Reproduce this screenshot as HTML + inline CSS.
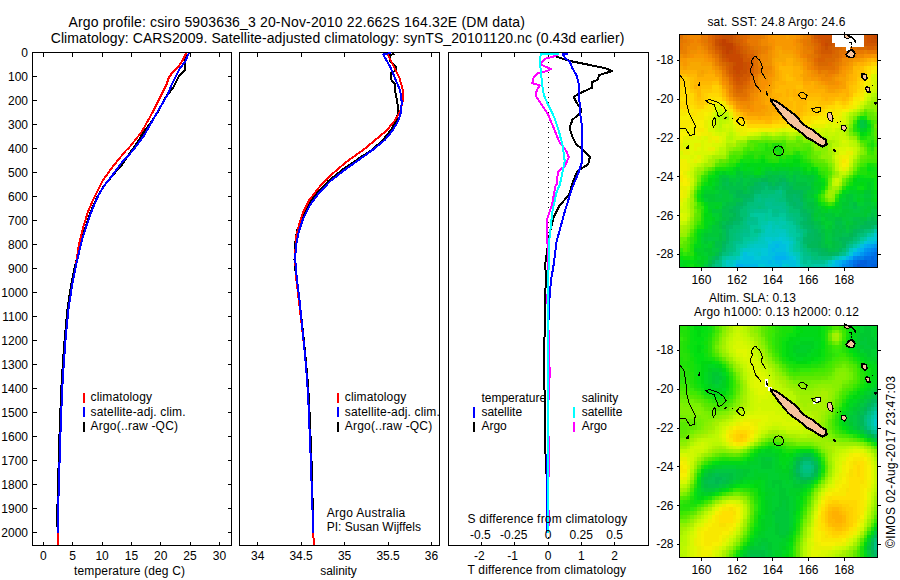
<!DOCTYPE html>
<html lang="en"><head><meta charset="utf-8"><title>Argo profile csiro 5903636_3</title>
<style>html,body{margin:0;padding:0;background:#fff}svg{display:block}</style></head>
<body>
<svg width="900" height="580" viewBox="0 0 900 580" font-family="'Liberation Sans', sans-serif" fill="#000">
<rect width="900" height="580" fill="#fff"/>
<text x="68.4" y="26.5" font-size="14" textLength="456.5" lengthAdjust="spacing">Argo profile: csiro 5903636_3 20-Nov-2010 22.662S 164.32E (DM data)</text>
<text x="50.7" y="42.5" font-size="14" textLength="573.7" lengthAdjust="spacing">Climatology: CARS2009. Satellite-adjusted climatology: synTS_20101120.nc (0.43d earlier)</text>
<g stroke="#000" stroke-width="1" fill="none" shape-rendering="crispEdges">
<rect x="32.5" y="52.5" width="199" height="493"/>
<path d="M43.5 52.5v4M43.5 545.5v-4M72.5 52.5v4M72.5 545.5v-4M102.5 52.5v4M102.5 545.5v-4M131.5 52.5v4M131.5 545.5v-4M160.5 52.5v4M160.5 545.5v-4M190.5 52.5v4M190.5 545.5v-4M219.5 52.5v4M219.5 545.5v-4M32.5 52.5h4M231.5 52.5h-4M32.5 76.5h4M231.5 76.5h-4M32.5 100.5h4M231.5 100.5h-4M32.5 124.5h4M231.5 124.5h-4M32.5 148.5h4M231.5 148.5h-4M32.5 172.5h4M231.5 172.5h-4M32.5 196.5h4M231.5 196.5h-4M32.5 220.5h4M231.5 220.5h-4M32.5 244.5h4M231.5 244.5h-4M32.5 268.5h4M231.5 268.5h-4M32.5 292.5h4M231.5 292.5h-4M32.5 316.5h4M231.5 316.5h-4M32.5 340.5h4M231.5 340.5h-4M32.5 364.5h4M231.5 364.5h-4M32.5 388.5h4M231.5 388.5h-4M32.5 412.5h4M231.5 412.5h-4M32.5 436.5h4M231.5 436.5h-4M32.5 460.5h4M231.5 460.5h-4M32.5 484.5h4M231.5 484.5h-4M32.5 508.5h4M231.5 508.5h-4M32.5 532.5h4M231.5 532.5h-4"/>
</g>
<text x="43.4" y="559.5" font-size="12" text-anchor="middle">0</text>
<text x="72.7" y="559.5" font-size="12" text-anchor="middle">5</text>
<text x="102.1" y="559.5" font-size="12" text-anchor="middle">10</text>
<text x="131.4" y="559.5" font-size="12" text-anchor="middle">15</text>
<text x="160.7" y="559.5" font-size="12" text-anchor="middle">20</text>
<text x="190" y="559.5" font-size="12" text-anchor="middle">25</text>
<text x="219.4" y="559.5" font-size="12" text-anchor="middle">30</text>
<text x="28" y="57" font-size="12" text-anchor="end">0</text>
<text x="28" y="81" font-size="12" text-anchor="end">100</text>
<text x="28" y="105" font-size="12" text-anchor="end">200</text>
<text x="28" y="129" font-size="12" text-anchor="end">300</text>
<text x="28" y="153" font-size="12" text-anchor="end">400</text>
<text x="28" y="177" font-size="12" text-anchor="end">500</text>
<text x="28" y="201" font-size="12" text-anchor="end">600</text>
<text x="28" y="225" font-size="12" text-anchor="end">700</text>
<text x="28" y="249" font-size="12" text-anchor="end">800</text>
<text x="28" y="273" font-size="12" text-anchor="end">900</text>
<text x="28" y="297" font-size="12" text-anchor="end">1000</text>
<text x="28" y="321" font-size="12" text-anchor="end">1100</text>
<text x="28" y="345" font-size="12" text-anchor="end">1200</text>
<text x="28" y="369" font-size="12" text-anchor="end">1300</text>
<text x="28" y="393" font-size="12" text-anchor="end">1400</text>
<text x="28" y="417" font-size="12" text-anchor="end">1500</text>
<text x="28" y="441" font-size="12" text-anchor="end">1600</text>
<text x="28" y="465" font-size="12" text-anchor="end">1700</text>
<text x="28" y="489" font-size="12" text-anchor="end">1800</text>
<text x="28" y="513" font-size="12" text-anchor="end">1900</text>
<text x="28" y="537" font-size="12" text-anchor="end">2000</text>
<path d="M185.6 52.9L185.2 69.8L179 76L172.8 88.4L166.6 95.7L158.3 111.2L150 123.6L143.8 131.9L137.6 142.2L127.2 156.7L122 164.6L112.5 175.5L104 186L97.5 196.5L91 211L86 225.5L82 238L78.8 250L74.6 268L71.3 284L67.6 308L64.8 337L62.8 364L61.2 390L59.3 440L57.6 500L57 527" stroke="#000" stroke-width="2" fill="none" stroke-linejoin="round" shape-rendering="crispEdges"/>
<path d="M186.2 52.9L183.1 59.5L179 65.7L172.8 71.9L168.6 78.1L166.6 84.3L160.3 96.7L152 113.3L141.7 131.9L129.3 147.4L125.5 151L112.8 166.6L102.4 181L94.1 197.6L87.9 212L82.8 228.6L79.2 243L75.5 267.9L72.3 284.2L68.6 308.3L65.7 337.3L63.8 363.9L62.1 390.4L60.2 440L58.4 500L57.8 533L57.6 545" stroke="#f00" stroke-width="2" fill="none" stroke-linejoin="round" shape-rendering="crispEdges"/>
<path d="M188.9 52.9L185.2 61.6L179 69.8L172.8 82.2L167.6 94.7L160.3 107L152 121.6L143.8 136L132.4 151L121 163.5L112.8 174.8L104.5 185.2L98.3 195.5L92 210L86.9 224.5L82.8 236.9L79.7 249.3L75.5 267.9L72.3 284.2L68.6 308.3L65.7 337.3L63.8 363.9L62.1 390.4L60.2 440L58.4 500L57.8 533" stroke="#00f" stroke-width="2" fill="none" stroke-linejoin="round" shape-rendering="crispEdges"/>
<text x="74" y="574.5" font-size="12" textLength="111" lengthAdjust="spacing">temperature (deg C)</text>
<path d="M84 393L84 403" stroke="#f00" stroke-width="2" shape-rendering="crispEdges"/>
<text x="90.6" y="401.3" font-size="12" textLength="61.4" lengthAdjust="spacing">climatology</text>
<path d="M84 407L84 417" stroke="#00f" stroke-width="2" shape-rendering="crispEdges"/>
<text x="90.6" y="415.6" font-size="12" textLength="95" lengthAdjust="spacing">satellite-adj. clim.</text>
<path d="M84 422L84 432" stroke="#000" stroke-width="2" shape-rendering="crispEdges"/>
<text x="90.6" y="429.9" font-size="12" textLength="87.4" lengthAdjust="spacing">Argo(..raw -QC)</text>
<g stroke="#000" stroke-width="1" fill="none" shape-rendering="crispEdges">
<rect x="239.5" y="52.5" width="200" height="493"/>
<path d="M257.5 52.5v4M257.5 545.5v-4M301.5 52.5v4M301.5 545.5v-4M344.5 52.5v4M344.5 545.5v-4M388.5 52.5v4M388.5 545.5v-4M431.5 52.5v4M431.5 545.5v-4"/>
</g>
<text x="257.7" y="559.5" font-size="12" text-anchor="middle">34</text>
<text x="301.1" y="559.5" font-size="12" text-anchor="middle">34.5</text>
<text x="344.6" y="559.5" font-size="12" text-anchor="middle">35</text>
<text x="388.1" y="559.5" font-size="12" text-anchor="middle">35.5</text>
<text x="431.5" y="559.5" font-size="12" text-anchor="middle">36</text>
<path d="M394.5 53.5L389.7 55.4L389.7 61.1L392.6 64L396.4 67.8L395.4 70.6L390.7 73.4L391.6 81L395.4 84.8L395.4 92.4L397.3 101.9L398.3 111.4L396.4 120.9L390.7 130.3L383.1 139.8L372.7 149.3L357 159.7L342 170L328 181.4L315.5 194.8L307.5 206.2L301.5 218.6L297 231L294.8 245.5L294.5 259.6L296 275.9L299.5 301.7L302.5 327.6L305.2 353.4L307.5 379.3L309 399.5L311.5 460L313.3 527" stroke="#000" stroke-width="2" fill="none" stroke-linejoin="round" shape-rendering="crispEdges"/>
<path d="M387.8 54.5L392.6 64L399.2 77.2L403 90.5L403 100L400.2 111.4L394.5 120.9L386.9 130.3L375.5 139.8L364.1 149.3L346.6 161.7L332.1 174.1L319.7 186.6L309.3 200L303.1 212.4L299 224.8L295.9 237.2L295.2 259.6L296 276L299 302L302.1 327.6L304.9 353.4L307 379.3L308.3 399.5L310.8 460L313.3 533L313.8 545" stroke="#f00" stroke-width="2" fill="none" stroke-linejoin="round" shape-rendering="crispEdges"/>
<path d="M390.7 53L383.1 54.5L385.9 59.2L390.7 67.8L395.4 79.1L400.2 90.5L401.7 101.9L401.1 111.4L398.3 120.9L392.6 130.3L385 139.8L373.5 149.3L359 159.7L344.5 170L330 181.4L317.6 194.8L309.3 206.2L303.1 218.6L299 231L295.9 245.5L295.2 259.6L296.6 275.9L299.7 301.7L302.3 327.6L304.9 353.4L307 379.3L308.3 399.5L310.8 460L313.3 533" stroke="#00f" stroke-width="2" fill="none" stroke-linejoin="round" shape-rendering="crispEdges"/>
<text x="338.5" y="574.5" font-size="12" text-anchor="middle">salinity</text>
<path d="M338 393L338 403" stroke="#f00" stroke-width="2" shape-rendering="crispEdges"/>
<text x="344.8" y="401.3" font-size="12" textLength="61.4" lengthAdjust="spacing">climatology</text>
<path d="M338 407L338 417" stroke="#00f" stroke-width="2" shape-rendering="crispEdges"/>
<text x="344.8" y="415.6" font-size="12" textLength="95" lengthAdjust="spacing">satellite-adj. clim.</text>
<path d="M338 422L338 432" stroke="#000" stroke-width="2" shape-rendering="crispEdges"/>
<text x="344.8" y="429.9" font-size="12" textLength="87.4" lengthAdjust="spacing">Argo(..raw -QC)</text>
<text x="326.7" y="516.5" font-size="12" textLength="78.6" lengthAdjust="spacing">Argo Australia</text>
<text x="326.7" y="530.5" font-size="12" textLength="94.3" lengthAdjust="spacing">PI: Susan Wijffels</text>
<g stroke="#000" stroke-width="1" fill="none" shape-rendering="crispEdges">
<rect x="448.5" y="52.5" width="200" height="493"/>
<path d="M481.5 52.5v4M481.5 545.5v-4M514.5 52.5v4M514.5 545.5v-4M548.5 52.5v4M548.5 545.5v-4M581.5 52.5v4M581.5 545.5v-4M614.5 52.5v4M614.5 545.5v-4"/>
</g>
<path d="M548.5 52L548.5 545" stroke="#000" stroke-width="1" stroke-dasharray="1 4" shape-rendering="crispEdges"/>
<path d="M554 55.5L560 58L572.4 61.5L590 65L606.2 68.5L612.2 71L599 75.2L597.8 79.5L591.7 82.5L592.5 87.5L579.7 93.3L573.6 96.9L576 101.7L580.9 109L580.9 112.6L572.4 119.8L569.5 128.3L572.4 136.7L576 144L583.3 150L589.8 157.2L588.1 164.5L582.1 168.1L577.2 171.7L573.1 181L569 194.8L559.3 205.9L553.8 216.9L549.7 233.4L546.9 252.8L545 265.2L546 274.8L545.2 296.9L545.2 329.4L543.8 345L543.8 378L544.8 395L544.8 440L546.5 473.8L546.5 527" stroke="#000" stroke-width="2" fill="none" stroke-linejoin="round" shape-rendering="crispEdges"/>
<path d="M568 53.6L562.5 53.6L565 58L570 62L572.3 68L577 76.4L579 85L579.3 93.3L579.7 110.2L582.1 127.1L582.5 146.4L581.6 163.3L578.4 172.9L573.6 184.5L571.7 189.3L564.8 211.4L556.6 241.7L553.8 263.8L551 280.3L549.1 302.4L548.2 330L548 400L547.5 455L546.5 478L546.5 533" stroke="#00f" stroke-width="2" fill="none" stroke-linejoin="round" shape-rendering="crispEdges"/>
<path d="M557.8 54.9L552 57L546 58.5L542.2 61.5L540.5 64.3L545 66.5L551 68.8L547 71L542.2 72.1L537.5 73.5L533.3 78.2L532.4 83.2L540 85.4L536.7 90.4L535.8 96L539.8 101.7L548.3 115L554.3 129.5L559.1 141.5L566.4 151.2L568.8 157.2L565.2 165.7L557.9 171.7L556.7 184.5L555.2 186.6L552.4 203.1L546.9 219.7L546.9 236.2L548.3 252.8L548.3 302.4" stroke="#f0f" stroke-width="2" fill="none" stroke-linejoin="round" shape-rendering="crispEdges"/>
<path d="M547 294L547 304" stroke="#f0f" stroke-width="2" shape-rendering="crispEdges"/>
<path d="M549 330L549 400" stroke="#f0f" stroke-width="2" shape-rendering="crispEdges"/>
<path d="M550 367L550 378" stroke="#f0f" stroke-width="2" shape-rendering="crispEdges"/>
<path d="M549 436L549 477" stroke="#f0f" stroke-width="2" shape-rendering="crispEdges"/>
<path d="M549 510L549 526" stroke="#f0f" stroke-width="2" shape-rendering="crispEdges"/>
<path d="M559 53.8L541 53.8L540 58L540.5 68L542.3 86L543.8 95L547.6 103.5L554.3 117.4L559.1 131.9L562.8 146.4L564.7 160.9L562.8 170.5L559.9 184.5L556.6 192.1L552.4 211.4L549.1 241.7L548.3 280.3L548.3 329.4L548 400L548.4 533" stroke="#0ff" stroke-width="2" fill="none" stroke-linejoin="round" shape-rendering="crispEdges"/>
<text x="479.4" y="559.5" font-size="12" text-anchor="middle">-2</text>
<text x="512.7" y="559.5" font-size="12" text-anchor="middle">-1</text>
<text x="548" y="559.5" font-size="12" text-anchor="middle">0</text>
<text x="581.3" y="559.5" font-size="12" text-anchor="middle">1</text>
<text x="614.6" y="559.5" font-size="12" text-anchor="middle">2</text>
<text x="480.4" y="538.5" font-size="12" text-anchor="middle">-0.5</text>
<text x="513.7" y="538.5" font-size="12" text-anchor="middle">-0.25</text>
<text x="548" y="538.5" font-size="12" text-anchor="middle">0</text>
<text x="581.3" y="538.5" font-size="12" text-anchor="middle">0.25</text>
<text x="614.6" y="538.5" font-size="12" text-anchor="middle">0.5</text>
<text x="467.5" y="523.3" font-size="12" textLength="159.8" lengthAdjust="spacing">S difference from climatology</text>
<text x="467.5" y="574" font-size="12" textLength="158.6" lengthAdjust="spacing">T difference from climatology</text>
<text x="481.4" y="401.5" font-size="12">temperature</text>
<text x="481.4" y="415.6" font-size="12">satellite</text>
<text x="481.4" y="429.8" font-size="12">Argo</text>
<path d="M474 407L474 418" stroke="#00f" stroke-width="2" shape-rendering="crispEdges"/>
<path d="M474 422L474 432" stroke="#000" stroke-width="2" shape-rendering="crispEdges"/>
<text x="581.7" y="401.5" font-size="12">salinity</text>
<text x="581.7" y="415.6" font-size="12">satellite</text>
<text x="581.7" y="429.8" font-size="12">Argo</text>
<path d="M574 407L574 418" stroke="#0ff" stroke-width="2" shape-rendering="crispEdges"/>
<path d="M574 422L574 432" stroke="#f0f" stroke-width="2" shape-rendering="crispEdges"/>
<g shape-rendering="crispEdges">
<path fill="#e07000" d="M679.5 34.5h3.5v4h-3.5zM746.5 34.5h3.5v4h-3.5zM708 42.5h3.5v3.5h-3.5zM746.5 42.5h3.5v3.5h-3.5zM810.5 42.5h3.5v3.5h-3.5zM708 46h3.5v4h-3.5zM750 46h4v4h-4zM842 46h14.5v4h-14.5zM711.5 50h3.5v4h-3.5zM754 50h3.5v4h-3.5zM838.5 50h10.5v4h-10.5zM715 54h3.5v4h-3.5zM754 54h3.5v4h-3.5zM814 54h3.5v4h-3.5zM838.5 54h3.5v4h-3.5zM754 58h3.5v3.5h-3.5zM835 58h3.5v3.5h-3.5zM718.5 61.5h3.5v4h-3.5zM754 61.5h3.5v4h-3.5zM814 61.5h3.5v4h-3.5zM831.5 61.5h3.5v4h-3.5zM722 65.5h3.5v4h-3.5zM754 65.5h3.5v4h-3.5zM817.5 65.5h17.5v4h-17.5zM754 69.5h3.5v4h-3.5zM725.5 73.5h3.5v3.5h-3.5zM750 77h4v4h-4zM729 81h3.5v4h-3.5zM746.5 85h3.5v4h-3.5zM732.5 89h3.5v4h-3.5zM743 89h3.5v4h-3.5zM736 93h10.5v3.5h-10.5z"/>
<path fill="#e88000" d="M683 34.5h3.5v4h-3.5zM761 34.5h3.5v4h-3.5zM803 34.5h4v4h-4zM686.5 38.5h3.5v4h-3.5zM757.5 38.5h3.5v4h-3.5zM799.5 38.5h3.5v4h-3.5zM683 42.5h7v3.5h-7zM700.5 42.5h3.5v3.5h-3.5zM757.5 42.5h3.5v3.5h-3.5zM683 46h3.5v4h-3.5zM704 46h4v4h-4zM761 46h7v4h-7zM803 46h4v4h-4zM679.5 50h7v4h-7zM761 50h3.5v4h-3.5zM803 50h7.5v4h-7.5zM863.5 50h3.5v4h-3.5zM757.5 54h3.5v4h-3.5zM845.5 54h11v4h-11zM757.5 58h3.5v3.5h-3.5zM807 58h3.5v3.5h-3.5zM715 61.5h3.5v4h-3.5zM757.5 61.5h3.5v4h-3.5zM810.5 61.5h3.5v4h-3.5zM838.5 61.5h3.5v4h-3.5zM718.5 65.5h3.5v4h-3.5zM821 69.5h7v4h-7zM835 69.5h3.5v4h-3.5zM722 73.5h3.5v3.5h-3.5zM824.5 73.5h3.5v3.5h-3.5zM725.5 77h3.5v4h-3.5zM754 77h3.5v4h-3.5zM754 81h3.5v4h-3.5zM729 85h3.5v4h-3.5zM729 89h3.5v4h-3.5zM750 89h4v4h-4zM736 96.5h3.5v4h-3.5zM746.5 96.5h3.5v4h-3.5z"/>
<path fill="#f08000" d="M686.5 34.5h3.5v4h-3.5zM690 38.5h3.5v4h-3.5zM697 38.5h3.5v4h-3.5zM764.5 50h3.5v4h-3.5zM803 54h4v4h-4zM810.5 65.5h3.5v4h-3.5zM828 73.5h3.5v3.5h-3.5z"/>
<path fill="#f08800" d="M690 34.5h10.5v4h-10.5zM764.5 34.5h3.5v4h-3.5zM799.5 34.5h3.5v4h-3.5zM693.5 38.5h3.5v4h-3.5zM761 38.5h7v4h-7zM796 38.5h3.5v4h-3.5zM690 42.5h10.5v3.5h-10.5zM761 42.5h7v3.5h-7zM799.5 42.5h3.5v3.5h-3.5zM686.5 46h10.5v4h-10.5zM700.5 46h3.5v4h-3.5zM768 46h3.5v4h-3.5zM799.5 46h3.5v4h-3.5zM686.5 50h3.5v4h-3.5zM704 50h4v4h-4zM799.5 50h3.5v4h-3.5zM683 54h3.5v4h-3.5zM708 54h3.5v4h-3.5zM761 54h7v4h-7zM799.5 54h3.5v4h-3.5zM856.5 54h7v4h-7zM711.5 58h3.5v3.5h-3.5zM761 58h7v3.5h-7zM842 58h7v3.5h-7zM761 61.5h3.5v4h-3.5zM807 61.5h3.5v4h-3.5zM842 61.5h3.5v4h-3.5zM761 65.5h10.5v4h-10.5zM807 65.5h3.5v4h-3.5zM838.5 65.5h3.5v4h-3.5zM761 69.5h7v4h-7zM814 69.5h3.5v4h-3.5zM757.5 73.5h3.5v3.5h-3.5zM817.5 73.5h7v3.5h-7zM831.5 73.5h3.5v3.5h-3.5zM722 77h3.5v4h-3.5zM821 77h10.5v4h-10.5zM725.5 81h3.5v4h-3.5zM754 85h3.5v4h-3.5zM754 89h3.5v4h-3.5zM729 93h3.5v3.5h-3.5zM750 93h4v3.5h-4zM732.5 96.5h3.5v4h-3.5zM750 96.5h4v4h-4zM739.5 100.5h10.5v4h-10.5zM746.5 104.5h3.5v4h-3.5z"/>
<path fill="#e87800" d="M700.5 34.5h7.5v4h-7.5zM750 34.5h11v4h-11zM807 34.5h3.5v4h-3.5zM683 38.5h3.5v4h-3.5zM700.5 38.5h3.5v4h-3.5zM746.5 38.5h11v4h-11zM803 38.5h4v4h-4zM679.5 42.5h3.5v3.5h-3.5zM704 42.5h4v3.5h-4zM750 42.5h7.5v3.5h-7.5zM803 42.5h4v3.5h-4zM679.5 46h3.5v4h-3.5zM757.5 46h3.5v4h-3.5zM807 46h3.5v4h-3.5zM708 50h3.5v4h-3.5zM757.5 50h3.5v4h-3.5zM810.5 50h3.5v4h-3.5zM853 50h10.5v4h-10.5zM867 50h10.5v4h-10.5zM711.5 54h3.5v4h-3.5zM807 54h3.5v4h-3.5zM842 54h3.5v4h-3.5zM715 58h3.5v3.5h-3.5zM810.5 58h3.5v3.5h-3.5zM838.5 58h3.5v3.5h-3.5zM757.5 65.5h3.5v4h-3.5zM814 65.5h3.5v4h-3.5zM835 65.5h3.5v4h-3.5zM722 69.5h3.5v4h-3.5zM757.5 69.5h3.5v4h-3.5zM817.5 69.5h3.5v4h-3.5zM828 69.5h7v4h-7zM754 73.5h3.5v3.5h-3.5zM750 81h4v4h-4zM750 85h4v4h-4zM746.5 89h3.5v4h-3.5zM746.5 93h3.5v3.5h-3.5zM739.5 96.5h7v4h-7z"/>
<path fill="#e06800" d="M708 34.5h3.5v4h-3.5zM743 34.5h3.5v4h-3.5zM708 38.5h3.5v4h-3.5zM743 38.5h3.5v4h-3.5zM810.5 38.5h3.5v4h-3.5zM845.5 42.5h7.5v3.5h-7.5zM814 46h3.5v4h-3.5zM750 50h4v4h-4zM814 58h3.5v3.5h-3.5zM828 61.5h3.5v4h-3.5zM729 77h3.5v4h-3.5zM746.5 81h3.5v4h-3.5zM732.5 85h3.5v4h-3.5z"/>
<path fill="#d86000" d="M711.5 34.5h3.5v4h-3.5zM736 34.5h3.5v4h-3.5zM838.5 34.5h7v4h-7zM849 34.5h4v4h-4zM711.5 38.5h3.5v4h-3.5zM739.5 38.5h3.5v4h-3.5zM814 38.5h3.5v4h-3.5zM842 38.5h7v4h-7zM853 38.5h3.5v4h-3.5zM711.5 42.5h3.5v3.5h-3.5zM739.5 42.5h3.5v3.5h-3.5zM817.5 42.5h3.5v3.5h-3.5zM838.5 42.5h3.5v3.5h-3.5zM856.5 42.5h3.5v3.5h-3.5zM743 46h3.5v4h-3.5zM817.5 46h3.5v4h-3.5zM835 46h3.5v4h-3.5zM867 46h7v4h-7zM715 50h3.5v4h-3.5zM817.5 50h3.5v4h-3.5zM831.5 50h3.5v4h-3.5zM746.5 54h7.5v4h-7.5zM821 54h10.5v4h-10.5zM750 58h4v3.5h-4zM817.5 58h7v3.5h-7zM725.5 65.5h3.5v4h-3.5zM750 65.5h4v4h-4zM750 69.5h4v4h-4zM729 73.5h3.5v3.5h-3.5zM746.5 77h3.5v4h-3.5zM732.5 81h3.5v4h-3.5zM743 81h3.5v4h-3.5zM736 85h7v4h-7z"/>
<path fill="#d05800" d="M715 34.5h3.5v4h-3.5zM732.5 34.5h3.5v4h-3.5zM814 34.5h3.5v4h-3.5zM835 34.5h3.5v4h-3.5zM856.5 34.5h10.5v4h-10.5zM732.5 38.5h3.5v4h-3.5zM817.5 38.5h3.5v4h-3.5zM835 38.5h3.5v4h-3.5zM856.5 38.5h10.5v4h-10.5zM736 42.5h3.5v3.5h-3.5zM831.5 42.5h3.5v3.5h-3.5zM863.5 42.5h14v3.5h-14zM715 46h3.5v4h-3.5zM739.5 46h3.5v4h-3.5zM821 46h3.5v4h-3.5zM828 46h3.5v4h-3.5zM718.5 50h3.5v4h-3.5zM739.5 50h3.5v4h-3.5zM821 50h10.5v4h-10.5zM743 54h3.5v4h-3.5zM722 58h3.5v3.5h-3.5zM743 58h7v3.5h-7zM729 61.5h3.5v4h-3.5zM729 65.5h3.5v4h-3.5zM729 69.5h3.5v4h-3.5zM746.5 69.5h3.5v4h-3.5zM743 73.5h7v3.5h-7zM732.5 77h3.5v4h-3.5zM739.5 77h7v4h-7zM736 81h7v4h-7z"/>
<path fill="#d05000" d="M718.5 34.5h3.5v4h-3.5zM817.5 34.5h14v4h-14zM867 34.5h3.5v4h-3.5zM821 38.5h3.5v4h-3.5zM831.5 38.5h3.5v4h-3.5zM867 38.5h3.5v4h-3.5zM821 42.5h3.5v3.5h-3.5zM736 46h3.5v4h-3.5zM725.5 58h3.5v3.5h-3.5zM746.5 61.5h3.5v4h-3.5zM746.5 65.5h3.5v4h-3.5zM732.5 73.5h3.5v3.5h-3.5zM736 77h3.5v4h-3.5z"/>
<path fill="#c85000" d="M722 34.5h10.5v4h-10.5zM831.5 34.5h3.5v4h-3.5zM870.5 34.5h3.5v4h-3.5zM715 38.5h3.5v4h-3.5zM729 38.5h3.5v4h-3.5zM824.5 38.5h7v4h-7zM870.5 38.5h7v4h-7zM715 42.5h3.5v3.5h-3.5zM732.5 42.5h3.5v3.5h-3.5zM828 42.5h3.5v3.5h-3.5zM718.5 46h3.5v4h-3.5zM824.5 46h3.5v4h-3.5zM736 50h3.5v4h-3.5zM722 54h3.5v4h-3.5zM739.5 54h3.5v4h-3.5zM732.5 61.5h3.5v4h-3.5zM743 61.5h3.5v4h-3.5zM743 65.5h3.5v4h-3.5zM732.5 69.5h3.5v4h-3.5zM739.5 69.5h7v4h-7zM736 73.5h7v3.5h-7z"/>
<path fill="#d86800" d="M739.5 34.5h3.5v4h-3.5zM810.5 34.5h3.5v4h-3.5zM849 38.5h4v4h-4zM743 42.5h3.5v3.5h-3.5zM814 42.5h3.5v3.5h-3.5zM842 42.5h3.5v3.5h-3.5zM853 42.5h3.5v3.5h-3.5zM711.5 46h3.5v4h-3.5zM746.5 46h3.5v4h-3.5zM838.5 46h3.5v4h-3.5zM856.5 46h10.5v4h-10.5zM874 46h3.5v4h-3.5zM746.5 50h3.5v4h-3.5zM814 50h3.5v4h-3.5zM835 50h3.5v4h-3.5zM817.5 54h3.5v4h-3.5zM831.5 54h7v4h-7zM718.5 58h3.5v3.5h-3.5zM824.5 58h10.5v3.5h-10.5zM722 61.5h3.5v4h-3.5zM817.5 61.5h10.5v4h-10.5zM725.5 69.5h3.5v4h-3.5zM750 73.5h4v3.5h-4zM743 85h3.5v4h-3.5zM736 89h7v4h-7z"/>
<path fill="#f89000" d="M768 34.5h3.5v4h-3.5zM796 34.5h3.5v4h-3.5zM768 38.5h7v4h-7zM792.5 38.5h3.5v4h-3.5zM771.5 42.5h3.5v3.5h-3.5zM792.5 42.5h3.5v3.5h-3.5zM771.5 46h3.5v4h-3.5zM697 50h3.5v4h-3.5zM796 50h3.5v4h-3.5zM690 54h3.5v4h-3.5zM704 54h4v4h-4zM863.5 54h7v4h-7zM708 58h3.5v3.5h-3.5zM803 61.5h4v4h-4zM842 65.5h3.5v4h-3.5zM768 73.5h3.5v3.5h-3.5zM810.5 73.5h3.5v3.5h-3.5zM761 77h3.5v4h-3.5zM817.5 77h3.5v4h-3.5zM722 81h3.5v4h-3.5zM761 81h7v4h-7zM824.5 81h3.5v4h-3.5zM835 81h3.5v4h-3.5zM761 85h3.5v4h-3.5zM757.5 89h3.5v4h-3.5zM754 96.5h3.5v4h-3.5zM739.5 104.5h3.5v4h-3.5zM750 104.5h4v4h-4zM750 108.5h4v3.5h-4z"/>
<path fill="#f89800" d="M771.5 34.5h14v4h-14zM789 34.5h7v4h-7zM775 38.5h17.5v4h-17.5zM775 42.5h17.5v3.5h-17.5zM782 46h14v4h-14zM771.5 50h3.5v4h-3.5zM792.5 50h3.5v4h-3.5zM693.5 54h10.5v4h-10.5zM771.5 54h3.5v4h-3.5zM796 54h3.5v4h-3.5zM870.5 54h7v4h-7zM679.5 58h7v3.5h-7zM704 58h4v3.5h-4zM799.5 58h3.5v3.5h-3.5zM853 58h7v3.5h-7zM683 61.5h3.5v4h-3.5zM849 61.5h4v4h-4zM711.5 65.5h3.5v4h-3.5zM771.5 65.5h3.5v4h-3.5zM803 65.5h4v4h-4zM845.5 65.5h3.5v4h-3.5zM715 69.5h3.5v4h-3.5zM771.5 69.5h3.5v4h-3.5zM807 69.5h3.5v4h-3.5zM842 69.5h3.5v4h-3.5zM718.5 73.5h3.5v3.5h-3.5zM771.5 73.5h3.5v3.5h-3.5zM807 73.5h3.5v3.5h-3.5zM838.5 73.5h7v3.5h-7zM768 77h3.5v4h-3.5zM810.5 77h7v4h-7zM835 77h3.5v4h-3.5zM768 81h3.5v4h-3.5zM821 81h3.5v4h-3.5zM838.5 81h3.5v4h-3.5zM764.5 85h3.5v4h-3.5zM828 85h10.5v4h-10.5zM725.5 89h3.5v4h-3.5zM761 89h3.5v4h-3.5zM757.5 93h3.5v3.5h-3.5zM729 96.5h3.5v4h-3.5zM757.5 96.5h3.5v4h-3.5zM754 100.5h7v4h-7zM736 104.5h3.5v4h-3.5zM754 104.5h10.5v4h-10.5zM743 108.5h7v3.5h-7zM754 108.5h7v3.5h-7z"/>
<path fill="#f8a000" d="M785.5 34.5h3.5v4h-3.5zM775 46h7v4h-7zM775 50h3.5v4h-3.5zM782 50h10.5v4h-10.5zM775 54h3.5v4h-3.5zM792.5 54h3.5v4h-3.5zM686.5 58h17.5v3.5h-17.5zM771.5 58h3.5v3.5h-3.5zM796 58h3.5v3.5h-3.5zM860 58h3.5v3.5h-3.5zM679.5 61.5h3.5v4h-3.5zM686.5 61.5h3.5v4h-3.5zM700.5 61.5h11v4h-11zM771.5 61.5h3.5v4h-3.5zM799.5 61.5h3.5v4h-3.5zM683 65.5h3.5v4h-3.5zM849 65.5h4v4h-4zM700.5 69.5h3.5v4h-3.5zM803 69.5h4v4h-4zM845.5 69.5h3.5v4h-3.5zM715 73.5h3.5v3.5h-3.5zM803 73.5h4v3.5h-4zM718.5 77h3.5v4h-3.5zM771.5 77h3.5v4h-3.5zM803 77h7.5v4h-7.5zM838.5 77h7v4h-7zM817.5 81h3.5v4h-3.5zM842 81h3.5v4h-3.5zM722 85h3.5v4h-3.5zM768 85h3.5v4h-3.5zM824.5 85h3.5v4h-3.5zM838.5 85h7v4h-7zM764.5 89h7v4h-7zM828 89h7v4h-7zM725.5 93h3.5v3.5h-3.5zM761 93h3.5v3.5h-3.5zM761 96.5h3.5v4h-3.5zM732.5 100.5h3.5v4h-3.5zM761 100.5h3.5v4h-3.5zM764.5 104.5h3.5v4h-3.5zM739.5 108.5h3.5v3.5h-3.5zM761 108.5h7v3.5h-7zM746.5 112h18v4h-18z"/>
<path fill="#d06000" d="M845.5 34.5h3.5v4h-3.5zM853 34.5h3.5v4h-3.5zM736 38.5h3.5v4h-3.5zM838.5 38.5h3.5v4h-3.5zM835 42.5h3.5v3.5h-3.5zM860 42.5h3.5v3.5h-3.5zM831.5 46h3.5v4h-3.5zM743 50h3.5v4h-3.5zM718.5 54h3.5v4h-3.5zM725.5 61.5h3.5v4h-3.5zM750 61.5h4v4h-4z"/>
<path fill="#c84800" d="M874 34.5h3.5v4h-3.5zM718.5 38.5h3.5v4h-3.5zM725.5 38.5h3.5v4h-3.5zM824.5 42.5h3.5v3.5h-3.5zM732.5 46h3.5v4h-3.5zM722 50h3.5v4h-3.5zM732.5 50h3.5v4h-3.5zM725.5 54h14v4h-14zM729 58h14v3.5h-14zM736 61.5h7v4h-7zM732.5 65.5h10.5v4h-10.5zM736 69.5h3.5v4h-3.5z"/>
<path fill="#e07800" d="M679.5 38.5h3.5v4h-3.5zM704 38.5h4v4h-4zM807 38.5h3.5v4h-3.5zM807 42.5h3.5v3.5h-3.5zM754 46h3.5v4h-3.5zM810.5 46h3.5v4h-3.5zM849 50h4v4h-4zM810.5 54h3.5v4h-3.5zM835 61.5h3.5v4h-3.5zM732.5 93h3.5v3.5h-3.5z"/>
<path fill="#c04000" d="M722 38.5h3.5v4h-3.5zM722 42.5h10.5v3.5h-10.5zM725.5 46h7v4h-7zM725.5 50h3.5v4h-3.5z"/>
<path fill="#c04800" d="M718.5 42.5h3.5v3.5h-3.5zM722 46h3.5v4h-3.5zM729 50h3.5v4h-3.5z"/>
<path fill="#f09000" d="M768 42.5h3.5v3.5h-3.5zM796 42.5h3.5v3.5h-3.5zM697 46h3.5v4h-3.5zM796 46h3.5v4h-3.5zM690 50h7v4h-7zM700.5 50h3.5v4h-3.5zM768 50h3.5v4h-3.5zM679.5 54h3.5v4h-3.5zM686.5 54h3.5v4h-3.5zM768 54h3.5v4h-3.5zM768 58h3.5v3.5h-3.5zM803 58h4v3.5h-4zM849 58h4v3.5h-4zM711.5 61.5h3.5v4h-3.5zM764.5 61.5h7v4h-7zM845.5 61.5h3.5v4h-3.5zM715 65.5h3.5v4h-3.5zM718.5 69.5h3.5v4h-3.5zM768 69.5h3.5v4h-3.5zM810.5 69.5h3.5v4h-3.5zM838.5 69.5h3.5v4h-3.5zM761 73.5h7v3.5h-7zM814 73.5h3.5v3.5h-3.5zM835 73.5h3.5v3.5h-3.5zM757.5 77h3.5v4h-3.5zM764.5 77h3.5v4h-3.5zM831.5 77h3.5v4h-3.5zM757.5 81h3.5v4h-3.5zM828 81h7v4h-7zM725.5 85h3.5v4h-3.5zM757.5 85h3.5v4h-3.5zM754 93h3.5v3.5h-3.5zM736 100.5h3.5v4h-3.5zM750 100.5h4v4h-4zM743 104.5h3.5v4h-3.5z"/>
<path fill="#f8a800" d="M778.5 50h3.5v4h-3.5zM778.5 54h14v4h-14zM775 58h10.5v3.5h-10.5zM792.5 58h3.5v3.5h-3.5zM863.5 58h3.5v3.5h-3.5zM690 61.5h10.5v4h-10.5zM792.5 61.5h7v4h-7zM853 61.5h3.5v4h-3.5zM679.5 65.5h3.5v4h-3.5zM686.5 65.5h25v4h-25zM799.5 65.5h3.5v4h-3.5zM697 69.5h3.5v4h-3.5zM704 69.5h4v4h-4zM711.5 69.5h3.5v4h-3.5zM775 69.5h3.5v4h-3.5zM849 69.5h4v4h-4zM697 73.5h7v3.5h-7zM775 73.5h3.5v3.5h-3.5zM799.5 73.5h3.5v3.5h-3.5zM845.5 73.5h3.5v3.5h-3.5zM775 77h3.5v4h-3.5zM845.5 77h3.5v4h-3.5zM718.5 81h3.5v4h-3.5zM771.5 81h3.5v4h-3.5zM814 81h3.5v4h-3.5zM771.5 85h3.5v4h-3.5zM817.5 85h7v4h-7zM824.5 89h3.5v4h-3.5zM835 89h3.5v4h-3.5zM764.5 93h7v3.5h-7zM764.5 96.5h3.5v4h-3.5zM771.5 96.5h3.5v4h-3.5zM771.5 100.5h3.5v4h-3.5zM768 104.5h14v4h-14zM768 108.5h10.5v3.5h-10.5zM764.5 112h7v4h-7z"/>
<path fill="#ffb000" d="M785.5 58h7v3.5h-7zM867 58h3.5v3.5h-3.5zM874 58h3.5v3.5h-3.5zM778.5 61.5h3.5v4h-3.5zM785.5 61.5h7v4h-7zM856.5 61.5h7v4h-7zM792.5 65.5h7v4h-7zM679.5 69.5h17.5v4h-17.5zM778.5 69.5h3.5v4h-3.5zM792.5 69.5h10.5v4h-10.5zM704 73.5h11v3.5h-11zM778.5 73.5h3.5v3.5h-3.5zM792.5 73.5h7v3.5h-7zM849 73.5h4v3.5h-4zM697 77h21.5v4h-21.5zM778.5 77h3.5v4h-3.5zM796 77h7v4h-7zM849 77h4v4h-4zM775 81h10.5v4h-10.5zM810.5 81h3.5v4h-3.5zM845.5 81h3.5v4h-3.5zM693.5 85h3.5v4h-3.5zM775 85h3.5v4h-3.5zM803 85h11v4h-11zM845.5 85h3.5v4h-3.5zM722 89h3.5v4h-3.5zM771.5 89h3.5v4h-3.5zM785.5 89h3.5v4h-3.5zM792.5 89h3.5v4h-3.5zM807 89h17.5v4h-17.5zM842 89h7v4h-7zM771.5 93h10.5v3.5h-10.5zM785.5 93h3.5v3.5h-3.5zM792.5 93h7v3.5h-7zM821 93h17.5v3.5h-17.5zM845.5 93h3.5v3.5h-3.5zM725.5 96.5h3.5v4h-3.5zM775 96.5h3.5v4h-3.5zM799.5 96.5h3.5v4h-3.5zM824.5 96.5h3.5v4h-3.5zM729 100.5h3.5v4h-3.5zM775 100.5h7v4h-7zM732.5 104.5h3.5v4h-3.5zM782 104.5h3.5v4h-3.5zM736 108.5h3.5v3.5h-3.5zM778.5 108.5h7v3.5h-7zM771.5 112h7v4h-7zM746.5 116h11v4h-11zM761 116h10.5v4h-10.5z"/>
<path fill="#ffb800" d="M870.5 58h3.5v3.5h-3.5zM863.5 61.5h3.5v4h-3.5zM778.5 65.5h14v4h-14zM853 65.5h7v4h-7zM782 69.5h10.5v4h-10.5zM853 69.5h3.5v4h-3.5zM686.5 73.5h10.5v3.5h-10.5zM782 73.5h3.5v3.5h-3.5zM789 73.5h3.5v3.5h-3.5zM853 73.5h3.5v3.5h-3.5zM693.5 77h3.5v4h-3.5zM782 77h3.5v4h-3.5zM792.5 77h3.5v4h-3.5zM853 77h3.5v4h-3.5zM693.5 81h18v4h-18zM785.5 81h17.5v4h-17.5zM849 81h4v4h-4zM697 85h3.5v4h-3.5zM778.5 85h17.5v4h-17.5zM697 89h3.5v4h-3.5zM775 89h10.5v4h-10.5zM789 89h3.5v4h-3.5zM796 89h11v4h-11zM697 93h3.5v3.5h-3.5zM722 93h3.5v3.5h-3.5zM782 93h3.5v3.5h-3.5zM789 93h3.5v3.5h-3.5zM799.5 93h21.5v3.5h-21.5zM838.5 93h7v3.5h-7zM778.5 96.5h10.5v4h-10.5zM792.5 96.5h7v4h-7zM803 96.5h4v4h-4zM821 96.5h3.5v4h-3.5zM828 96.5h7v4h-7zM842 96.5h3.5v4h-3.5zM782 100.5h10.5v4h-10.5zM796 100.5h11v4h-11zM785.5 104.5h7v4h-7zM796 104.5h7v4h-7zM785.5 108.5h3.5v3.5h-3.5zM796 108.5h7v3.5h-7zM739.5 112h3.5v4h-3.5zM778.5 112h10.5v4h-10.5zM792.5 112h7v4h-7zM743 116h3.5v4h-3.5zM771.5 116h7v4h-7zM782 116h7v4h-7zM764.5 120h7v4h-7z"/>
<path fill="#ffa800" d="M775 61.5h3.5v4h-3.5zM782 61.5h3.5v4h-3.5zM775 65.5h3.5v4h-3.5zM708 69.5h3.5v4h-3.5zM803 81h7.5v4h-7.5zM814 85h3.5v4h-3.5zM838.5 89h3.5v4h-3.5zM768 96.5h3.5v4h-3.5zM764.5 100.5h7v4h-7zM743 112h3.5v4h-3.5zM757.5 116h3.5v4h-3.5z"/>
<path fill="#ffc000" d="M867 61.5h3.5v4h-3.5zM860 65.5h3.5v4h-3.5zM856.5 69.5h7v4h-7zM679.5 73.5h7v3.5h-7zM785.5 73.5h3.5v3.5h-3.5zM856.5 73.5h3.5v3.5h-3.5zM690 77h3.5v4h-3.5zM785.5 77h7v4h-7zM690 81h3.5v4h-3.5zM711.5 81h7v4h-7zM853 81h3.5v4h-3.5zM690 85h3.5v4h-3.5zM700.5 85h11v4h-11zM718.5 85h3.5v4h-3.5zM796 85h7v4h-7zM849 85h4v4h-4zM693.5 89h3.5v4h-3.5zM849 89h4v4h-4zM849 93h4v3.5h-4zM697 96.5h3.5v4h-3.5zM789 96.5h3.5v4h-3.5zM807 96.5h14v4h-14zM835 96.5h7v4h-7zM845.5 96.5h3.5v4h-3.5zM792.5 100.5h3.5v4h-3.5zM817.5 100.5h14v4h-14zM792.5 104.5h3.5v4h-3.5zM803 104.5h4v4h-4zM789 108.5h7v3.5h-7zM803 108.5h4v3.5h-4zM789 112h3.5v4h-3.5zM799.5 112h3.5v4h-3.5zM778.5 116h3.5v4h-3.5zM796 116h3.5v4h-3.5zM750 120h14.5v4h-14.5z"/>
<path fill="#ffd000" d="M870.5 61.5h7v4h-7zM863.5 65.5h3.5v4h-3.5zM863.5 69.5h3.5v4h-3.5zM683 77h3.5v4h-3.5zM860 77h3.5v4h-3.5zM679.5 81h10.5v4h-10.5zM856.5 81h3.5v4h-3.5zM686.5 85h3.5v4h-3.5zM711.5 85h7v4h-7zM856.5 85h3.5v4h-3.5zM711.5 89h7v4h-7zM704 93h4v3.5h-4zM718.5 93h3.5v3.5h-3.5zM704 96.5h4v4h-4zM849 96.5h4v4h-4zM693.5 100.5h3.5v4h-3.5zM704 100.5h4v4h-4zM838.5 100.5h3.5v4h-3.5zM845.5 100.5h3.5v4h-3.5zM697 104.5h7v4h-7zM729 104.5h3.5v4h-3.5zM824.5 104.5h3.5v4h-3.5zM814 108.5h3.5v3.5h-3.5zM807 112h10.5v4h-10.5zM739.5 116h3.5v4h-3.5zM778.5 120h10.5v4h-10.5z"/>
<path fill="#ffd800" d="M867 65.5h3.5v4h-3.5zM863.5 73.5h3.5v3.5h-3.5zM679.5 85h7v4h-7zM679.5 89h3.5v4h-3.5zM686.5 89h3.5v4h-3.5zM856.5 89h3.5v4h-3.5zM679.5 93h14v3.5h-14zM708 93h10.5v3.5h-10.5zM853 93h3.5v3.5h-3.5zM686.5 96.5h7v4h-7zM679.5 100.5h14v4h-14zM835 100.5h3.5v4h-3.5zM679.5 104.5h10.5v4h-10.5zM693.5 104.5h3.5v4h-3.5zM828 104.5h7v4h-7zM842 104.5h3.5v4h-3.5zM817.5 108.5h7v3.5h-7zM732.5 112h3.5v4h-3.5zM817.5 112h3.5v4h-3.5zM736 116h3.5v4h-3.5zM803 116h7.5v4h-7.5zM743 120h3.5v4h-3.5zM789 120h14v4h-14zM746.5 124h25v3.5h-25z"/>
<path fill="#ffe000" d="M870.5 65.5h3.5v4h-3.5zM867 69.5h3.5v4h-3.5zM860 81h3.5v4h-3.5zM683 89h3.5v4h-3.5zM856.5 93h3.5v3.5h-3.5zM679.5 96.5h7v4h-7zM708 96.5h3.5v4h-3.5zM715 96.5h7v4h-7zM849 100.5h4v4h-4zM690 104.5h3.5v4h-3.5zM704 104.5h4v4h-4zM835 104.5h7v4h-7zM845.5 104.5h3.5v4h-3.5zM683 108.5h3.5v3.5h-3.5zM693.5 108.5h7v3.5h-7zM824.5 108.5h3.5v3.5h-3.5zM693.5 112h3.5v4h-3.5zM821 112h3.5v4h-3.5zM810.5 116h7v4h-7zM739.5 120h3.5v4h-3.5zM803 120h4v4h-4zM771.5 124h10.5v3.5h-10.5z"/>
<path fill="#f8e800" d="M874 65.5h3.5v4h-3.5zM867 73.5h3.5v3.5h-3.5zM863.5 77h3.5v4h-3.5zM860 93h3.5v3.5h-3.5zM853 96.5h7v4h-7zM722 100.5h3.5v4h-3.5zM708 104.5h3.5v4h-3.5zM725.5 104.5h3.5v4h-3.5zM849 104.5h4v4h-4zM679.5 108.5h3.5v3.5h-3.5zM690 108.5h3.5v3.5h-3.5zM700.5 108.5h11v3.5h-11zM729 108.5h3.5v3.5h-3.5zM828 108.5h3.5v3.5h-3.5zM835 108.5h7v3.5h-7zM679.5 112h7v4h-7zM697 112h7v4h-7zM824.5 112h14v4h-14zM690 116h14v4h-14zM817.5 116h10.5v4h-10.5zM679.5 120h14v4h-14zM736 120h3.5v4h-3.5zM810.5 120h3.5v4h-3.5zM679.5 124h10.5v3.5h-10.5zM743 124h3.5v3.5h-3.5zM785.5 124h10.5v3.5h-10.5zM799.5 124h7.5v3.5h-7.5zM697 127.5h7v4h-7zM842 159h3.5v3.5h-3.5zM679.5 174.5h3.5v3.5h-3.5zM679.5 178h3.5v4h-3.5z"/>
<path fill="#f8f000" d="M870.5 69.5h3.5v4h-3.5zM867 77h3.5v4h-3.5zM863.5 81h3.5v4h-3.5zM863.5 85h3.5v4h-3.5zM860 96.5h3.5v4h-3.5zM711.5 100.5h3.5v4h-3.5zM853 100.5h3.5v4h-3.5zM842 108.5h7v3.5h-7zM686.5 112h3.5v4h-3.5zM704 112h4v4h-4zM679.5 116h10.5v4h-10.5zM828 116h7v4h-7zM693.5 120h10.5v4h-10.5zM732.5 120h3.5v4h-3.5zM814 120h10.5v4h-10.5zM690 124h14v3.5h-14zM739.5 124h3.5v3.5h-3.5zM796 124h3.5v3.5h-3.5zM807 124h3.5v3.5h-3.5zM693.5 127.5h3.5v4h-3.5zM746.5 127.5h11v4h-11zM679.5 131.5h7v4h-7zM693.5 131.5h7v4h-7zM679.5 135.5h3.5v4h-3.5zM845.5 159h3.5v3.5h-3.5zM842 162.5h3.5v4h-3.5zM679.5 170.5h3.5v4h-3.5zM683 178h3.5v4h-3.5zM683 182h3.5v4h-3.5z"/>
<path fill="#f0f000" d="M874 69.5h3.5v4h-3.5zM867 81h3.5v4h-3.5zM863.5 89h3.5v4h-3.5zM715 100.5h7v4h-7zM856.5 100.5h3.5v4h-3.5zM722 104.5h3.5v4h-3.5zM853 104.5h3.5v4h-3.5zM711.5 108.5h3.5v3.5h-3.5zM708 112h3.5v4h-3.5zM838.5 112h3.5v4h-3.5zM704 116h4v4h-4zM835 116h3.5v4h-3.5zM824.5 120h3.5v4h-3.5zM835 120h3.5v4h-3.5zM736 124h3.5v3.5h-3.5zM679.5 127.5h14v4h-14zM704 127.5h4v4h-4zM743 127.5h3.5v4h-3.5zM757.5 127.5h17.5v4h-17.5zM686.5 131.5h7v4h-7zM700.5 131.5h7.5v4h-7.5zM711.5 135.5h7v4h-7zM679.5 139.5h3.5v3.5h-3.5zM842 155h7v4h-7zM679.5 159h7v3.5h-7zM679.5 162.5h7v4h-7zM845.5 162.5h3.5v4h-3.5zM679.5 166.5h7v4h-7zM683 174.5h3.5v3.5h-3.5zM679.5 182h3.5v4h-3.5zM686.5 182h3.5v4h-3.5zM679.5 190h3.5v3.5h-3.5zM679.5 193.5h3.5v4h-3.5z"/>
<path fill="#ffc800" d="M860 73.5h3.5v3.5h-3.5zM679.5 77h3.5v4h-3.5zM686.5 77h3.5v4h-3.5zM856.5 77h3.5v4h-3.5zM853 85h3.5v4h-3.5zM690 89h3.5v4h-3.5zM700.5 89h11v4h-11zM718.5 89h3.5v4h-3.5zM853 89h3.5v4h-3.5zM693.5 93h3.5v3.5h-3.5zM700.5 93h3.5v3.5h-3.5zM693.5 96.5h3.5v4h-3.5zM700.5 96.5h3.5v4h-3.5zM722 96.5h3.5v4h-3.5zM697 100.5h7v4h-7zM725.5 100.5h3.5v4h-3.5zM807 100.5h10.5v4h-10.5zM831.5 100.5h3.5v4h-3.5zM842 100.5h3.5v4h-3.5zM807 104.5h17.5v4h-17.5zM732.5 108.5h3.5v3.5h-3.5zM807 108.5h7v3.5h-7zM736 112h3.5v4h-3.5zM803 112h4v4h-4zM789 116h7v4h-7zM799.5 116h3.5v4h-3.5zM746.5 120h3.5v4h-3.5zM771.5 120h7v4h-7z"/>
<path fill="#e0f800" d="M870.5 73.5h3.5v3.5h-3.5zM870.5 81h3.5v4h-3.5zM867 89h3.5v4h-3.5zM863.5 93h3.5v3.5h-3.5zM849 108.5h4v3.5h-4zM711.5 112h3.5v4h-3.5zM842 112h3.5v4h-3.5zM708 120h3.5v4h-3.5zM831.5 120h3.5v4h-3.5zM838.5 120h3.5v4h-3.5zM708 124h3.5v3.5h-3.5zM732.5 124h3.5v3.5h-3.5zM824.5 124h3.5v3.5h-3.5zM831.5 124h7v3.5h-7zM778.5 127.5h3.5v4h-3.5zM785.5 127.5h10.5v4h-10.5zM711.5 131.5h3.5v4h-3.5zM746.5 131.5h3.5v4h-3.5zM693.5 135.5h3.5v4h-3.5zM700.5 135.5h3.5v4h-3.5zM718.5 135.5h3.5v4h-3.5zM683 139.5h17.5v3.5h-17.5zM704 139.5h4v3.5h-4zM711.5 139.5h3.5v3.5h-3.5zM718.5 139.5h3.5v3.5h-3.5zM690 143h3.5v4h-3.5zM704 143h7.5v4h-7.5zM686.5 147h7v4h-7zM697 147h3.5v4h-3.5zM704 147h4v4h-4zM845.5 147h3.5v4h-3.5zM690 151h3.5v4h-3.5zM838.5 151h7v4h-7zM679.5 155h10.5v4h-10.5zM693.5 155h3.5v4h-3.5zM686.5 159h7v3.5h-7zM697 159h3.5v3.5h-3.5zM838.5 166.5h3.5v4h-3.5zM686.5 174.5h3.5v3.5h-3.5zM686.5 186h3.5v4h-3.5zM679.5 201.5h3.5v4h-3.5zM679.5 213h3.5v4h-3.5z"/>
<path fill="#d8f800" d="M874 73.5h3.5v3.5h-3.5zM870.5 77h7v4h-7zM870.5 85h3.5v4h-3.5zM863.5 96.5h3.5v4h-3.5zM860 100.5h3.5v4h-3.5zM715 104.5h7v4h-7zM856.5 104.5h3.5v4h-3.5zM715 108.5h3.5v3.5h-3.5zM722 108.5h3.5v3.5h-3.5zM711.5 116h3.5v4h-3.5zM729 116h3.5v4h-3.5zM842 116h3.5v4h-3.5zM842 120h3.5v4h-3.5zM711.5 124h3.5v3.5h-3.5zM725.5 124h3.5v3.5h-3.5zM828 124h3.5v3.5h-3.5zM708 127.5h7v4h-7zM732.5 127.5h3.5v4h-3.5zM782 127.5h3.5v4h-3.5zM796 127.5h14.5v4h-14.5zM817.5 127.5h3.5v4h-3.5zM831.5 127.5h3.5v4h-3.5zM715 131.5h3.5v4h-3.5zM722 131.5h3.5v4h-3.5zM736 131.5h3.5v4h-3.5zM750 131.5h4v4h-4zM704 135.5h4v4h-4zM722 135.5h3.5v4h-3.5zM700.5 139.5h3.5v3.5h-3.5zM842 139.5h3.5v3.5h-3.5zM683 143h7v4h-7zM700.5 143h3.5v4h-3.5zM711.5 143h7v4h-7zM700.5 147h3.5v4h-3.5zM838.5 147h7v4h-7zM849 147h4v4h-4zM679.5 151h3.5v4h-3.5zM693.5 151h18v4h-18zM690 155h3.5v4h-3.5zM700.5 155h3.5v4h-3.5zM835 155h3.5v4h-3.5zM849 155h4v4h-4zM690 162.5h3.5v4h-3.5zM845.5 166.5h3.5v4h-3.5zM686.5 170.5h3.5v4h-3.5zM686.5 190h3.5v3.5h-3.5zM683 197.5h3.5v4h-3.5zM679.5 205.5h3.5v3.5h-3.5zM683 213h3.5v4h-3.5zM679.5 217h7v4h-7z"/>
<path fill="#d0f800" d="M874 81h3.5v4h-3.5zM874 85h3.5v4h-3.5zM870.5 89h3.5v4h-3.5zM867 93h3.5v3.5h-3.5zM845.5 112h3.5v4h-3.5zM711.5 120h3.5v4h-3.5zM729 120h3.5v4h-3.5zM722 124h3.5v3.5h-3.5zM729 124h3.5v3.5h-3.5zM838.5 124h3.5v3.5h-3.5zM725.5 127.5h3.5v4h-3.5zM821 127.5h3.5v4h-3.5zM828 127.5h3.5v4h-3.5zM718.5 131.5h3.5v4h-3.5zM754 131.5h3.5v4h-3.5zM722 139.5h3.5v3.5h-3.5zM845.5 139.5h3.5v3.5h-3.5zM718.5 143h3.5v4h-3.5zM842 143h7v4h-7zM715 147h3.5v4h-3.5zM835 147h3.5v4h-3.5zM711.5 151h3.5v4h-3.5zM700.5 159h3.5v3.5h-3.5zM835 159h3.5v3.5h-3.5zM849 159h4v3.5h-4zM693.5 162.5h3.5v4h-3.5zM690 166.5h3.5v4h-3.5zM690 178h3.5v4h-3.5zM835 178h3.5v4h-3.5zM686.5 193.5h3.5v4h-3.5zM683 201.5h3.5v4h-3.5zM683 205.5h3.5v3.5h-3.5zM679.5 209h7v4h-7z"/>
<path fill="#f8e000" d="M860 85h3.5v4h-3.5zM860 89h3.5v4h-3.5zM711.5 96.5h3.5v4h-3.5zM708 100.5h3.5v4h-3.5zM686.5 108.5h3.5v3.5h-3.5zM831.5 108.5h3.5v3.5h-3.5zM690 112h3.5v4h-3.5zM732.5 116h3.5v4h-3.5zM807 120h3.5v4h-3.5zM782 124h3.5v3.5h-3.5z"/>
<path fill="#e8f000" d="M867 85h3.5v4h-3.5zM711.5 104.5h3.5v4h-3.5zM725.5 108.5h3.5v3.5h-3.5zM729 112h3.5v4h-3.5zM708 116h3.5v4h-3.5zM838.5 116h3.5v4h-3.5zM704 120h4v4h-4zM828 120h3.5v4h-3.5zM704 124h4v3.5h-4zM810.5 124h14v3.5h-14zM736 127.5h7v4h-7zM775 127.5h3.5v4h-3.5zM708 131.5h3.5v4h-3.5zM739.5 131.5h7v4h-7zM683 135.5h10.5v4h-10.5zM697 135.5h3.5v4h-3.5zM708 135.5h3.5v4h-3.5zM708 139.5h3.5v3.5h-3.5zM715 139.5h3.5v3.5h-3.5zM679.5 143h3.5v4h-3.5zM693.5 143h7v4h-7zM679.5 147h7v4h-7zM693.5 147h3.5v4h-3.5zM708 147h7v4h-7zM683 151h7v4h-7zM845.5 151h7.5v4h-7.5zM697 155h3.5v4h-3.5zM838.5 155h3.5v4h-3.5zM693.5 159h3.5v3.5h-3.5zM838.5 159h3.5v3.5h-3.5zM686.5 162.5h3.5v4h-3.5zM838.5 162.5h3.5v4h-3.5zM686.5 166.5h3.5v4h-3.5zM842 166.5h3.5v4h-3.5zM683 170.5h3.5v4h-3.5zM686.5 178h3.5v4h-3.5zM679.5 186h7v4h-7zM683 190h3.5v3.5h-3.5zM683 193.5h3.5v4h-3.5zM679.5 197.5h3.5v4h-3.5z"/>
<path fill="#c8f800" d="M874 89h3.5v4h-3.5zM718.5 108.5h3.5v3.5h-3.5zM853 108.5h3.5v3.5h-3.5zM715 120h3.5v4h-3.5zM725.5 120h3.5v4h-3.5zM715 124h3.5v3.5h-3.5zM715 127.5h3.5v4h-3.5zM722 127.5h3.5v4h-3.5zM729 127.5h3.5v4h-3.5zM810.5 127.5h7v4h-7zM824.5 127.5h3.5v4h-3.5zM835 127.5h3.5v4h-3.5zM725.5 131.5h3.5v4h-3.5zM732.5 131.5h3.5v4h-3.5zM757.5 131.5h3.5v4h-3.5zM771.5 131.5h3.5v4h-3.5zM817.5 131.5h7v4h-7zM828 131.5h7v4h-7zM838.5 131.5h3.5v4h-3.5zM736 135.5h7v4h-7zM838.5 135.5h7v4h-7zM838.5 139.5h3.5v3.5h-3.5zM722 143h3.5v4h-3.5zM838.5 143h3.5v4h-3.5zM853 147h3.5v4h-3.5zM835 151h3.5v4h-3.5zM853 151h3.5v4h-3.5zM704 155h4v4h-4zM835 162.5h3.5v4h-3.5zM690 170.5h3.5v4h-3.5zM842 170.5h3.5v4h-3.5zM690 174.5h3.5v3.5h-3.5zM690 182h3.5v4h-3.5zM835 182h3.5v4h-3.5zM686.5 213h3.5v4h-3.5zM679.5 221h3.5v4h-3.5z"/>
<path fill="#b8f800" d="M870.5 93h3.5v3.5h-3.5zM718.5 112h3.5v4h-3.5zM718.5 120h3.5v4h-3.5zM718.5 124h3.5v3.5h-3.5zM729 131.5h3.5v4h-3.5zM768 131.5h3.5v4h-3.5zM775 131.5h3.5v4h-3.5zM792.5 131.5h3.5v4h-3.5zM725.5 135.5h3.5v4h-3.5zM831.5 135.5h3.5v4h-3.5zM725.5 139.5h7v3.5h-7zM835 139.5h3.5v3.5h-3.5zM831.5 143h7v4h-7zM853 143h3.5v4h-3.5zM718.5 147h7v4h-7zM708 155h3.5v4h-3.5zM831.5 155h3.5v4h-3.5zM853 155h3.5v4h-3.5zM838.5 174.5h3.5v3.5h-3.5zM831.5 178h3.5v4h-3.5zM838.5 178h3.5v4h-3.5zM690 186h3.5v4h-3.5zM686.5 197.5h3.5v4h-3.5zM686.5 201.5h3.5v4h-3.5zM686.5 205.5h3.5v3.5h-3.5zM686.5 217h3.5v4h-3.5z"/>
<path fill="#b0f800" d="M874 93h3.5v3.5h-3.5zM856.5 108.5h3.5v3.5h-3.5zM849 112h4v4h-4zM718.5 116h3.5v4h-3.5zM842 127.5h3.5v4h-3.5zM761 131.5h3.5v4h-3.5zM778.5 131.5h3.5v4h-3.5zM785.5 131.5h3.5v4h-3.5zM803 131.5h4v4h-4zM810.5 131.5h3.5v4h-3.5zM729 135.5h3.5v4h-3.5zM824.5 135.5h3.5v4h-3.5zM853 139.5h3.5v3.5h-3.5zM856.5 147h3.5v4h-3.5zM718.5 151h7v4h-7zM700.5 162.5h3.5v4h-3.5zM693.5 166.5h3.5v4h-3.5zM845.5 170.5h3.5v4h-3.5z"/>
<path fill="#c0f800" d="M867 96.5h3.5v4h-3.5zM863.5 100.5h3.5v4h-3.5zM860 104.5h3.5v4h-3.5zM715 112h3.5v4h-3.5zM722 112h7v4h-7zM715 116h3.5v4h-3.5zM845.5 116h3.5v4h-3.5zM722 120h3.5v4h-3.5zM845.5 120h3.5v4h-3.5zM842 124h3.5v3.5h-3.5zM718.5 127.5h3.5v4h-3.5zM838.5 127.5h3.5v4h-3.5zM789 131.5h3.5v4h-3.5zM814 131.5h3.5v4h-3.5zM824.5 131.5h3.5v4h-3.5zM835 131.5h3.5v4h-3.5zM842 131.5h3.5v4h-3.5zM732.5 135.5h3.5v4h-3.5zM743 135.5h3.5v4h-3.5zM828 135.5h3.5v4h-3.5zM835 135.5h3.5v4h-3.5zM845.5 135.5h3.5v4h-3.5zM732.5 139.5h3.5v3.5h-3.5zM849 139.5h4v3.5h-4zM849 143h4v4h-4zM831.5 147h3.5v4h-3.5zM715 151h3.5v4h-3.5zM704 159h4v3.5h-4zM697 162.5h3.5v4h-3.5zM849 162.5h4v4h-4zM835 166.5h3.5v4h-3.5zM838.5 170.5h3.5v4h-3.5zM831.5 182h3.5v4h-3.5zM686.5 209h3.5v4h-3.5zM683 221h3.5v4h-3.5z"/>
<path fill="#a8f000" d="M870.5 96.5h7v4h-7zM867 100.5h3.5v4h-3.5zM725.5 116h3.5v4h-3.5zM782 131.5h3.5v4h-3.5zM799.5 131.5h3.5v4h-3.5zM807 131.5h3.5v4h-3.5zM845.5 131.5h3.5v4h-3.5zM746.5 135.5h7.5v4h-7.5zM817.5 135.5h7v4h-7zM828 139.5h3.5v3.5h-3.5zM725.5 143h7v4h-7zM828 147h3.5v4h-3.5zM856.5 151h3.5v4h-3.5zM711.5 155h7v4h-7zM708 159h3.5v3.5h-3.5zM849 166.5h4v4h-4zM693.5 170.5h3.5v4h-3.5zM835 174.5h3.5v3.5h-3.5zM693.5 178h3.5v4h-3.5zM838.5 182h3.5v4h-3.5zM831.5 186h3.5v4h-3.5zM690 190h3.5v3.5h-3.5zM686.5 221h3.5v4h-3.5zM683 225h3.5v3.5h-3.5zM679.5 228.5h3.5v4h-3.5z"/>
<path fill="#98f000" d="M870.5 100.5h7v4h-7zM867 104.5h3.5v4h-3.5zM860 108.5h3.5v3.5h-3.5zM757.5 135.5h3.5v4h-3.5zM792.5 135.5h3.5v4h-3.5zM810.5 135.5h3.5v4h-3.5zM739.5 139.5h7v3.5h-7zM828 155h3.5v4h-3.5zM831.5 162.5h3.5v4h-3.5zM831.5 174.5h3.5v3.5h-3.5zM693.5 182h3.5v4h-3.5zM690 193.5h3.5v4h-3.5zM690 201.5h3.5v4h-3.5zM690 205.5h3.5v3.5h-3.5zM686.5 225h3.5v3.5h-3.5zM679.5 232.5h7v4h-7z"/>
<path fill="#a0f000" d="M863.5 104.5h3.5v4h-3.5zM853 112h3.5v4h-3.5zM849 116h4v4h-4zM845.5 127.5h3.5v4h-3.5zM754 135.5h3.5v4h-3.5zM789 135.5h3.5v4h-3.5zM803 135.5h4v4h-4zM814 135.5h3.5v4h-3.5zM849 135.5h4v4h-4zM736 139.5h3.5v3.5h-3.5zM824.5 139.5h3.5v3.5h-3.5zM828 143h3.5v4h-3.5zM856.5 143h3.5v4h-3.5zM725.5 147h3.5v4h-3.5zM828 151h3.5v4h-3.5zM718.5 155h7v4h-7zM711.5 159h3.5v3.5h-3.5zM853 159h3.5v3.5h-3.5zM704 162.5h7.5v4h-7.5zM697 166.5h7v4h-7zM835 170.5h3.5v4h-3.5zM693.5 174.5h3.5v3.5h-3.5zM842 174.5h3.5v3.5h-3.5zM835 186h3.5v4h-3.5zM828 190h7v3.5h-7zM828 193.5h3.5v4h-3.5zM690 197.5h3.5v4h-3.5zM690 209h3.5v4h-3.5zM690 213h3.5v4h-3.5zM683 228.5h3.5v4h-3.5z"/>
<path fill="#90f000" d="M870.5 104.5h7v4h-7zM874 108.5h3.5v3.5h-3.5zM849 120h4v4h-4zM771.5 135.5h3.5v4h-3.5zM785.5 135.5h3.5v4h-3.5zM807 135.5h3.5v4h-3.5zM853 135.5h3.5v4h-3.5zM821 139.5h3.5v3.5h-3.5zM736 143h3.5v4h-3.5zM814 143h7v4h-7zM824.5 143h3.5v4h-3.5zM729 147h3.5v4h-3.5zM725.5 151h3.5v4h-3.5zM824.5 151h3.5v4h-3.5zM821 155h7v4h-7zM856.5 155h3.5v4h-3.5zM828 159h3.5v3.5h-3.5zM831.5 166.5h3.5v4h-3.5zM697 170.5h3.5v4h-3.5zM831.5 193.5h3.5v4h-3.5zM690 217h3.5v4h-3.5z"/>
<path fill="#68e800" d="M863.5 108.5h3.5v3.5h-3.5zM870.5 112h3.5v4h-3.5zM874 116h3.5v4h-3.5zM874 124h3.5v3.5h-3.5zM849 127.5h4v4h-4zM746.5 139.5h3.5v3.5h-3.5zM799.5 139.5h3.5v3.5h-3.5zM796 143h3.5v4h-3.5zM860 143h3.5v4h-3.5zM810.5 147h3.5v4h-3.5zM863.5 147h3.5v4h-3.5zM729 151h3.5v4h-3.5zM814 155h3.5v4h-3.5zM860 155h3.5v4h-3.5zM722 159h3.5v3.5h-3.5zM821 159h3.5v3.5h-3.5zM828 166.5h3.5v4h-3.5zM824.5 197.5h3.5v4h-3.5zM693.5 213h3.5v4h-3.5z"/>
<path fill="#78f000" d="M867 108.5h7v3.5h-7zM849 124h4v3.5h-4zM849 131.5h4v4h-4zM764.5 135.5h3.5v4h-3.5zM782 135.5h3.5v4h-3.5zM807 139.5h3.5v3.5h-3.5zM814 139.5h3.5v3.5h-3.5zM743 143h3.5v4h-3.5zM810.5 143h3.5v4h-3.5zM736 147h3.5v4h-3.5zM725.5 155h3.5v4h-3.5zM817.5 155h3.5v4h-3.5zM824.5 159h3.5v3.5h-3.5zM856.5 159h3.5v3.5h-3.5zM828 162.5h3.5v4h-3.5zM704 166.5h4v4h-4zM700.5 170.5h3.5v4h-3.5zM697 174.5h3.5v3.5h-3.5zM828 182h3.5v4h-3.5zM693.5 186h3.5v4h-3.5zM835 190h3.5v3.5h-3.5z"/>
<path fill="#80f000" d="M856.5 112h3.5v4h-3.5zM761 135.5h3.5v4h-3.5zM768 135.5h3.5v4h-3.5zM778.5 135.5h3.5v4h-3.5zM799.5 135.5h3.5v4h-3.5zM803 139.5h4v3.5h-4zM856.5 139.5h3.5v3.5h-3.5zM739.5 143h3.5v4h-3.5zM732.5 147h3.5v4h-3.5zM715 159h3.5v3.5h-3.5zM831.5 170.5h3.5v4h-3.5zM845.5 174.5h3.5v3.5h-3.5zM831.5 197.5h3.5v4h-3.5zM690 221h3.5v4h-3.5z"/>
<path fill="#60e800" d="M860 112h3.5v4h-3.5zM867 112h3.5v4h-3.5zM870.5 116h3.5v4h-3.5zM771.5 139.5h10.5v3.5h-10.5zM796 139.5h3.5v3.5h-3.5zM785.5 143h10.5v4h-10.5zM799.5 143h3.5v4h-3.5zM810.5 151h3.5v4h-3.5zM810.5 155h3.5v4h-3.5zM863.5 155h3.5v4h-3.5zM718.5 159h3.5v3.5h-3.5zM817.5 159h3.5v3.5h-3.5zM856.5 162.5h3.5v4h-3.5zM708 166.5h3.5v4h-3.5zM828 174.5h3.5v3.5h-3.5zM842 182h3.5v4h-3.5zM693.5 205.5h3.5v3.5h-3.5zM693.5 217h3.5v4h-3.5zM683 240.5h3.5v3.5h-3.5zM679.5 244h3.5v4h-3.5z"/>
<path fill="#40e800" d="M863.5 112h3.5v4h-3.5zM853 120h3.5v4h-3.5zM863.5 139.5h3.5v3.5h-3.5zM874 139.5h3.5v3.5h-3.5zM782 143h3.5v4h-3.5zM746.5 147h3.5v4h-3.5zM782 147h3.5v4h-3.5zM782 151h7v4h-7zM867 151h3.5v4h-3.5zM732.5 155h3.5v4h-3.5zM732.5 159h3.5v3.5h-3.5zM867 159h10.5v3.5h-10.5zM722 162.5h3.5v4h-3.5zM814 162.5h3.5v4h-3.5zM860 162.5h3.5v4h-3.5zM821 166.5h7v4h-7zM700.5 174.5h3.5v3.5h-3.5zM828 201.5h3.5v4h-3.5zM697 205.5h3.5v3.5h-3.5zM693.5 225h3.5v3.5h-3.5zM690 232.5h3.5v4h-3.5zM686.5 244h3.5v4h-3.5z"/>
<path fill="#70f000" d="M874 112h3.5v4h-3.5zM853 116h3.5v4h-3.5zM796 135.5h3.5v4h-3.5zM785.5 139.5h10.5v3.5h-10.5zM810.5 139.5h3.5v3.5h-3.5zM739.5 147h3.5v4h-3.5zM814 151h7v4h-7zM863.5 151h3.5v4h-3.5zM853 166.5h3.5v4h-3.5zM697 178h3.5v4h-3.5zM828 178h3.5v4h-3.5zM842 178h3.5v4h-3.5zM838.5 186h3.5v4h-3.5zM824.5 190h3.5v3.5h-3.5zM693.5 201.5h3.5v4h-3.5zM693.5 209h3.5v4h-3.5zM690 225h3.5v3.5h-3.5zM686.5 232.5h3.5v4h-3.5zM679.5 236.5h7v4h-7zM679.5 240.5h3.5v3.5h-3.5z"/>
<path fill="#b0f000" d="M722 116h3.5v4h-3.5zM845.5 124h3.5v3.5h-3.5zM764.5 131.5h3.5v4h-3.5zM796 131.5h3.5v4h-3.5zM831.5 139.5h3.5v3.5h-3.5zM732.5 143h3.5v4h-3.5zM831.5 151h3.5v4h-3.5zM831.5 159h3.5v3.5h-3.5zM679.5 225h3.5v3.5h-3.5z"/>
<path fill="#30e008" d="M856.5 116h3.5v4h-3.5zM870.5 124h3.5v3.5h-3.5zM746.5 151h3.5v4h-3.5zM754 151h7v4h-7zM792.5 151h3.5v4h-3.5zM754 155h3.5v4h-3.5zM768 155h3.5v4h-3.5zM775 155h3.5v4h-3.5zM736 159h3.5v3.5h-3.5zM807 159h3.5v3.5h-3.5zM821 170.5h3.5v4h-3.5zM704 174.5h4v3.5h-4zM845.5 182h3.5v4h-3.5zM831.5 201.5h3.5v4h-3.5zM690 236.5h3.5v4h-3.5zM690 240.5h3.5v3.5h-3.5z"/>
<path fill="#08e010" d="M860 116h3.5v4h-3.5zM856.5 127.5h3.5v4h-3.5zM867 127.5h3.5v4h-3.5zM792.5 155h3.5v4h-3.5zM739.5 159h3.5v3.5h-3.5zM750 159h4v3.5h-4zM757.5 159h3.5v3.5h-3.5zM778.5 159h3.5v3.5h-3.5zM785.5 159h7v3.5h-7zM799.5 162.5h7.5v4h-7.5zM729 166.5h3.5v4h-3.5zM814 166.5h3.5v4h-3.5zM870.5 166.5h3.5v4h-3.5zM708 174.5h3.5v3.5h-3.5zM860 174.5h3.5v3.5h-3.5zM874 178h3.5v4h-3.5zM704 182h4v4h-4zM874 182h3.5v4h-3.5zM856.5 186h7v4h-7zM874 186h3.5v4h-3.5zM697 193.5h3.5v4h-3.5zM679.5 256h3.5v3.5h-3.5z"/>
<path fill="#10e010" d="M863.5 116h3.5v4h-3.5zM867 120h3.5v4h-3.5zM775 147h3.5v4h-3.5zM778.5 151h3.5v4h-3.5zM796 155h3.5v4h-3.5zM743 159h7v3.5h-7zM754 159h3.5v3.5h-3.5zM764.5 159h3.5v3.5h-3.5zM782 159h3.5v3.5h-3.5zM725.5 166.5h3.5v4h-3.5zM807 166.5h3.5v4h-3.5zM874 166.5h3.5v4h-3.5zM870.5 170.5h7v4h-7zM863.5 174.5h7v3.5h-7zM821 201.5h3.5v4h-3.5zM693.5 240.5h3.5v3.5h-3.5zM690 256h3.5v3.5h-3.5zM690 263.5h3.5v4h-3.5z"/>
<path fill="#50e800" d="M867 116h3.5v4h-3.5zM874 120h3.5v4h-3.5zM856.5 135.5h3.5v4h-3.5zM874 135.5h3.5v4h-3.5zM750 139.5h7.5v3.5h-7.5zM764.5 139.5h3.5v3.5h-3.5zM782 139.5h3.5v3.5h-3.5zM743 147h3.5v4h-3.5zM750 147h4v4h-4zM785.5 147h3.5v4h-3.5zM796 147h3.5v4h-3.5zM803 147h4v4h-4zM874 147h3.5v4h-3.5zM874 151h3.5v4h-3.5zM867 155h3.5v4h-3.5zM863.5 159h3.5v3.5h-3.5zM821 162.5h3.5v4h-3.5zM704 170.5h4v4h-4zM828 170.5h3.5v4h-3.5zM697 209h3.5v4h-3.5zM697 217h3.5v4h-3.5zM686.5 240.5h3.5v3.5h-3.5zM683 248h3.5v4h-3.5z"/>
<path fill="#00d818" d="M856.5 120h3.5v4h-3.5zM867 124h3.5v3.5h-3.5zM743 162.5h3.5v4h-3.5zM750 162.5h21.5v4h-21.5zM775 162.5h7v4h-7zM785.5 162.5h3.5v4h-3.5zM792.5 162.5h7v4h-7zM732.5 166.5h3.5v4h-3.5zM743 166.5h3.5v4h-3.5zM754 166.5h3.5v4h-3.5zM729 170.5h3.5v4h-3.5zM754 170.5h7v4h-7zM814 170.5h3.5v4h-3.5zM711.5 178h3.5v4h-3.5zM817.5 178h3.5v4h-3.5zM860 178h14v4h-14zM821 182h3.5v4h-3.5zM853 182h7v4h-7zM863.5 182h3.5v4h-3.5zM849 186h4v4h-4zM863.5 186h3.5v4h-3.5zM700.5 190h3.5v3.5h-3.5zM817.5 190h3.5v3.5h-3.5zM842 190h3.5v3.5h-3.5zM874 190h3.5v3.5h-3.5zM838.5 193.5h3.5v4h-3.5zM700.5 197.5h3.5v4h-3.5zM874 197.5h3.5v4h-3.5zM704 201.5h4v4h-4zM817.5 201.5h3.5v4h-3.5zM835 201.5h3.5v4h-3.5zM831.5 205.5h3.5v3.5h-3.5zM708 213h3.5v4h-3.5zM704 217h7.5v4h-7.5zM704 221h4v4h-4zM704 225h4v3.5h-4zM697 232.5h3.5v4h-3.5zM697 236.5h3.5v4h-3.5zM697 240.5h3.5v3.5h-3.5zM693.5 244h7v4h-7zM683 259.5h7v4h-7zM693.5 259.5h3.5v4h-3.5zM683 263.5h3.5v4h-3.5zM697 263.5h3.5v4h-3.5z"/>
<path fill="#00c840" d="M860 120h3.5v4h-3.5zM860 124h3.5v3.5h-3.5zM768 170.5h3.5v4h-3.5zM778.5 170.5h7v4h-7zM739.5 174.5h3.5v3.5h-3.5zM750 174.5h4v3.5h-4zM761 174.5h3.5v3.5h-3.5zM785.5 174.5h3.5v3.5h-3.5zM796 174.5h3.5v3.5h-3.5zM736 178h3.5v4h-3.5zM743 178h7v4h-7zM789 178h3.5v4h-3.5zM796 178h11v4h-11zM732.5 182h3.5v4h-3.5zM743 182h3.5v4h-3.5zM807 182h3.5v4h-3.5zM718.5 186h3.5v4h-3.5zM718.5 193.5h3.5v4h-3.5zM729 193.5h3.5v4h-3.5zM729 197.5h3.5v4h-3.5zM807 197.5h7v4h-7zM722 201.5h3.5v4h-3.5zM849 201.5h4v4h-4zM849 205.5h4v3.5h-4zM856.5 205.5h3.5v3.5h-3.5zM853 209h7v4h-7zM870.5 209h7v4h-7zM867 213h3.5v4h-3.5zM874 213h3.5v4h-3.5zM817.5 217h3.5v4h-3.5zM849 217h4v4h-4zM842 221h3.5v4h-3.5zM821 225h3.5v3.5h-3.5zM831.5 225h3.5v3.5h-3.5zM718.5 228.5h3.5v4h-3.5zM845.5 228.5h3.5v4h-3.5zM828 232.5h3.5v4h-3.5zM708 236.5h10.5v4h-10.5zM828 236.5h3.5v4h-3.5zM828 244h3.5v4h-3.5zM711.5 248h7v4h-7zM708 256h3.5v3.5h-3.5zM704 263.5h4v4h-4z"/>
<path fill="#00c830" d="M863.5 120h3.5v4h-3.5zM736 170.5h3.5v4h-3.5zM718.5 174.5h3.5v3.5h-3.5zM743 174.5h3.5v3.5h-3.5zM754 174.5h7v3.5h-7zM807 174.5h3.5v3.5h-3.5zM810.5 182h3.5v4h-3.5zM715 186h3.5v4h-3.5zM810.5 186h3.5v4h-3.5zM863.5 190h7v3.5h-7zM704 193.5h11v4h-11zM810.5 193.5h3.5v4h-3.5zM845.5 193.5h3.5v4h-3.5zM708 197.5h7v4h-7zM845.5 197.5h3.5v4h-3.5zM863.5 197.5h7v4h-7zM814 201.5h3.5v4h-3.5zM842 201.5h7v4h-7zM867 205.5h3.5v3.5h-3.5zM874 205.5h3.5v3.5h-3.5zM817.5 209h3.5v4h-3.5zM842 209h7v4h-7zM863.5 209h7v4h-7zM718.5 213h3.5v4h-3.5zM814 213h3.5v4h-3.5zM821 213h3.5v4h-3.5zM831.5 213h3.5v4h-3.5zM838.5 213h7v4h-7zM863.5 213h3.5v4h-3.5zM824.5 217h3.5v4h-3.5zM715 221h3.5v4h-3.5zM821 221h3.5v4h-3.5zM845.5 221h3.5v4h-3.5zM828 225h3.5v3.5h-3.5zM704 232.5h4v4h-4zM704 240.5h4v3.5h-4zM711.5 240.5h3.5v3.5h-3.5zM704 248h7.5v4h-7.5zM708 252h3.5v4h-3.5z"/>
<path fill="#38e800" d="M870.5 120h3.5v4h-3.5zM768 143h3.5v4h-3.5zM754 147h3.5v4h-3.5zM867 147h3.5v4h-3.5zM743 151h3.5v4h-3.5zM803 151h4v4h-4zM870.5 151h3.5v4h-3.5zM739.5 155h3.5v4h-3.5zM729 159h3.5v3.5h-3.5zM856.5 166.5h3.5v4h-3.5zM824.5 170.5h3.5v4h-3.5zM824.5 186h3.5v4h-3.5zM835 193.5h3.5v4h-3.5zM821 197.5h3.5v4h-3.5zM697 201.5h3.5v4h-3.5zM697 221h3.5v4h-3.5zM686.5 248h3.5v4h-3.5z"/>
<path fill="#28e008" d="M853 124h3.5v3.5h-3.5zM853 127.5h3.5v4h-3.5zM764.5 143h3.5v4h-3.5zM778.5 143h3.5v4h-3.5zM867 143h3.5v4h-3.5zM768 147h3.5v4h-3.5zM870.5 147h3.5v4h-3.5zM750 151h4v4h-4zM761 151h10.5v4h-10.5zM764.5 155h3.5v4h-3.5zM782 155h3.5v4h-3.5zM771.5 159h7v3.5h-7zM729 162.5h3.5v4h-3.5zM810.5 162.5h3.5v4h-3.5zM708 170.5h3.5v4h-3.5zM856.5 170.5h3.5v4h-3.5zM824.5 178h3.5v4h-3.5zM849 178h4v4h-4zM842 186h3.5v4h-3.5zM821 190h3.5v3.5h-3.5zM824.5 201.5h3.5v4h-3.5zM700.5 209h3.5v4h-3.5zM693.5 228.5h3.5v4h-3.5zM686.5 252h7v4h-7z"/>
<path fill="#00d820" d="M856.5 124h3.5v3.5h-3.5zM739.5 162.5h3.5v4h-3.5zM739.5 166.5h3.5v4h-3.5zM746.5 166.5h7.5v4h-7.5zM761 166.5h3.5v4h-3.5zM771.5 166.5h3.5v4h-3.5zM799.5 166.5h3.5v4h-3.5zM718.5 170.5h3.5v4h-3.5zM725.5 170.5h3.5v4h-3.5zM732.5 170.5h3.5v4h-3.5zM807 170.5h3.5v4h-3.5zM715 174.5h3.5v3.5h-3.5zM856.5 178h3.5v4h-3.5zM711.5 182h3.5v4h-3.5zM870.5 182h3.5v4h-3.5zM704 186h7.5v4h-7.5zM853 186h3.5v4h-3.5zM870.5 186h3.5v4h-3.5zM845.5 190h3.5v3.5h-3.5zM814 193.5h3.5v4h-3.5zM874 193.5h3.5v4h-3.5zM708 221h3.5v4h-3.5zM700.5 228.5h3.5v4h-3.5zM697 256h3.5v3.5h-3.5zM679.5 259.5h3.5v4h-3.5zM679.5 263.5h3.5v4h-3.5z"/>
<path fill="#00c838" d="M863.5 124h3.5v3.5h-3.5zM739.5 170.5h3.5v4h-3.5zM764.5 170.5h3.5v4h-3.5zM771.5 170.5h7v4h-7zM785.5 170.5h3.5v4h-3.5zM792.5 170.5h7v4h-7zM722 174.5h7v3.5h-7zM736 174.5h3.5v3.5h-3.5zM746.5 174.5h3.5v3.5h-3.5zM789 174.5h3.5v3.5h-3.5zM799.5 174.5h7.5v3.5h-7.5zM810.5 174.5h3.5v3.5h-3.5zM718.5 178h3.5v4h-3.5zM729 178h7v4h-7zM807 178h7v4h-7zM718.5 182h3.5v4h-3.5zM718.5 190h10.5v3.5h-10.5zM807 190h7v3.5h-7zM715 193.5h3.5v4h-3.5zM722 193.5h7v4h-7zM807 193.5h3.5v4h-3.5zM849 193.5h4v4h-4zM863.5 193.5h7v4h-7zM715 197.5h14v4h-14zM849 197.5h4v4h-4zM863.5 201.5h7v4h-7zM814 205.5h3.5v3.5h-3.5zM842 205.5h7v3.5h-7zM860 205.5h7v3.5h-7zM870.5 205.5h3.5v3.5h-3.5zM711.5 209h10.5v4h-10.5zM814 209h3.5v4h-3.5zM849 209h4v4h-4zM860 209h3.5v4h-3.5zM817.5 213h3.5v4h-3.5zM824.5 213h7v4h-7zM845.5 213h18v4h-18zM718.5 217h3.5v4h-3.5zM814 217h3.5v4h-3.5zM828 217h7v4h-7zM842 217h7v4h-7zM831.5 221h3.5v4h-3.5zM849 221h4v4h-4zM711.5 225h7v3.5h-7zM845.5 225h3.5v3.5h-3.5zM711.5 228.5h7v4h-7zM824.5 228.5h7v4h-7zM708 232.5h10.5v4h-10.5zM824.5 232.5h3.5v4h-3.5zM704 236.5h4v4h-4zM824.5 236.5h3.5v4h-3.5zM824.5 240.5h7v3.5h-7zM711.5 244h3.5v4h-3.5zM711.5 252h3.5v4h-3.5z"/>
<path fill="#00d028" d="M860 127.5h3.5v4h-3.5zM764.5 166.5h7v4h-7zM778.5 166.5h10.5v4h-10.5zM792.5 166.5h7v4h-7zM743 170.5h11v4h-11zM761 170.5h3.5v4h-3.5zM814 174.5h3.5v3.5h-3.5zM814 178h3.5v4h-3.5zM715 182h3.5v4h-3.5zM814 186h3.5v4h-3.5zM704 190h11v3.5h-11zM849 190h7.5v3.5h-7.5zM842 193.5h3.5v4h-3.5zM856.5 193.5h3.5v4h-3.5zM870.5 193.5h3.5v4h-3.5zM814 197.5h3.5v4h-3.5zM838.5 197.5h3.5v4h-3.5zM860 197.5h3.5v4h-3.5zM708 201.5h14v4h-14zM838.5 201.5h3.5v4h-3.5zM874 201.5h3.5v4h-3.5zM708 205.5h7v3.5h-7zM838.5 205.5h3.5v3.5h-3.5zM821 209h3.5v4h-3.5zM831.5 209h7v4h-7zM711.5 221h3.5v4h-3.5zM708 225h3.5v3.5h-3.5zM704 228.5h4v4h-4zM700.5 232.5h3.5v4h-3.5zM700.5 244h3.5v4h-3.5zM708 244h3.5v4h-3.5zM697 248h7v4h-7zM700.5 252h3.5v4h-3.5zM704 256h4v3.5h-4zM700.5 263.5h3.5v4h-3.5z"/>
<path fill="#00d020" d="M863.5 127.5h3.5v4h-3.5zM736 166.5h3.5v4h-3.5zM775 166.5h3.5v4h-3.5zM789 166.5h3.5v4h-3.5zM722 170.5h3.5v4h-3.5zM803 170.5h4v4h-4zM810.5 170.5h3.5v4h-3.5zM715 178h3.5v4h-3.5zM814 182h7v4h-7zM867 182h3.5v4h-3.5zM711.5 186h3.5v4h-3.5zM817.5 186h3.5v4h-3.5zM867 186h3.5v4h-3.5zM856.5 190h7v3.5h-7zM870.5 190h3.5v3.5h-3.5zM700.5 193.5h3.5v4h-3.5zM856.5 197.5h3.5v4h-3.5zM870.5 197.5h3.5v4h-3.5zM715 205.5h3.5v3.5h-3.5zM821 205.5h3.5v3.5h-3.5zM835 205.5h3.5v3.5h-3.5zM708 209h3.5v4h-3.5zM824.5 209h3.5v4h-3.5zM711.5 217h3.5v4h-3.5zM693.5 248h3.5v4h-3.5zM697 252h3.5v4h-3.5zM700.5 256h3.5v3.5h-3.5zM697 259.5h7v4h-7z"/>
<path fill="#30e808" d="M870.5 127.5h3.5v4h-3.5zM856.5 131.5h3.5v4h-3.5zM867 135.5h7v4h-7zM867 139.5h3.5v3.5h-3.5zM874 143h3.5v4h-3.5zM761 147h3.5v4h-3.5zM771.5 155h3.5v4h-3.5zM803 155h4v4h-4zM725.5 162.5h3.5v4h-3.5zM863.5 162.5h3.5v4h-3.5zM817.5 166.5h3.5v4h-3.5zM824.5 174.5h3.5v3.5h-3.5zM700.5 178h3.5v4h-3.5zM700.5 205.5h3.5v3.5h-3.5zM679.5 248h3.5v4h-3.5zM683 252h3.5v4h-3.5z"/>
<path fill="#58e800" d="M874 127.5h3.5v4h-3.5zM853 131.5h3.5v4h-3.5zM874 131.5h3.5v4h-3.5zM757.5 139.5h7v3.5h-7zM768 139.5h3.5v3.5h-3.5zM746.5 143h7.5v4h-7.5zM803 143h7.5v4h-7.5zM789 147h3.5v4h-3.5zM799.5 147h3.5v4h-3.5zM732.5 151h10.5v4h-10.5zM725.5 159h3.5v3.5h-3.5zM814 159h3.5v3.5h-3.5zM860 159h3.5v3.5h-3.5zM715 162.5h3.5v4h-3.5zM824.5 162.5h3.5v4h-3.5zM697 182h3.5v4h-3.5zM693.5 190h3.5v3.5h-3.5zM693.5 197.5h3.5v4h-3.5zM697 213h3.5v4h-3.5zM693.5 221h3.5v4h-3.5zM690 228.5h3.5v4h-3.5zM683 244h3.5v4h-3.5z"/>
<path fill="#00d810" d="M860 131.5h3.5v4h-3.5zM761 159h3.5v3.5h-3.5zM792.5 159h7v3.5h-7zM746.5 162.5h3.5v4h-3.5zM771.5 162.5h3.5v4h-3.5zM782 162.5h3.5v4h-3.5zM789 162.5h3.5v4h-3.5zM757.5 166.5h3.5v4h-3.5zM803 166.5h4v4h-4zM810.5 166.5h3.5v4h-3.5zM715 170.5h3.5v4h-3.5zM817.5 174.5h3.5v3.5h-3.5zM708 178h3.5v4h-3.5zM853 178h3.5v4h-3.5zM708 182h3.5v4h-3.5zM860 182h3.5v4h-3.5zM824.5 205.5h3.5v3.5h-3.5zM704 213h4v4h-4zM693.5 252h3.5v4h-3.5zM693.5 256h3.5v3.5h-3.5zM693.5 263.5h3.5v4h-3.5z"/>
<path fill="#00e010" d="M863.5 131.5h3.5v4h-3.5zM736 162.5h3.5v4h-3.5zM867 166.5h3.5v4h-3.5zM711.5 174.5h3.5v3.5h-3.5zM856.5 174.5h3.5v3.5h-3.5zM821 178h3.5v4h-3.5zM700.5 186h3.5v4h-3.5zM821 186h3.5v4h-3.5zM845.5 186h3.5v4h-3.5zM704 205.5h4v3.5h-4zM828 205.5h3.5v3.5h-3.5zM704 209h4v4h-4zM697 228.5h3.5v4h-3.5zM690 259.5h3.5v4h-3.5zM686.5 263.5h3.5v4h-3.5z"/>
<path fill="#18e008" d="M867 131.5h3.5v4h-3.5zM860 135.5h3.5v4h-3.5zM870.5 143h3.5v4h-3.5zM778.5 147h3.5v4h-3.5zM746.5 155h7.5v4h-7.5zM778.5 155h3.5v4h-3.5zM785.5 155h7v4h-7zM870.5 162.5h3.5v4h-3.5zM718.5 166.5h7v4h-7zM711.5 170.5h3.5v4h-3.5zM853 174.5h3.5v3.5h-3.5zM870.5 174.5h3.5v3.5h-3.5zM697 190h3.5v3.5h-3.5zM817.5 197.5h3.5v4h-3.5zM700.5 201.5h3.5v4h-3.5zM700.5 221h3.5v4h-3.5zM700.5 225h3.5v3.5h-3.5zM693.5 232.5h3.5v4h-3.5zM693.5 236.5h3.5v4h-3.5z"/>
<path fill="#38e808" d="M870.5 131.5h3.5v4h-3.5zM757.5 143h7v4h-7zM757.5 147h3.5v4h-3.5zM771.5 151h3.5v4h-3.5zM799.5 151h3.5v4h-3.5zM697 186h3.5v4h-3.5zM838.5 190h3.5v3.5h-3.5z"/>
<path fill="#88f000" d="M775 135.5h3.5v4h-3.5zM817.5 139.5h3.5v3.5h-3.5zM821 143h3.5v4h-3.5zM814 147h14v4h-14zM860 147h3.5v4h-3.5zM821 151h3.5v4h-3.5zM860 151h3.5v4h-3.5zM711.5 162.5h3.5v4h-3.5zM853 162.5h3.5v4h-3.5zM849 170.5h4v4h-4zM828 186h3.5v4h-3.5zM824.5 193.5h3.5v4h-3.5zM828 197.5h3.5v4h-3.5zM686.5 228.5h3.5v4h-3.5z"/>
<path fill="#20e008" d="M863.5 135.5h3.5v4h-3.5zM870.5 139.5h3.5v3.5h-3.5zM771.5 143h7v4h-7zM764.5 147h3.5v4h-3.5zM771.5 147h3.5v4h-3.5zM775 151h3.5v4h-3.5zM796 151h3.5v4h-3.5zM743 155h3.5v4h-3.5zM757.5 155h3.5v4h-3.5zM799.5 155h3.5v4h-3.5zM768 159h3.5v3.5h-3.5zM803 159h4v3.5h-4zM732.5 162.5h3.5v4h-3.5zM874 162.5h3.5v4h-3.5zM715 166.5h3.5v4h-3.5zM860 166.5h7v4h-7zM817.5 170.5h3.5v4h-3.5zM860 170.5h7v4h-7zM821 174.5h3.5v3.5h-3.5zM704 178h4v4h-4zM700.5 182h3.5v4h-3.5zM824.5 182h3.5v4h-3.5zM817.5 193.5h3.5v4h-3.5zM835 197.5h3.5v4h-3.5zM700.5 213h3.5v4h-3.5zM700.5 217h3.5v4h-3.5zM697 225h3.5v3.5h-3.5zM690 244h3.5v4h-3.5zM690 248h3.5v4h-3.5zM679.5 252h3.5v4h-3.5z"/>
<path fill="#48e800" d="M860 139.5h3.5v3.5h-3.5zM754 143h3.5v4h-3.5zM863.5 143h3.5v4h-3.5zM792.5 147h3.5v4h-3.5zM807 147h3.5v4h-3.5zM789 151h3.5v4h-3.5zM807 151h3.5v4h-3.5zM729 155h3.5v4h-3.5zM736 155h3.5v4h-3.5zM807 155h3.5v4h-3.5zM870.5 155h7v4h-7zM810.5 159h3.5v3.5h-3.5zM718.5 162.5h3.5v4h-3.5zM817.5 162.5h3.5v4h-3.5zM711.5 166.5h3.5v4h-3.5zM853 170.5h3.5v4h-3.5zM849 174.5h4v3.5h-4zM845.5 178h3.5v4h-3.5zM693.5 193.5h3.5v4h-3.5zM821 193.5h3.5v4h-3.5zM686.5 236.5h3.5v4h-3.5z"/>
<path fill="#10e008" d="M761 155h3.5v4h-3.5zM799.5 159h3.5v3.5h-3.5zM807 162.5h3.5v4h-3.5zM867 162.5h3.5v4h-3.5zM867 170.5h3.5v4h-3.5zM874 174.5h3.5v3.5h-3.5zM849 182h4v4h-4zM697 197.5h3.5v4h-3.5zM683 256h7v3.5h-7z"/>
<path fill="#00d030" d="M789 170.5h3.5v4h-3.5zM799.5 170.5h3.5v4h-3.5zM729 174.5h7v3.5h-7zM715 190h3.5v3.5h-3.5zM814 190h3.5v3.5h-3.5zM853 193.5h3.5v4h-3.5zM860 193.5h3.5v4h-3.5zM704 197.5h4v4h-4zM842 197.5h3.5v4h-3.5zM853 197.5h3.5v4h-3.5zM856.5 201.5h7v4h-7zM870.5 201.5h3.5v4h-3.5zM718.5 205.5h3.5v3.5h-3.5zM817.5 205.5h3.5v3.5h-3.5zM828 209h3.5v4h-3.5zM838.5 209h3.5v4h-3.5zM711.5 213h7v4h-7zM835 213h3.5v4h-3.5zM715 217h3.5v4h-3.5zM821 217h3.5v4h-3.5zM824.5 221h7v4h-7zM824.5 225h3.5v3.5h-3.5zM708 228.5h3.5v4h-3.5zM700.5 236.5h3.5v4h-3.5zM700.5 240.5h3.5v3.5h-3.5zM708 240.5h3.5v3.5h-3.5zM704 244h4v4h-4zM704 252h4v4h-4zM704 259.5h4v4h-4z"/>
<path fill="#00c048" d="M764.5 174.5h3.5v3.5h-3.5zM771.5 174.5h7v3.5h-7zM782 174.5h3.5v3.5h-3.5zM792.5 174.5h3.5v3.5h-3.5zM725.5 178h3.5v4h-3.5zM739.5 178h3.5v4h-3.5zM750 178h7.5v4h-7.5zM768 178h7v4h-7zM785.5 178h3.5v4h-3.5zM792.5 178h3.5v4h-3.5zM722 182h3.5v4h-3.5zM736 182h7v4h-7zM750 182h4v4h-4zM792.5 182h3.5v4h-3.5zM725.5 186h17.5v4h-17.5zM792.5 186h18v4h-18zM729 190h7v3.5h-7zM743 190h3.5v3.5h-3.5zM803 190h4v3.5h-4zM732.5 197.5h7v4h-7zM803 197.5h4v4h-4zM729 201.5h7v4h-7zM725.5 205.5h3.5v3.5h-3.5zM807 205.5h3.5v3.5h-3.5zM853 205.5h3.5v3.5h-3.5zM722 209h7v4h-7zM810.5 209h3.5v4h-3.5zM722 213h7v4h-7zM870.5 213h3.5v4h-3.5zM725.5 217h3.5v4h-3.5zM810.5 217h3.5v4h-3.5zM853 217h7v4h-7zM814 221h3.5v4h-3.5zM835 221h7v4h-7zM856.5 221h7v4h-7zM817.5 225h3.5v3.5h-3.5zM838.5 225h3.5v3.5h-3.5zM853 225h3.5v3.5h-3.5zM835 228.5h3.5v4h-3.5zM842 228.5h3.5v4h-3.5zM849 228.5h4v4h-4zM821 232.5h3.5v4h-3.5zM835 232.5h7v4h-7zM821 236.5h3.5v4h-3.5zM831.5 236.5h3.5v4h-3.5zM715 240.5h7v3.5h-7zM821 240.5h3.5v3.5h-3.5zM835 240.5h3.5v3.5h-3.5zM715 244h7v4h-7zM821 244h3.5v4h-3.5zM835 244h3.5v4h-3.5zM828 248h7v4h-7zM715 252h3.5v4h-3.5zM708 259.5h3.5v4h-3.5z"/>
<path fill="#00c040" d="M768 174.5h3.5v3.5h-3.5zM722 178h3.5v4h-3.5zM729 182h3.5v4h-3.5zM746.5 182h3.5v4h-3.5zM796 182h11v4h-11zM722 186h3.5v4h-3.5zM743 186h3.5v4h-3.5zM803 193.5h4v4h-4zM725.5 201.5h3.5v4h-3.5zM807 201.5h7v4h-7zM853 201.5h3.5v4h-3.5zM722 205.5h3.5v3.5h-3.5zM810.5 205.5h3.5v3.5h-3.5zM810.5 213h3.5v4h-3.5zM722 217h3.5v4h-3.5zM835 217h7v4h-7zM860 217h7v4h-7zM718.5 221h3.5v4h-3.5zM817.5 221h3.5v4h-3.5zM853 221h3.5v4h-3.5zM718.5 225h3.5v3.5h-3.5zM835 225h3.5v3.5h-3.5zM842 225h3.5v3.5h-3.5zM849 225h4v3.5h-4zM821 228.5h3.5v4h-3.5zM831.5 228.5h3.5v4h-3.5zM838.5 228.5h3.5v4h-3.5zM718.5 232.5h3.5v4h-3.5zM831.5 232.5h3.5v4h-3.5zM718.5 236.5h3.5v4h-3.5zM831.5 240.5h3.5v3.5h-3.5zM824.5 244h3.5v4h-3.5zM831.5 244h3.5v4h-3.5z"/>
<path fill="#00c050" d="M778.5 174.5h3.5v3.5h-3.5zM757.5 178h3.5v4h-3.5zM775 178h3.5v4h-3.5zM725.5 182h3.5v4h-3.5zM771.5 182h3.5v4h-3.5zM789 182h3.5v4h-3.5zM746.5 186h3.5v4h-3.5zM746.5 190h3.5v3.5h-3.5zM732.5 193.5h3.5v4h-3.5zM739.5 197.5h3.5v4h-3.5zM803 201.5h4v4h-4zM729 205.5h3.5v3.5h-3.5zM803 205.5h4v3.5h-4zM807 209h3.5v4h-3.5zM729 213h3.5v4h-3.5zM867 217h3.5v4h-3.5zM874 217h3.5v4h-3.5zM722 221h3.5v4h-3.5zM814 225h3.5v3.5h-3.5zM856.5 225h3.5v3.5h-3.5zM722 228.5h3.5v4h-3.5zM817.5 228.5h3.5v4h-3.5zM722 232.5h3.5v4h-3.5zM842 232.5h7v4h-7zM722 236.5h3.5v4h-3.5zM835 236.5h3.5v4h-3.5zM838.5 240.5h3.5v3.5h-3.5zM838.5 244h3.5v4h-3.5zM718.5 248h3.5v4h-3.5zM835 248h3.5v4h-3.5zM711.5 256h3.5v3.5h-3.5z"/>
<path fill="#00b850" d="M761 178h7v4h-7zM778.5 178h3.5v4h-3.5zM736 190h7v3.5h-7zM736 193.5h3.5v4h-3.5zM729 209h3.5v4h-3.5zM732.5 213h3.5v4h-3.5zM729 217h3.5v4h-3.5zM870.5 217h3.5v4h-3.5zM725.5 221h3.5v4h-3.5zM810.5 221h3.5v4h-3.5zM863.5 221h3.5v4h-3.5zM722 225h3.5v3.5h-3.5zM817.5 232.5h3.5v4h-3.5zM849 232.5h4v4h-4zM838.5 236.5h3.5v4h-3.5zM817.5 240.5h3.5v3.5h-3.5zM817.5 244h3.5v4h-3.5zM824.5 248h3.5v4h-3.5z"/>
<path fill="#00b858" d="M782 178h3.5v4h-3.5zM754 182h3.5v4h-3.5zM768 182h3.5v4h-3.5zM775 182h3.5v4h-3.5zM785.5 182h3.5v4h-3.5zM750 186h4v4h-4zM789 186h3.5v4h-3.5zM750 190h4v3.5h-4zM785.5 190h17.5v3.5h-17.5zM739.5 193.5h10.5v4h-10.5zM799.5 193.5h3.5v4h-3.5zM799.5 197.5h3.5v4h-3.5zM736 201.5h7v4h-7zM732.5 205.5h3.5v3.5h-3.5zM732.5 209h3.5v4h-3.5zM803 209h4v4h-4zM807 213h3.5v4h-3.5zM732.5 217h3.5v4h-3.5zM807 217h3.5v4h-3.5zM729 221h3.5v4h-3.5zM807 221h3.5v4h-3.5zM867 221h10.5v4h-10.5zM810.5 225h3.5v3.5h-3.5zM860 225h10.5v3.5h-10.5zM814 228.5h3.5v4h-3.5zM853 228.5h3.5v4h-3.5zM814 232.5h3.5v4h-3.5zM814 236.5h7v4h-7zM842 236.5h7v4h-7zM722 240.5h3.5v3.5h-3.5zM810.5 240.5h7v3.5h-7zM842 240.5h3.5v3.5h-3.5zM807 244h10.5v4h-10.5zM842 244h3.5v4h-3.5zM821 248h3.5v4h-3.5zM828 252h3.5v4h-3.5zM708 263.5h3.5v4h-3.5z"/>
<path fill="#00b860" d="M757.5 182h3.5v4h-3.5zM778.5 182h3.5v4h-3.5zM754 186h7v4h-7zM771.5 186h3.5v4h-3.5zM785.5 186h3.5v4h-3.5zM750 193.5h4v4h-4zM785.5 193.5h7v4h-7zM796 193.5h3.5v4h-3.5zM743 197.5h3.5v4h-3.5zM789 197.5h3.5v4h-3.5zM792.5 201.5h3.5v4h-3.5zM736 205.5h3.5v3.5h-3.5zM799.5 205.5h3.5v3.5h-3.5zM736 209h3.5v4h-3.5zM799.5 209h3.5v4h-3.5zM736 213h3.5v4h-3.5zM803 213h4v4h-4zM736 217h3.5v4h-3.5zM803 221h4v4h-4zM725.5 225h3.5v3.5h-3.5zM807 225h3.5v3.5h-3.5zM725.5 228.5h3.5v4h-3.5zM810.5 228.5h3.5v4h-3.5zM856.5 228.5h3.5v4h-3.5zM725.5 232.5h3.5v4h-3.5zM807 232.5h7v4h-7zM853 232.5h3.5v4h-3.5zM725.5 236.5h3.5v4h-3.5zM807 236.5h7v4h-7zM849 236.5h4v4h-4zM807 240.5h3.5v3.5h-3.5zM722 244h3.5v4h-3.5zM817.5 248h3.5v4h-3.5zM838.5 248h3.5v4h-3.5zM718.5 252h3.5v4h-3.5zM821 252h7v4h-7zM831.5 252h3.5v4h-3.5zM715 256h3.5v3.5h-3.5zM711.5 259.5h3.5v4h-3.5z"/>
<path fill="#00b868" d="M761 182h7v4h-7zM782 182h3.5v4h-3.5zM761 186h3.5v4h-3.5zM768 186h3.5v4h-3.5zM775 186h3.5v4h-3.5zM782 186h3.5v4h-3.5zM754 190h7v3.5h-7zM792.5 193.5h3.5v4h-3.5zM746.5 197.5h7.5v4h-7.5zM785.5 197.5h3.5v4h-3.5zM792.5 197.5h7v4h-7zM743 201.5h3.5v4h-3.5zM789 201.5h3.5v4h-3.5zM796 201.5h7v4h-7zM739.5 205.5h3.5v3.5h-3.5zM792.5 205.5h7v3.5h-7zM799.5 213h3.5v4h-3.5zM739.5 217h3.5v4h-3.5zM803 217h4v4h-4zM732.5 221h7v4h-7zM799.5 221h3.5v4h-3.5zM729 225h3.5v3.5h-3.5zM803 225h4v3.5h-4zM870.5 225h3.5v3.5h-3.5zM807 228.5h3.5v4h-3.5zM860 228.5h3.5v4h-3.5zM803 236.5h4v4h-4zM725.5 240.5h3.5v3.5h-3.5zM803 240.5h4v3.5h-4zM845.5 240.5h3.5v3.5h-3.5zM722 248h3.5v4h-3.5zM810.5 248h7v4h-7zM817.5 252h3.5v4h-3.5zM835 252h3.5v4h-3.5z"/>
<path fill="#00c070" d="M764.5 186h3.5v4h-3.5zM778.5 186h3.5v4h-3.5zM761 190h14v3.5h-14zM782 190h3.5v3.5h-3.5zM782 193.5h3.5v4h-3.5zM785.5 201.5h3.5v4h-3.5zM743 205.5h3.5v3.5h-3.5zM789 205.5h3.5v3.5h-3.5zM739.5 209h7v4h-7zM789 209h10.5v4h-10.5zM739.5 213h7v4h-7zM799.5 217h3.5v4h-3.5zM739.5 221h3.5v4h-3.5zM732.5 225h7v3.5h-7zM799.5 225h3.5v3.5h-3.5zM729 228.5h7v4h-7zM863.5 228.5h3.5v4h-3.5zM729 232.5h3.5v4h-3.5zM803 232.5h4v4h-4zM856.5 232.5h3.5v4h-3.5zM729 236.5h3.5v4h-3.5zM853 236.5h3.5v4h-3.5zM849 240.5h4v3.5h-4zM725.5 244h3.5v4h-3.5zM803 244h4v4h-4zM807 248h3.5v4h-3.5zM842 248h3.5v4h-3.5zM810.5 252h7v4h-7zM711.5 263.5h3.5v4h-3.5z"/>
<path fill="#00c080" d="M775 190h3.5v3.5h-3.5zM757.5 193.5h3.5v4h-3.5zM768 193.5h14v4h-14zM754 197.5h3.5v4h-3.5zM761 197.5h3.5v4h-3.5zM775 197.5h3.5v4h-3.5zM754 201.5h10.5v4h-10.5zM750 205.5h7.5v3.5h-7.5zM761 205.5h3.5v3.5h-3.5zM785.5 205.5h3.5v3.5h-3.5zM746.5 209h3.5v4h-3.5zM785.5 209h3.5v4h-3.5zM746.5 213h3.5v4h-3.5zM789 213h3.5v4h-3.5zM792.5 217h3.5v4h-3.5zM743 221h3.5v4h-3.5zM743 225h3.5v3.5h-3.5zM739.5 228.5h3.5v4h-3.5zM736 232.5h3.5v4h-3.5zM736 236.5h3.5v4h-3.5zM856.5 236.5h3.5v4h-3.5zM799.5 240.5h3.5v3.5h-3.5zM729 248h3.5v4h-3.5zM803 248h4v4h-4zM725.5 252h3.5v4h-3.5zM807 252h3.5v4h-3.5zM838.5 252h3.5v4h-3.5zM810.5 256h3.5v3.5h-3.5zM817.5 256h3.5v3.5h-3.5zM828 256h3.5v3.5h-3.5z"/>
<path fill="#00c088" d="M778.5 190h3.5v3.5h-3.5zM757.5 197.5h3.5v4h-3.5zM764.5 197.5h10.5v4h-10.5zM771.5 201.5h14v4h-14zM764.5 205.5h3.5v3.5h-3.5zM782 205.5h3.5v3.5h-3.5zM750 209h4v4h-4zM771.5 209h7v4h-7zM785.5 213h3.5v4h-3.5zM746.5 217h7.5v4h-7.5zM789 217h3.5v4h-3.5zM792.5 221h3.5v4h-3.5zM746.5 225h3.5v3.5h-3.5zM796 225h3.5v3.5h-3.5zM743 228.5h7v4h-7zM754 228.5h3.5v4h-3.5zM799.5 228.5h3.5v4h-3.5zM870.5 228.5h3.5v4h-3.5zM739.5 232.5h3.5v4h-3.5zM863.5 232.5h3.5v4h-3.5zM739.5 236.5h3.5v4h-3.5zM799.5 236.5h3.5v4h-3.5zM732.5 240.5h3.5v3.5h-3.5zM853 240.5h3.5v3.5h-3.5zM732.5 244h3.5v4h-3.5zM799.5 244h3.5v4h-3.5zM732.5 248h3.5v4h-3.5zM803 252h4v4h-4zM718.5 259.5h3.5v4h-3.5zM715 263.5h7v4h-7z"/>
<path fill="#00c078" d="M754 193.5h3.5v4h-3.5zM761 193.5h7v4h-7zM778.5 197.5h7v4h-7zM746.5 201.5h7.5v4h-7.5zM746.5 205.5h3.5v3.5h-3.5zM757.5 205.5h3.5v3.5h-3.5zM792.5 213h7v4h-7zM743 217h3.5v4h-3.5zM796 217h3.5v4h-3.5zM796 221h3.5v4h-3.5zM739.5 225h3.5v3.5h-3.5zM874 225h3.5v3.5h-3.5zM736 228.5h3.5v4h-3.5zM803 228.5h4v4h-4zM867 228.5h3.5v4h-3.5zM732.5 232.5h3.5v4h-3.5zM860 232.5h3.5v4h-3.5zM732.5 236.5h3.5v4h-3.5zM729 240.5h3.5v3.5h-3.5zM729 244h3.5v4h-3.5zM845.5 244h3.5v4h-3.5zM725.5 248h3.5v4h-3.5zM722 252h3.5v4h-3.5zM718.5 256h3.5v3.5h-3.5zM814 256h3.5v3.5h-3.5zM821 256h7v3.5h-7zM715 259.5h3.5v4h-3.5z"/>
<path fill="#00c090" d="M764.5 201.5h7v4h-7zM768 205.5h14v3.5h-14zM754 209h14v4h-14zM778.5 209h7v4h-7zM771.5 213h7v4h-7zM754 217h3.5v4h-3.5zM785.5 217h3.5v4h-3.5zM746.5 221h11v4h-11zM757.5 228.5h3.5v4h-3.5zM796 228.5h3.5v4h-3.5zM743 232.5h7v4h-7zM799.5 232.5h3.5v4h-3.5zM796 236.5h3.5v4h-3.5zM736 240.5h7v3.5h-7zM849 244h4v4h-4zM799.5 248h3.5v4h-3.5zM845.5 248h3.5v4h-3.5zM729 252h3.5v4h-3.5zM842 252h3.5v4h-3.5zM803 256h7.5v3.5h-7.5zM803 259.5h4v4h-4zM810.5 259.5h14v4h-14z"/>
<path fill="#00c898" d="M768 209h3.5v4h-3.5zM750 213h4v4h-4zM764.5 213h3.5v4h-3.5zM778.5 213h7v4h-7zM764.5 217h3.5v4h-3.5zM789 221h3.5v4h-3.5zM750 225h7.5v3.5h-7.5zM792.5 225h3.5v3.5h-3.5zM750 228.5h4v4h-4zM750 232.5h7.5v4h-7.5zM796 232.5h3.5v4h-3.5zM743 236.5h7v4h-7zM860 236.5h3.5v4h-3.5zM796 240.5h3.5v3.5h-3.5zM856.5 240.5h3.5v3.5h-3.5zM736 244h3.5v4h-3.5zM796 244h3.5v4h-3.5zM732.5 252h3.5v4h-3.5zM799.5 252h3.5v4h-3.5zM722 256h3.5v3.5h-3.5zM831.5 256h3.5v3.5h-3.5zM807 259.5h3.5v4h-3.5zM807 263.5h3.5v4h-3.5z"/>
<path fill="#00c8a0" d="M754 213h10.5v4h-10.5zM768 213h3.5v4h-3.5zM757.5 217h7v4h-7zM768 217h10.5v4h-10.5zM782 217h3.5v4h-3.5zM757.5 221h3.5v4h-3.5zM785.5 221h3.5v4h-3.5zM757.5 225h3.5v3.5h-3.5zM789 225h3.5v3.5h-3.5zM789 228.5h7v4h-7zM792.5 232.5h3.5v4h-3.5zM867 232.5h3.5v4h-3.5zM750 236.5h4v4h-4zM743 240.5h3.5v3.5h-3.5zM739.5 244h3.5v4h-3.5zM736 248h3.5v4h-3.5zM796 248h3.5v4h-3.5zM736 252h3.5v4h-3.5zM799.5 256h3.5v3.5h-3.5zM799.5 259.5h3.5v4h-3.5zM824.5 259.5h3.5v4h-3.5zM803 263.5h4v4h-4zM810.5 263.5h3.5v4h-3.5z"/>
<path fill="#00c8a8" d="M778.5 217h3.5v4h-3.5zM761 221h7v4h-7zM775 221h3.5v4h-3.5zM782 225h7v3.5h-7zM761 228.5h3.5v4h-3.5zM874 228.5h3.5v4h-3.5zM757.5 232.5h3.5v4h-3.5zM789 232.5h3.5v4h-3.5zM754 236.5h3.5v4h-3.5zM792.5 236.5h3.5v4h-3.5zM863.5 236.5h3.5v4h-3.5zM746.5 240.5h3.5v3.5h-3.5zM743 244h3.5v4h-3.5zM792.5 244h3.5v4h-3.5zM853 244h3.5v4h-3.5zM792.5 248h3.5v4h-3.5zM725.5 256h3.5v3.5h-3.5zM814 263.5h10.5v4h-10.5z"/>
<path fill="#00c8b8" d="M768 221h3.5v4h-3.5zM764.5 225h3.5v3.5h-3.5zM775 225h3.5v3.5h-3.5zM771.5 228.5h3.5v4h-3.5zM761 232.5h3.5v4h-3.5zM785.5 232.5h3.5v4h-3.5zM757.5 236.5h3.5v4h-3.5zM789 236.5h3.5v4h-3.5zM754 240.5h3.5v3.5h-3.5zM860 240.5h3.5v3.5h-3.5zM746.5 244h3.5v4h-3.5zM739.5 248h3.5v4h-3.5zM796 252h3.5v4h-3.5zM824.5 263.5h3.5v4h-3.5z"/>
<path fill="#00c8b0" d="M771.5 221h3.5v4h-3.5zM778.5 221h7v4h-7zM761 225h3.5v3.5h-3.5zM771.5 225h3.5v3.5h-3.5zM778.5 225h3.5v3.5h-3.5zM785.5 228.5h3.5v4h-3.5zM870.5 232.5h3.5v4h-3.5zM750 240.5h4v3.5h-4zM792.5 240.5h3.5v3.5h-3.5zM845.5 252h3.5v4h-3.5zM729 256h7v3.5h-7zM835 256h3.5v3.5h-3.5zM722 259.5h3.5v4h-3.5zM722 263.5h3.5v4h-3.5zM799.5 263.5h3.5v4h-3.5z"/>
<path fill="#00c8c0" d="M768 225h3.5v3.5h-3.5zM764.5 228.5h7v4h-7zM775 228.5h10.5v4h-10.5zM764.5 232.5h14v4h-14zM761 236.5h3.5v4h-3.5zM757.5 240.5h7v3.5h-7zM750 244h4v4h-4zM789 244h3.5v4h-3.5zM856.5 244h3.5v4h-3.5zM789 248h3.5v4h-3.5zM849 248h4v4h-4zM792.5 252h3.5v4h-3.5zM736 256h3.5v3.5h-3.5zM796 256h3.5v3.5h-3.5zM729 259.5h3.5v4h-3.5zM828 259.5h3.5v4h-3.5z"/>
<path fill="#00c8c8" d="M778.5 232.5h7v4h-7zM771.5 236.5h3.5v4h-3.5zM785.5 236.5h3.5v4h-3.5zM867 236.5h3.5v4h-3.5zM764.5 240.5h3.5v3.5h-3.5zM789 240.5h3.5v3.5h-3.5zM754 244h14v4h-14zM743 248h7v4h-7zM739.5 252h3.5v4h-3.5zM757.5 252h3.5v4h-3.5zM838.5 256h3.5v3.5h-3.5zM725.5 259.5h3.5v4h-3.5zM725.5 263.5h7v4h-7z"/>
<path fill="#00c8d0" d="M874 232.5h3.5v4h-3.5zM764.5 236.5h7v4h-7zM775 236.5h3.5v4h-3.5zM782 236.5h3.5v4h-3.5zM870.5 236.5h3.5v4h-3.5zM750 248h11v4h-11zM754 252h3.5v4h-3.5zM789 252h3.5v4h-3.5zM732.5 259.5h3.5v4h-3.5zM796 259.5h3.5v4h-3.5zM785.5 263.5h3.5v4h-3.5zM828 263.5h3.5v4h-3.5z"/>
<path fill="#00c8d8" d="M778.5 236.5h3.5v4h-3.5zM874 236.5h3.5v4h-3.5zM768 240.5h3.5v3.5h-3.5zM782 240.5h7v3.5h-7zM863.5 240.5h3.5v3.5h-3.5zM785.5 244h3.5v4h-3.5zM761 248h7v4h-7zM785.5 248h3.5v4h-3.5zM853 248h3.5v4h-3.5zM746.5 252h7.5v4h-7.5zM761 252h7v4h-7zM849 252h4v4h-4zM739.5 256h3.5v3.5h-3.5zM754 256h7v3.5h-7zM792.5 256h3.5v3.5h-3.5zM842 256h3.5v3.5h-3.5zM831.5 259.5h3.5v4h-3.5zM732.5 263.5h3.5v4h-3.5zM757.5 263.5h7v4h-7zM782 263.5h3.5v4h-3.5zM796 263.5h3.5v4h-3.5z"/>
<path fill="#00c0e0" d="M771.5 240.5h10.5v3.5h-10.5zM867 240.5h7v3.5h-7zM768 244h7v4h-7zM778.5 244h7v4h-7zM860 244h3.5v4h-3.5zM768 248h3.5v4h-3.5zM775 248h10.5v4h-10.5zM743 252h3.5v4h-3.5zM768 252h7v4h-7zM785.5 252h3.5v4h-3.5zM743 256h11v3.5h-11zM761 256h10.5v3.5h-10.5zM789 256h3.5v3.5h-3.5zM736 259.5h32v4h-32zM771.5 259.5h3.5v4h-3.5zM782 259.5h14v4h-14zM764.5 263.5h14v4h-14zM789 263.5h7v4h-7zM831.5 263.5h3.5v4h-3.5z"/>
<path fill="#00b8e8" d="M874 240.5h3.5v3.5h-3.5zM775 244h3.5v4h-3.5zM771.5 248h3.5v4h-3.5zM856.5 248h3.5v4h-3.5zM775 252h10.5v4h-10.5zM771.5 256h3.5v3.5h-3.5zM785.5 256h3.5v3.5h-3.5zM845.5 256h3.5v3.5h-3.5zM768 259.5h3.5v4h-3.5zM775 259.5h7v4h-7zM835 259.5h3.5v4h-3.5zM743 263.5h14.5v4h-14.5zM778.5 263.5h3.5v4h-3.5zM835 263.5h3.5v4h-3.5z"/>
<path fill="#00b0f0" d="M863.5 244h3.5v4h-3.5zM860 248h3.5v4h-3.5zM853 252h3.5v4h-3.5zM775 256h10.5v3.5h-10.5zM838.5 259.5h3.5v4h-3.5zM736 263.5h7v4h-7z"/>
<path fill="#00a8f0" d="M867 244h3.5v4h-3.5zM856.5 252h3.5v4h-3.5zM849 256h4v3.5h-4zM838.5 263.5h3.5v4h-3.5z"/>
<path fill="#00a0f0" d="M870.5 244h3.5v4h-3.5zM842 259.5h3.5v4h-3.5z"/>
<path fill="#0098f0" d="M874 244h3.5v4h-3.5zM863.5 248h3.5v4h-3.5zM860 252h3.5v4h-3.5z"/>
<path fill="#0090f0" d="M867 248h3.5v4h-3.5zM845.5 259.5h3.5v4h-3.5zM842 263.5h3.5v4h-3.5z"/>
<path fill="#0088f0" d="M870.5 248h3.5v4h-3.5zM863.5 252h3.5v4h-3.5zM853 256h3.5v3.5h-3.5zM845.5 263.5h3.5v4h-3.5z"/>
<path fill="#0080f0" d="M874 248h3.5v4h-3.5zM867 252h3.5v4h-3.5zM849 259.5h4v4h-4z"/>
<path fill="#0078e8" d="M870.5 252h3.5v4h-3.5z"/>
<path fill="#0070e8" d="M874 252h3.5v4h-3.5zM863.5 256h7v3.5h-7zM874 256h3.5v3.5h-3.5zM853 259.5h3.5v4h-3.5z"/>
<path fill="#0080e8" d="M856.5 256h7v3.5h-7zM849 263.5h4v4h-4z"/>
<path fill="#0068e0" d="M870.5 256h3.5v3.5h-3.5zM856.5 259.5h3.5v4h-3.5zM867 259.5h10.5v4h-10.5zM853 263.5h3.5v4h-3.5zM867 263.5h3.5v4h-3.5z"/>
<path fill="#0060e0" d="M860 259.5h3.5v4h-3.5zM863.5 263.5h3.5v4h-3.5zM870.5 263.5h3.5v4h-3.5z"/>
<path fill="#0060d8" d="M863.5 259.5h3.5v4h-3.5zM860 263.5h3.5v4h-3.5zM874 263.5h3.5v4h-3.5z"/>
<path fill="#0858d8" d="M856.5 263.5h3.5v4h-3.5z"/>
<path fill="#fff" d="M832 34.5h32v12h-14v4h-4v-4h-11v-4h-3z"/>
</g>
<g transform="translate(0 0)" stroke="#000" stroke-width="1" fill="none" stroke-linejoin="round" shape-rendering="crispEdges">
<path d="M679.7 74.7L684 80.7L685.8 91L686.6 103.1L689.2 113.4L695.2 125.5L694.4 134.1L690 135.9L685.8 129L679.7 128.1"/>
<path d="M699.6 82.5L699 85.8" stroke-width="1.5"/>
<path d="M705.6 100.5L709.9 99.7L717.7 102.2L723.7 106.6L726.3 110.9L722 115.2L718.5 116.9L716.8 111.7L714.2 104.8L709 103.1z"/>
<path d="M714.2 117.8L715.9 119.5L715.1 124.7L713.3 127.2L712.5 122.9L713.3 118.6z"/>
<path d="M724.4 118.6L726.6 117.6" stroke-width="1.5"/>
<path d="M731.8 119L733 118.2"/>
<path d="M736.6 121.2L739.2 117.8L742.7 117.8L744.4 122.1L743.5 125.5L740.1 124.7z"/>
<path d="M686.4 148.2L688.8 145.8L688.2 148.4z"/>
<path d="M761.4 92.2L758.8 88.6L755.7 85L754.1 80.3L753.1 76.2L751 73.1L750.5 70L751.5 66.9L753.1 64.8L751 62.2L752.6 59.1L754.1 56.5L755.7 56L757.2 58.6L759.8 60.2L761.4 64.3L762.4 67.4L761.4 70L761.9 73.1L764 75.7L765.5 79.3"/>
<path d="M753.6 66.6L754.4 66.6"/>
<path d="M769 85.3L769.8 85.3"/>
<path d="M765.9 91.4L767.6 95.7" stroke-width="1.5"/>
<path d="M770.7 99.3L775.9 101.2L783 105.9L788.7 110.2L795.4 115.4L798.2 117.8L801.1 122.5L806.7 126.8L812.4 129.6L818.1 134.4L822.9 138.2L825.7 139.6L826.7 144.3L822.9 146.7L818.1 144.3L812.4 140.5L806.7 137.7L803 133.9L797.3 129.6L791.6 125.8L787.8 122.5L784 117.8L780.2 113.5L776.4 108.3L774.5 105.4L772 102.5z" fill="#f6c39c" stroke-width="2"/>
<path d="M799.5 93.1L802.9 92.2L807.2 95.7L805.5 99.1L801.2 98.3L798.6 94.8z"/>
<path d="M811.6 108.6L816.7 107.8L821 107.8L820.2 111.2L816.7 112.9L813.3 111.2z"/>
<path d="M827.9 112.9L831.4 112.9L833.1 118.1L832.2 121.6L828.8 119.8L827.1 116.4z" fill="#f6c39c"/>
<path d="M836.6 122.4L837.4 122.9"/>
<path d="M840 121.2L841 121.8"/>
<path d="M841.5 125.5L845 125L846.5 128.5L844.5 131L842 129.5z" fill="#f6c39c"/>
<path d="M833.8 149.5L835.6 150.8L834.4 151.4z" stroke-width="1.2"/>
<path d="M844.3 34.8L845 37.5L848.5 39L850 36.2L846.5 34.8z" fill="#f6c39c"/>
<path d="M848.5 36L852.4 37.5L854.6 40.2L855.6 42.8" stroke-width="1.6"/>
<path d="M849.5 43L851.5 42.5L851.5 44.6" stroke-width="1.3"/>
<path d="M851.5 46L851.8 47.5" stroke-width="1.3"/>
<path d="M846.3 54.6L848.8 51.2L851 49.6L853.4 51L854.8 53.7L853.5 57.4L849.4 57.4L847 56z" fill="#f6c39c" stroke-width="1.8"/>
<path d="M861.9 73.4L866 74.4L867.4 78.5L865 80.2L861.9 77.5z" fill="#f6c39c" stroke-width="1.4"/>
<path d="M866.6 86.4L869.1 87.9L870.1 92L867.4 92L865.4 88.9z" fill="#f6c39c" stroke-width="1.4"/>
<path d="M872 85.4L872.6 86.2" stroke-width="1.2"/>
<path d="M874.3 102.5L876.3 102.8L875.8 104.6z" fill="#f6c39c" stroke-width="1.2"/>
<circle cx="778.5" cy="150.9" r="5"/>
</g>
<g stroke="#000" stroke-width="1" fill="none" shape-rendering="crispEdges">
<rect x="679.5" y="34.5" width="198" height="233"/>
<path d="M701.5 34.5v-3M701.5 267.5v3M737.5 34.5v-3M737.5 267.5v3M772.5 34.5v-3M772.5 267.5v3M808.5 34.5v-3M808.5 267.5v3M844.5 34.5v-3M844.5 267.5v3M679.5 60.5h-3M877.5 60.5h3M679.5 99.5h-3M877.5 99.5h3M679.5 138.5h-3M877.5 138.5h3M679.5 176.5h-3M877.5 176.5h3M679.5 215.5h-3M877.5 215.5h3M679.5 254.5h-3M877.5 254.5h3"/>
</g>
<text x="701.4" y="283.8" font-size="12" text-anchor="middle">160</text>
<text x="737.1" y="283.8" font-size="12" text-anchor="middle">162</text>
<text x="772.8" y="283.8" font-size="12" text-anchor="middle">164</text>
<text x="808.5" y="283.8" font-size="12" text-anchor="middle">166</text>
<text x="844.2" y="283.8" font-size="12" text-anchor="middle">168</text>
<text x="673.5" y="64.3" font-size="12" text-anchor="end">-18</text>
<text x="673.5" y="103.1" font-size="12" text-anchor="end">-20</text>
<text x="673.5" y="141.9" font-size="12" text-anchor="end">-22</text>
<text x="673.5" y="180.7" font-size="12" text-anchor="end">-24</text>
<text x="673.5" y="219.5" font-size="12" text-anchor="end">-26</text>
<text x="673.5" y="258.3" font-size="12" text-anchor="end">-28</text>
<text x="776.4" y="25.5" font-size="12" text-anchor="middle" textLength="138" lengthAdjust="spacing">sat. SST: 24.8 Argo: 24.6</text>
<g shape-rendering="crispEdges">
<path fill="#20e008" d="M679.5 325.5h7v4h-7zM778.5 325.5h3.5v4h-3.5zM679.5 329.5h7v3.5h-7zM778.5 329.5h3.5v3.5h-3.5zM824.5 329.5h3.5v3.5h-3.5zM683 333h3.5v4h-3.5zM778.5 333h3.5v4h-3.5zM708 337h3.5v4h-3.5zM683 341h3.5v4h-3.5zM824.5 341h3.5v4h-3.5zM683 345h3.5v3.5h-3.5zM683 348.5h3.5v4h-3.5zM686.5 352.5h3.5v4h-3.5zM708 352.5h3.5v4h-3.5zM778.5 352.5h3.5v4h-3.5zM828 352.5h3.5v4h-3.5zM679.5 356.5h3.5v4h-3.5zM686.5 356.5h3.5v4h-3.5zM824.5 356.5h3.5v4h-3.5zM679.5 360.5h7v3.5h-7zM718.5 360.5h3.5v3.5h-3.5zM821 360.5h3.5v3.5h-3.5zM679.5 364h7v4h-7zM789 364h3.5v4h-3.5zM810.5 364h7v4h-7zM686.5 368h3.5v4h-3.5zM725.5 368h3.5v4h-3.5zM860 368h3.5v4h-3.5zM686.5 372h7v4h-7zM690 376h3.5v3.5h-3.5zM729 376h3.5v3.5h-3.5zM690 379.5h3.5v4h-3.5zM860 379.5h3.5v4h-3.5zM697 387.5h3.5v3.5h-3.5zM729 387.5h3.5v3.5h-3.5zM700.5 391h3.5v4h-3.5zM729 391h3.5v4h-3.5zM849 391h4v4h-4zM708 395h3.5v4h-3.5zM725.5 395h3.5v4h-3.5zM845.5 395h3.5v4h-3.5zM838.5 406.5h3.5v4h-3.5zM842 430h3.5v4h-3.5zM853 434h3.5v3.5h-3.5zM817.5 453h3.5v4h-3.5zM722 457h7v4h-7zM739.5 457h3.5v4h-3.5zM708 461h3.5v3.5h-3.5zM821 461h3.5v3.5h-3.5zM718.5 492h3.5v3.5h-3.5zM690 495.5h3.5v4h-3.5zM754 495.5h3.5v4h-3.5zM700.5 499.5h3.5v4h-3.5zM803 499.5h4v4h-4zM683 503.5h14v3.5h-14zM799.5 511h3.5v4h-3.5zM754 515h3.5v4h-3.5zM796 526.5h3.5v4h-3.5zM870.5 526.5h3.5v4h-3.5zM792.5 538h3.5v4h-3.5zM863.5 538h3.5v4h-3.5zM743 542h3.5v4h-3.5zM739.5 546h3.5v4h-3.5zM860 546h3.5v4h-3.5zM860 550h3.5v3.5h-3.5zM860 553.5h3.5v4h-3.5z"/>
<path fill="#10e008" d="M686.5 325.5h3.5v4h-3.5zM845.5 337h3.5v4h-3.5zM704 341h4v4h-4zM704 348.5h4v4h-4zM690 356.5h3.5v4h-3.5zM817.5 360.5h3.5v3.5h-3.5zM863.5 368h3.5v4h-3.5zM693.5 376h3.5v3.5h-3.5zM863.5 376h3.5v3.5h-3.5zM693.5 379.5h3.5v4h-3.5zM860 383.5h3.5v4h-3.5zM856.5 387.5h3.5v3.5h-3.5zM842 403h3.5v3.5h-3.5zM754 449h3.5v4h-3.5zM821 468.5h3.5v4h-3.5zM697 499.5h3.5v4h-3.5zM799.5 507h3.5v4h-3.5zM874 522.5h3.5v4h-3.5zM789 553.5h3.5v4h-3.5z"/>
<path fill="#10e010" d="M690 325.5h3.5v4h-3.5zM708 325.5h3.5v4h-3.5zM708 329.5h3.5v3.5h-3.5zM785.5 333h3.5v4h-3.5zM704 337h4v4h-4zM782 337h3.5v4h-3.5zM845.5 341h3.5v4h-3.5zM686.5 345h3.5v3.5h-3.5zM704 345h4v3.5h-4zM845.5 345h3.5v3.5h-3.5zM690 352.5h3.5v4h-3.5zM704 352.5h4v4h-4zM708 356.5h3.5v4h-3.5zM821 356.5h3.5v4h-3.5zM789 360.5h3.5v3.5h-3.5zM810.5 360.5h7v3.5h-7zM693.5 364h3.5v4h-3.5zM693.5 368h3.5v4h-3.5zM693.5 372h3.5v4h-3.5zM863.5 379.5h3.5v4h-3.5zM697 383.5h3.5v4h-3.5zM700.5 387.5h3.5v3.5h-3.5zM704 391h4v4h-4zM725.5 391h3.5v4h-3.5zM853 391h3.5v4h-3.5zM711.5 395h3.5v4h-3.5zM718.5 395h3.5v4h-3.5zM775 445.5h3.5v3.5h-3.5zM782 449h3.5v4h-3.5zM792.5 449h3.5v4h-3.5zM743 457h3.5v4h-3.5zM821 464.5h3.5v4h-3.5zM817.5 476.5h3.5v3.5h-3.5zM810.5 484h3.5v4h-3.5zM693.5 488h3.5v4h-3.5zM754 488h3.5v4h-3.5zM807 488h3.5v4h-3.5zM693.5 499.5h3.5v4h-3.5zM757.5 499.5h3.5v4h-3.5zM757.5 503.5h3.5v3.5h-3.5zM757.5 507h3.5v4h-3.5zM796 519h3.5v3.5h-3.5zM754 522.5h3.5v4h-3.5zM789 550h3.5v3.5h-3.5z"/>
<path fill="#00d810" d="M693.5 325.5h7v4h-7zM796 325.5h7v4h-7zM817.5 325.5h3.5v4h-3.5zM697 329.5h3.5v3.5h-3.5zM799.5 329.5h3.5v3.5h-3.5zM817.5 329.5h3.5v3.5h-3.5zM697 333h3.5v4h-3.5zM796 333h3.5v4h-3.5zM817.5 333h3.5v4h-3.5zM849 333h4v4h-4zM789 337h3.5v4h-3.5zM785.5 341h3.5v4h-3.5zM697 345h3.5v3.5h-3.5zM785.5 345h3.5v3.5h-3.5zM697 348.5h3.5v4h-3.5zM785.5 348.5h3.5v4h-3.5zM817.5 348.5h3.5v4h-3.5zM785.5 352.5h3.5v4h-3.5zM817.5 352.5h3.5v4h-3.5zM789 356.5h3.5v4h-3.5zM810.5 356.5h3.5v4h-3.5zM700.5 360.5h11v3.5h-11zM796 360.5h11v3.5h-11zM700.5 364h3.5v4h-3.5zM718.5 364h3.5v4h-3.5zM867 364h3.5v4h-3.5zM700.5 368h3.5v4h-3.5zM722 368h3.5v4h-3.5zM870.5 368h3.5v4h-3.5zM700.5 372h3.5v4h-3.5zM870.5 372h3.5v4h-3.5zM700.5 376h3.5v3.5h-3.5zM725.5 376h3.5v3.5h-3.5zM870.5 376h3.5v3.5h-3.5zM700.5 379.5h3.5v4h-3.5zM725.5 379.5h3.5v4h-3.5zM867 379.5h3.5v4h-3.5zM725.5 383.5h3.5v4h-3.5zM704 387.5h4v3.5h-4zM722 391h3.5v4h-3.5zM856.5 391h3.5v4h-3.5zM853 395h3.5v4h-3.5zM845.5 403h3.5v3.5h-3.5zM867 437.5h3.5v4h-3.5zM768 445.5h3.5v3.5h-3.5zM757.5 449h3.5v4h-3.5zM778.5 449h3.5v4h-3.5zM782 453h3.5v4h-3.5zM789 453h3.5v4h-3.5zM746.5 457h3.5v4h-3.5zM700.5 468.5h3.5v4h-3.5zM754 484h3.5v4h-3.5zM757.5 488h3.5v4h-3.5zM757.5 492h3.5v3.5h-3.5zM700.5 495.5h3.5v4h-3.5zM799.5 495.5h3.5v4h-3.5zM757.5 515h3.5v4h-3.5zM867 534.5h3.5v3.5h-3.5zM789 538h3.5v4h-3.5zM746.5 542h3.5v4h-3.5zM863.5 542h3.5v4h-3.5zM785.5 553.5h3.5v4h-3.5z"/>
<path fill="#00e010" d="M700.5 325.5h7.5v4h-7.5zM849 325.5h4v4h-4zM693.5 329.5h3.5v3.5h-3.5zM700.5 329.5h3.5v3.5h-3.5zM796 329.5h3.5v3.5h-3.5zM849 329.5h4v3.5h-4zM693.5 333h3.5v4h-3.5zM693.5 337h10.5v4h-10.5zM697 341h3.5v4h-3.5zM821 341h3.5v4h-3.5zM693.5 345h3.5v3.5h-3.5zM700.5 345h3.5v3.5h-3.5zM821 345h3.5v3.5h-3.5zM693.5 348.5h3.5v4h-3.5zM849 348.5h4v4h-4zM693.5 352.5h10.5v4h-10.5zM853 352.5h3.5v4h-3.5zM697 356.5h7v4h-7zM814 356.5h3.5v4h-3.5zM697 360.5h3.5v3.5h-3.5zM711.5 360.5h3.5v3.5h-3.5zM807 360.5h3.5v3.5h-3.5zM700.5 383.5h3.5v4h-3.5zM863.5 383.5h3.5v4h-3.5zM725.5 387.5h3.5v3.5h-3.5zM860 387.5h3.5v3.5h-3.5zM708 391h3.5v4h-3.5zM842 426h3.5v4h-3.5zM771.5 445.5h3.5v3.5h-3.5zM796 449h3.5v4h-3.5zM810.5 449h3.5v4h-3.5zM785.5 453h3.5v4h-3.5zM715 461h3.5v3.5h-3.5zM697 476.5h3.5v3.5h-3.5zM736 484h3.5v4h-3.5zM750 484h4v4h-4zM725.5 488h3.5v4h-3.5zM799.5 499.5h3.5v4h-3.5zM796 511h3.5v4h-3.5zM754 526.5h3.5v4h-3.5zM789 542h3.5v4h-3.5z"/>
<path fill="#28e008" d="M711.5 325.5h3.5v4h-3.5zM775 325.5h3.5v4h-3.5zM828 325.5h3.5v4h-3.5zM711.5 329.5h3.5v3.5h-3.5zM679.5 333h3.5v4h-3.5zM775 333h3.5v4h-3.5zM824.5 333h3.5v4h-3.5zM683 337h3.5v4h-3.5zM775 337h3.5v4h-3.5zM824.5 337h3.5v4h-3.5zM679.5 341h3.5v4h-3.5zM708 341h3.5v4h-3.5zM775 341h3.5v4h-3.5zM842 341h3.5v4h-3.5zM679.5 345h3.5v3.5h-3.5zM708 345h3.5v3.5h-3.5zM775 345h3.5v3.5h-3.5zM828 345h3.5v3.5h-3.5zM842 345h3.5v3.5h-3.5zM679.5 348.5h3.5v4h-3.5zM708 348.5h3.5v4h-3.5zM828 348.5h3.5v4h-3.5zM842 348.5h3.5v4h-3.5zM679.5 352.5h7v4h-7zM845.5 352.5h3.5v4h-3.5zM683 356.5h3.5v4h-3.5zM828 356.5h3.5v4h-3.5zM782 360.5h3.5v3.5h-3.5zM817.5 364h3.5v4h-3.5zM856.5 364h3.5v4h-3.5zM679.5 368h7v4h-7zM792.5 368h3.5v4h-3.5zM679.5 372h7v4h-7zM860 372h3.5v4h-3.5zM679.5 376h10.5v3.5h-10.5zM860 376h3.5v3.5h-3.5zM690 383.5h3.5v4h-3.5zM856.5 383.5h3.5v4h-3.5zM693.5 387.5h3.5v3.5h-3.5zM853 387.5h3.5v3.5h-3.5zM704 395h4v4h-4zM715 399h7v4h-7zM842 399h3.5v4h-3.5zM835 418.5h3.5v3.5h-3.5zM835 422h3.5v4h-3.5zM768 441.5h7v4h-7zM870.5 441.5h3.5v4h-3.5zM757.5 445.5h3.5v3.5h-3.5zM782 445.5h3.5v3.5h-3.5zM814 449h3.5v4h-3.5zM746.5 453h3.5v4h-3.5zM718.5 457h3.5v4h-3.5zM729 457h10.5v4h-10.5zM700.5 464.5h3.5v4h-3.5zM693.5 484h3.5v4h-3.5zM746.5 488h3.5v4h-3.5zM807 492h3.5v3.5h-3.5zM686.5 499.5h3.5v4h-3.5zM754 499.5h3.5v4h-3.5zM679.5 503.5h3.5v3.5h-3.5zM679.5 507h10.5v4h-10.5zM754 511h3.5v4h-3.5zM799.5 515h3.5v4h-3.5zM750 526.5h4v4h-4z"/>
<path fill="#48e800" d="M715 325.5h3.5v4h-3.5zM831.5 325.5h3.5v4h-3.5zM828 329.5h3.5v3.5h-3.5zM711.5 341h3.5v4h-3.5zM768 341h3.5v4h-3.5zM711.5 348.5h3.5v4h-3.5zM718.5 356.5h3.5v4h-3.5zM838.5 356.5h7v4h-7zM778.5 360.5h3.5v3.5h-3.5zM831.5 360.5h3.5v3.5h-3.5zM782 364h3.5v4h-3.5zM853 364h3.5v4h-3.5zM729 368h3.5v4h-3.5zM785.5 368h3.5v4h-3.5zM824.5 368h3.5v4h-3.5zM789 372h3.5v4h-3.5zM799.5 372h14.5v4h-14.5zM732.5 376h3.5v3.5h-3.5zM679.5 387.5h7v3.5h-7zM845.5 387.5h3.5v3.5h-3.5zM842 391h3.5v4h-3.5zM697 395h3.5v4h-3.5zM704 399h4v4h-4zM729 399h3.5v4h-3.5zM838.5 399h3.5v4h-3.5zM711.5 403h3.5v3.5h-3.5zM835 406.5h3.5v4h-3.5zM831.5 426h3.5v4h-3.5zM842 434h3.5v3.5h-3.5zM856.5 437.5h3.5v4h-3.5zM782 441.5h3.5v4h-3.5zM754 445.5h3.5v3.5h-3.5zM810.5 445.5h3.5v3.5h-3.5zM690 488h3.5v4h-3.5zM746.5 492h3.5v3.5h-3.5zM700.5 503.5h3.5v3.5h-3.5zM686.5 511h3.5v4h-3.5zM803 511h4v4h-4zM750 519h4v3.5h-4zM799.5 522.5h3.5v4h-3.5zM863.5 534.5h3.5v3.5h-3.5zM739.5 542h3.5v4h-3.5zM736 546h3.5v4h-3.5zM732.5 550h3.5v3.5h-3.5z"/>
<path fill="#68e800" d="M718.5 325.5h3.5v4h-3.5zM761 333h3.5v4h-3.5zM828 333h3.5v4h-3.5zM715 341h3.5v4h-3.5zM764.5 341h3.5v4h-3.5zM831.5 341h3.5v4h-3.5zM715 348.5h3.5v4h-3.5zM722 356.5h3.5v4h-3.5zM771.5 356.5h3.5v4h-3.5zM729 364h3.5v4h-3.5zM838.5 364h3.5v4h-3.5zM845.5 364h3.5v4h-3.5zM849 368h4v4h-4zM789 376h3.5v3.5h-3.5zM821 376h7v3.5h-7zM736 379.5h3.5v4h-3.5zM842 383.5h3.5v4h-3.5zM736 391h3.5v4h-3.5zM679.5 395h3.5v4h-3.5zM693.5 399h3.5v4h-3.5zM732.5 399h3.5v4h-3.5zM700.5 403h3.5v3.5h-3.5zM704 406.5h4v4h-4zM725.5 406.5h3.5v4h-3.5zM679.5 418.5h14v3.5h-14zM693.5 426h3.5v4h-3.5zM686.5 430h3.5v4h-3.5zM679.5 434h7v3.5h-7zM778.5 437.5h3.5v4h-3.5zM849 437.5h4v4h-4zM792.5 441.5h3.5v4h-3.5zM715 453h3.5v4h-3.5zM732.5 453h3.5v4h-3.5zM704 457h4v4h-4zM824.5 461h3.5v3.5h-3.5zM739.5 492h3.5v3.5h-3.5zM746.5 495.5h3.5v4h-3.5zM704 503.5h4v3.5h-4zM693.5 511h3.5v4h-3.5zM686.5 515h3.5v4h-3.5zM746.5 522.5h3.5v4h-3.5zM799.5 530.5h3.5v4h-3.5zM739.5 538h3.5v4h-3.5zM796 546h3.5v4h-3.5zM796 550h3.5v3.5h-3.5zM853 550h3.5v3.5h-3.5zM796 553.5h3.5v4h-3.5z"/>
<path fill="#80f000" d="M722 325.5h3.5v4h-3.5zM835 329.5h3.5v3.5h-3.5zM757.5 333h3.5v4h-3.5zM718.5 337h3.5v4h-3.5zM761 341h3.5v4h-3.5zM764.5 348.5h3.5v4h-3.5zM771.5 360.5h3.5v3.5h-3.5zM775 364h3.5v4h-3.5zM838.5 368h7v4h-7zM736 372h3.5v4h-3.5zM835 372h3.5v4h-3.5zM845.5 372h3.5v4h-3.5zM785.5 376h3.5v3.5h-3.5zM845.5 376h3.5v3.5h-3.5zM821 379.5h10.5v4h-10.5zM739.5 383.5h3.5v4h-3.5zM807 383.5h7v4h-7zM838.5 383.5h3.5v4h-3.5zM739.5 387.5h3.5v3.5h-3.5zM736 399h3.5v4h-3.5zM831.5 399h3.5v4h-3.5zM679.5 403h3.5v3.5h-3.5zM679.5 406.5h21v4h-21zM729 406.5h3.5v4h-3.5zM679.5 410.5h17.5v4h-17.5zM700.5 410.5h3.5v4h-3.5zM722 410.5h3.5v4h-3.5zM828 410.5h3.5v4h-3.5zM693.5 414.5h3.5v4h-3.5zM700.5 414.5h7.5v4h-7.5zM711.5 414.5h3.5v4h-3.5zM704 418.5h4v3.5h-4zM824.5 418.5h3.5v3.5h-3.5zM700.5 426h3.5v4h-3.5zM693.5 430h3.5v4h-3.5zM824.5 430h3.5v4h-3.5zM828 434h3.5v3.5h-3.5zM679.5 437.5h7v4h-7zM785.5 437.5h3.5v4h-3.5zM835 437.5h3.5v4h-3.5zM824.5 453h3.5v4h-3.5zM697 461h3.5v3.5h-3.5zM690 480h3.5v4h-3.5zM686.5 488h3.5v4h-3.5zM746.5 499.5h3.5v4h-3.5zM874 507h3.5v4h-3.5zM807 511h3.5v4h-3.5zM686.5 519h3.5v3.5h-3.5zM803 522.5h4v4h-4zM799.5 538h3.5v4h-3.5zM856.5 542h3.5v4h-3.5zM849 553.5h4v4h-4z"/>
<path fill="#98f000" d="M725.5 325.5h3.5v4h-3.5zM750 325.5h4v4h-4zM750 329.5h4v3.5h-4zM754 333h3.5v4h-3.5zM831.5 337h3.5v4h-3.5zM757.5 341h3.5v4h-3.5zM768 360.5h3.5v3.5h-3.5zM771.5 364h3.5v4h-3.5zM736 368h3.5v4h-3.5zM739.5 376h3.5v3.5h-3.5zM782 376h3.5v3.5h-3.5zM785.5 379.5h3.5v4h-3.5zM789 383.5h3.5v4h-3.5zM796 387.5h7v3.5h-7zM814 387.5h7v3.5h-7zM824.5 387.5h7v3.5h-7zM799.5 391h14.5v4h-14.5zM828 391h3.5v4h-3.5zM828 395h3.5v4h-3.5zM739.5 399h3.5v4h-3.5zM828 399h3.5v4h-3.5zM828 403h3.5v3.5h-3.5zM729 410.5h3.5v4h-3.5zM722 414.5h3.5v4h-3.5zM821 414.5h3.5v4h-3.5zM821 418.5h3.5v3.5h-3.5zM708 426h3.5v4h-3.5zM704 430h4v4h-4zM821 430h3.5v4h-3.5zM693.5 434h3.5v3.5h-3.5zM782 434h3.5v3.5h-3.5zM821 434h3.5v3.5h-3.5zM796 437.5h18v4h-18zM821 437.5h7v4h-7zM821 441.5h3.5v4h-3.5zM838.5 441.5h18v4h-18zM746.5 445.5h3.5v3.5h-3.5zM867 445.5h3.5v3.5h-3.5zM711.5 449h3.5v4h-3.5zM729 449h3.5v4h-3.5zM704 453h4v4h-4zM828 461h3.5v3.5h-3.5zM693.5 464.5h3.5v4h-3.5zM828 468.5h3.5v4h-3.5zM690 476.5h3.5v3.5h-3.5zM817.5 488h3.5v4h-3.5zM725.5 495.5h3.5v4h-3.5zM739.5 495.5h3.5v4h-3.5zM715 499.5h3.5v4h-3.5zM874 499.5h3.5v4h-3.5zM704 507h4v4h-4zM746.5 507h3.5v4h-3.5zM746.5 511h3.5v4h-3.5zM870.5 511h3.5v4h-3.5zM690 519h3.5v3.5h-3.5zM807 519h3.5v3.5h-3.5zM803 530.5h4v4h-4zM736 538h3.5v4h-3.5zM856.5 538h3.5v4h-3.5zM732.5 542h3.5v4h-3.5zM729 546h3.5v4h-3.5zM799.5 546h3.5v4h-3.5zM725.5 550h3.5v3.5h-3.5zM799.5 550h3.5v3.5h-3.5zM845.5 550h3.5v3.5h-3.5zM799.5 553.5h3.5v4h-3.5z"/>
<path fill="#b0f000" d="M729 325.5h3.5v4h-3.5zM746.5 325.5h3.5v4h-3.5zM729 329.5h3.5v3.5h-3.5zM746.5 329.5h3.5v3.5h-3.5zM754 341h3.5v4h-3.5zM757.5 348.5h3.5v4h-3.5zM764.5 360.5h3.5v3.5h-3.5zM775 376h3.5v3.5h-3.5zM778.5 379.5h3.5v4h-3.5zM782 383.5h3.5v4h-3.5zM743 403h3.5v3.5h-3.5zM796 403h3.5v3.5h-3.5zM799.5 406.5h3.5v4h-3.5zM810.5 410.5h7v4h-7zM729 414.5h3.5v4h-3.5zM814 414.5h3.5v4h-3.5zM722 418.5h3.5v3.5h-3.5zM814 418.5h3.5v3.5h-3.5zM711.5 430h3.5v4h-3.5zM768 430h3.5v4h-3.5zM704 434h4v3.5h-4zM796 434h3.5v3.5h-3.5zM807 434h3.5v3.5h-3.5zM693.5 437.5h3.5v4h-3.5zM711.5 445.5h3.5v3.5h-3.5zM831.5 445.5h3.5v3.5h-3.5zM831.5 449h3.5v4h-3.5zM874 492h3.5v3.5h-3.5zM718.5 499.5h3.5v4h-3.5zM708 507h3.5v4h-3.5zM810.5 511h3.5v4h-3.5zM693.5 519h3.5v3.5h-3.5zM690 522.5h3.5v4h-3.5zM739.5 526.5h3.5v4h-3.5zM860 530.5h3.5v4h-3.5zM803 538h4v4h-4zM725.5 546h3.5v4h-3.5zM722 550h3.5v3.5h-3.5z"/>
<path fill="#c0f800" d="M732.5 325.5h3.5v4h-3.5zM732.5 329.5h3.5v3.5h-3.5zM739.5 329.5h3.5v3.5h-3.5zM743 333h3.5v4h-3.5zM729 337h3.5v4h-3.5zM746.5 337h3.5v4h-3.5zM750 341h4v4h-4zM754 348.5h3.5v4h-3.5zM757.5 356.5h3.5v4h-3.5zM761 360.5h3.5v3.5h-3.5zM764.5 364h3.5v4h-3.5zM743 368h3.5v4h-3.5zM768 372h3.5v4h-3.5zM746.5 383.5h3.5v4h-3.5zM775 383.5h3.5v4h-3.5zM778.5 387.5h3.5v3.5h-3.5zM778.5 391h7v4h-7zM778.5 395h10.5v4h-10.5zM785.5 399h3.5v4h-3.5zM785.5 403h7v3.5h-7zM746.5 406.5h3.5v4h-3.5zM792.5 406.5h3.5v4h-3.5zM739.5 410.5h3.5v4h-3.5zM796 410.5h3.5v4h-3.5zM732.5 414.5h3.5v4h-3.5zM803 414.5h4v4h-4zM729 418.5h3.5v3.5h-3.5zM807 418.5h3.5v3.5h-3.5zM722 422h3.5v4h-3.5zM807 422h7v4h-7zM718.5 426h3.5v4h-3.5zM771.5 426h7v4h-7zM810.5 426h3.5v4h-3.5zM764.5 430h3.5v4h-3.5zM785.5 430h14v4h-14zM803 430h7.5v4h-7.5zM715 434h3.5v3.5h-3.5zM700.5 437.5h18v4h-18zM693.5 441.5h3.5v4h-3.5zM708 441.5h3.5v4h-3.5zM849 445.5h4v3.5h-4zM856.5 445.5h3.5v3.5h-3.5zM679.5 449h7v4h-7zM838.5 449h3.5v4h-3.5zM835 453h3.5v4h-3.5zM870.5 453h3.5v4h-3.5zM874 461h3.5v3.5h-3.5zM690 464.5h3.5v4h-3.5zM831.5 472.5h3.5v4h-3.5zM828 480h3.5v4h-3.5zM679.5 484h3.5v4h-3.5zM824.5 484h3.5v4h-3.5zM874 484h3.5v4h-3.5zM821 488h3.5v4h-3.5zM870.5 495.5h3.5v4h-3.5zM722 499.5h3.5v4h-3.5zM739.5 499.5h3.5v4h-3.5zM814 503.5h3.5v3.5h-3.5zM743 507h3.5v4h-3.5zM743 511h3.5v4h-3.5zM867 511h3.5v4h-3.5zM697 519h3.5v3.5h-3.5zM810.5 519h3.5v3.5h-3.5zM739.5 522.5h3.5v4h-3.5zM690 526.5h3.5v4h-3.5zM686.5 530.5h3.5v4h-3.5zM736 530.5h3.5v4h-3.5zM807 534.5h3.5v3.5h-3.5zM853 538h3.5v4h-3.5zM683 546h3.5v4h-3.5zM835 550h3.5v3.5h-3.5zM718.5 553.5h3.5v4h-3.5zM831.5 553.5h3.5v4h-3.5z"/>
<path fill="#c8f800" d="M736 325.5h7v4h-7zM736 329.5h3.5v3.5h-3.5zM732.5 333h3.5v4h-3.5zM739.5 333h3.5v4h-3.5zM743 337h3.5v4h-3.5zM729 341h3.5v4h-3.5zM746.5 341h3.5v4h-3.5zM729 345h3.5v3.5h-3.5zM750 345h4v3.5h-4zM729 348.5h3.5v4h-3.5zM732.5 352.5h3.5v4h-3.5zM754 352.5h3.5v4h-3.5zM736 356.5h3.5v4h-3.5zM739.5 360.5h3.5v3.5h-3.5zM743 364h3.5v4h-3.5zM761 364h3.5v4h-3.5zM764.5 368h3.5v4h-3.5zM746.5 372h3.5v4h-3.5zM746.5 376h3.5v3.5h-3.5zM768 376h3.5v3.5h-3.5zM746.5 379.5h3.5v4h-3.5zM771.5 379.5h3.5v4h-3.5zM771.5 383.5h3.5v4h-3.5zM771.5 387.5h7v3.5h-7zM750 391h4v4h-4zM775 391h3.5v4h-3.5zM750 395h4v4h-4zM775 395h3.5v4h-3.5zM750 399h4v4h-4zM771.5 399h14v4h-14zM750 403h4v3.5h-4zM775 403h10.5v3.5h-10.5zM750 406.5h4v4h-4zM778.5 406.5h14v4h-14zM743 410.5h3.5v4h-3.5zM789 410.5h7v4h-7zM736 414.5h3.5v4h-3.5zM796 414.5h7v4h-7zM803 418.5h4v3.5h-4zM725.5 422h3.5v4h-3.5zM803 422h4v4h-4zM768 426h3.5v4h-3.5zM778.5 426h7v4h-7zM803 426h7.5v4h-7.5zM718.5 430h3.5v4h-3.5zM761 430h3.5v4h-3.5zM799.5 430h3.5v4h-3.5zM757.5 434h3.5v3.5h-3.5zM718.5 437.5h3.5v4h-3.5zM754 437.5h3.5v4h-3.5zM697 441.5h3.5v4h-3.5zM704 441.5h4v4h-4zM722 441.5h3.5v4h-3.5zM690 445.5h3.5v3.5h-3.5zM704 445.5h4v3.5h-4zM729 445.5h3.5v3.5h-3.5zM853 445.5h3.5v3.5h-3.5zM686.5 449h3.5v4h-3.5zM693.5 449h10.5v4h-10.5zM842 449h3.5v4h-3.5zM693.5 453h3.5v4h-3.5zM835 457h3.5v4h-3.5zM690 461h3.5v3.5h-3.5zM874 464.5h3.5v4h-3.5zM874 468.5h3.5v4h-3.5zM874 472.5h3.5v4h-3.5zM874 476.5h3.5v3.5h-3.5zM874 480h3.5v4h-3.5zM870.5 492h3.5v3.5h-3.5zM817.5 495.5h3.5v4h-3.5zM715 503.5h3.5v3.5h-3.5zM814 507h3.5v4h-3.5zM867 507h3.5v4h-3.5zM863.5 519h3.5v3.5h-3.5zM693.5 522.5h3.5v4h-3.5zM810.5 522.5h3.5v4h-3.5zM686.5 534.5h3.5v3.5h-3.5zM732.5 534.5h3.5v3.5h-3.5zM686.5 538h3.5v4h-3.5zM729 538h3.5v4h-3.5zM686.5 542h3.5v4h-3.5zM849 542h4v4h-4zM722 546h3.5v4h-3.5zM842 546h3.5v4h-3.5zM686.5 550h3.5v3.5h-3.5zM718.5 550h3.5v3.5h-3.5zM831.5 550h3.5v3.5h-3.5zM686.5 553.5h3.5v4h-3.5zM828 553.5h3.5v4h-3.5z"/>
<path fill="#b8f800" d="M743 325.5h3.5v4h-3.5zM743 329.5h3.5v3.5h-3.5zM729 333h3.5v4h-3.5zM725.5 341h3.5v4h-3.5zM725.5 345h3.5v3.5h-3.5zM754 345h3.5v3.5h-3.5zM729 352.5h3.5v4h-3.5zM757.5 352.5h3.5v4h-3.5zM732.5 356.5h3.5v4h-3.5zM736 360.5h3.5v3.5h-3.5zM739.5 364h3.5v4h-3.5zM768 368h3.5v4h-3.5zM743 372h3.5v4h-3.5zM771.5 376h3.5v3.5h-3.5zM775 379.5h3.5v4h-3.5zM778.5 383.5h3.5v4h-3.5zM746.5 387.5h3.5v3.5h-3.5zM782 387.5h3.5v3.5h-3.5zM746.5 391h3.5v4h-3.5zM785.5 391h7v4h-7zM746.5 395h3.5v4h-3.5zM789 395h7v4h-7zM746.5 399h3.5v4h-3.5zM789 399h7v4h-7zM746.5 403h3.5v3.5h-3.5zM792.5 403h3.5v3.5h-3.5zM743 406.5h3.5v4h-3.5zM796 406.5h3.5v4h-3.5zM736 410.5h3.5v4h-3.5zM799.5 410.5h7.5v4h-7.5zM807 414.5h7v4h-7zM725.5 418.5h3.5v3.5h-3.5zM810.5 418.5h3.5v3.5h-3.5zM718.5 422h3.5v4h-3.5zM715 430h3.5v4h-3.5zM810.5 430h3.5v4h-3.5zM711.5 434h3.5v3.5h-3.5zM697 437.5h3.5v4h-3.5zM711.5 441.5h10.5v4h-10.5zM750 441.5h4v4h-4zM708 445.5h3.5v3.5h-3.5zM725.5 445.5h3.5v3.5h-3.5zM743 445.5h3.5v3.5h-3.5zM845.5 445.5h3.5v3.5h-3.5zM860 445.5h3.5v3.5h-3.5zM704 449h4v4h-4zM835 449h3.5v4h-3.5zM867 449h3.5v4h-3.5zM697 453h3.5v4h-3.5zM693.5 457h3.5v4h-3.5zM831.5 457h3.5v4h-3.5zM831.5 468.5h3.5v4h-3.5zM686.5 480h3.5v4h-3.5zM683 484h3.5v4h-3.5zM874 488h3.5v4h-3.5zM817.5 492h3.5v3.5h-3.5zM870.5 499.5h3.5v4h-3.5zM743 503.5h3.5v3.5h-3.5zM704 511h4v4h-4zM700.5 515h3.5v4h-3.5zM743 515h3.5v4h-3.5zM810.5 515h3.5v4h-3.5zM863.5 522.5h3.5v4h-3.5zM807 526.5h3.5v4h-3.5zM807 530.5h3.5v4h-3.5zM683 534.5h3.5v3.5h-3.5zM856.5 534.5h3.5v3.5h-3.5zM683 538h3.5v4h-3.5zM679.5 542h7v4h-7zM729 542h3.5v4h-3.5zM679.5 546h3.5v4h-3.5zM803 546h4v4h-4zM845.5 546h3.5v4h-3.5zM679.5 550h7v3.5h-7zM803 550h4v3.5h-4zM838.5 550h3.5v3.5h-3.5zM683 553.5h3.5v4h-3.5zM803 553.5h4v4h-4z"/>
<path fill="#88f000" d="M754 325.5h3.5v4h-3.5zM722 329.5h3.5v3.5h-3.5zM754 329.5h3.5v3.5h-3.5zM718.5 341h3.5v4h-3.5zM718.5 348.5h3.5v4h-3.5zM725.5 356.5h3.5v4h-3.5zM768 356.5h3.5v4h-3.5zM729 360.5h3.5v3.5h-3.5zM838.5 372h7v4h-7zM835 376h10.5v3.5h-10.5zM739.5 379.5h3.5v4h-3.5zM789 379.5h3.5v4h-3.5zM831.5 379.5h10.5v4h-10.5zM803 383.5h4v4h-4zM814 383.5h3.5v4h-3.5zM831.5 383.5h7v4h-7zM835 387.5h3.5v3.5h-3.5zM739.5 391h3.5v4h-3.5zM831.5 395h3.5v4h-3.5zM736 403h3.5v3.5h-3.5zM697 410.5h3.5v4h-3.5zM725.5 410.5h3.5v4h-3.5zM715 414.5h3.5v4h-3.5zM824.5 414.5h3.5v4h-3.5zM708 418.5h3.5v3.5h-3.5zM704 422h4v4h-4zM697 430h3.5v4h-3.5zM690 434h3.5v3.5h-3.5zM771.5 434h3.5v3.5h-3.5zM824.5 434h3.5v3.5h-3.5zM761 437.5h3.5v4h-3.5zM789 437.5h3.5v4h-3.5zM831.5 437.5h3.5v4h-3.5zM814 441.5h3.5v4h-3.5zM860 441.5h3.5v4h-3.5zM718.5 449h7v4h-7zM874 449h3.5v4h-3.5zM708 453h3.5v4h-3.5zM700.5 457h3.5v4h-3.5zM679.5 492h3.5v3.5h-3.5zM743 495.5h3.5v4h-3.5zM810.5 499.5h3.5v4h-3.5zM708 503.5h3.5v3.5h-3.5zM697 511h3.5v4h-3.5zM746.5 515h3.5v4h-3.5zM743 526.5h3.5v4h-3.5zM739.5 534.5h3.5v3.5h-3.5zM853 546h3.5v4h-3.5zM849 550h4v3.5h-4zM725.5 553.5h3.5v4h-3.5z"/>
<path fill="#78f000" d="M757.5 325.5h3.5v4h-3.5zM757.5 329.5h3.5v3.5h-3.5zM838.5 333h3.5v4h-3.5zM761 337h3.5v4h-3.5zM732.5 368h3.5v4h-3.5zM778.5 368h3.5v4h-3.5zM835 368h3.5v4h-3.5zM845.5 368h3.5v4h-3.5zM782 372h3.5v4h-3.5zM831.5 376h3.5v3.5h-3.5zM792.5 379.5h7v4h-7zM810.5 379.5h10.5v4h-10.5zM842 379.5h3.5v4h-3.5zM835 391h3.5v4h-3.5zM683 403h17.5v3.5h-17.5zM732.5 403h3.5v3.5h-3.5zM831.5 403h3.5v3.5h-3.5zM700.5 406.5h3.5v4h-3.5zM704 410.5h4v4h-4zM718.5 410.5h3.5v4h-3.5zM683 414.5h10.5v4h-10.5zM697 414.5h3.5v4h-3.5zM708 414.5h3.5v4h-3.5zM700.5 418.5h3.5v3.5h-3.5zM700.5 422h3.5v4h-3.5zM824.5 422h3.5v4h-3.5zM824.5 426h3.5v4h-3.5zM686.5 434h3.5v3.5h-3.5zM782 437.5h3.5v4h-3.5zM838.5 437.5h3.5v4h-3.5zM810.5 441.5h3.5v4h-3.5zM817.5 445.5h3.5v3.5h-3.5zM743 449h3.5v4h-3.5zM821 449h3.5v4h-3.5zM693.5 468.5h3.5v4h-3.5zM821 480h3.5v4h-3.5zM817.5 484h3.5v4h-3.5zM683 492h3.5v3.5h-3.5zM711.5 499.5h3.5v4h-3.5zM700.5 507h3.5v4h-3.5zM690 515h3.5v4h-3.5zM746.5 519h3.5v3.5h-3.5zM736 542h3.5v4h-3.5z"/>
<path fill="#60e800" d="M761 325.5h3.5v4h-3.5zM718.5 329.5h3.5v3.5h-3.5zM761 329.5h3.5v3.5h-3.5zM838.5 329.5h3.5v3.5h-3.5zM828 337h3.5v4h-3.5zM768 348.5h3.5v4h-3.5zM725.5 360.5h3.5v3.5h-3.5zM775 360.5h3.5v3.5h-3.5zM842 360.5h3.5v3.5h-3.5zM778.5 364h3.5v4h-3.5zM835 364h3.5v4h-3.5zM782 368h3.5v4h-3.5zM831.5 368h3.5v4h-3.5zM785.5 372h3.5v4h-3.5zM828 372h3.5v4h-3.5zM796 376h25v3.5h-25zM849 379.5h4v4h-4zM845.5 383.5h3.5v4h-3.5zM736 387.5h3.5v3.5h-3.5zM838.5 391h3.5v4h-3.5zM683 395h7v4h-7zM697 399h3.5v4h-3.5zM835 399h3.5v4h-3.5zM729 403h3.5v3.5h-3.5zM708 406.5h7v4h-7zM722 406.5h3.5v4h-3.5zM831.5 410.5h3.5v4h-3.5zM828 418.5h3.5v3.5h-3.5zM686.5 422h10.5v4h-10.5zM828 422h3.5v4h-3.5zM686.5 426h7v4h-7zM828 426h3.5v4h-3.5zM679.5 430h7v4h-7zM835 434h3.5v3.5h-3.5zM768 437.5h3.5v4h-3.5zM775 437.5h3.5v4h-3.5zM789 441.5h3.5v4h-3.5zM814 445.5h3.5v3.5h-3.5zM729 453h3.5v4h-3.5zM736 453h3.5v4h-3.5zM697 464.5h3.5v4h-3.5zM824.5 468.5h3.5v4h-3.5zM693.5 472.5h3.5v4h-3.5zM690 484h3.5v4h-3.5zM686.5 492h3.5v3.5h-3.5zM729 492h3.5v3.5h-3.5zM810.5 492h3.5v3.5h-3.5zM750 503.5h4v3.5h-4zM807 503.5h3.5v3.5h-3.5zM697 507h3.5v4h-3.5zM750 507h4v4h-4zM750 511h4v4h-4zM803 515h4v4h-4zM867 526.5h3.5v4h-3.5zM860 538h3.5v4h-3.5zM796 542h3.5v4h-3.5zM729 553.5h3.5v4h-3.5zM853 553.5h3.5v4h-3.5z"/>
<path fill="#50e800" d="M764.5 325.5h3.5v4h-3.5zM835 325.5h3.5v4h-3.5zM764.5 329.5h3.5v3.5h-3.5zM715 333h3.5v4h-3.5zM764.5 333h3.5v4h-3.5zM838.5 341h3.5v4h-3.5zM711.5 345h3.5v3.5h-3.5zM768 345h3.5v3.5h-3.5zM715 352.5h3.5v4h-3.5zM771.5 352.5h3.5v4h-3.5zM775 356.5h3.5v4h-3.5zM835 360.5h3.5v3.5h-3.5zM831.5 364h3.5v4h-3.5zM828 368h3.5v4h-3.5zM853 368h3.5v4h-3.5zM814 372h10.5v4h-10.5zM853 379.5h3.5v4h-3.5zM849 383.5h4v4h-4zM683 391h7v4h-7zM693.5 395h3.5v4h-3.5zM732.5 395h3.5v4h-3.5zM838.5 395h3.5v4h-3.5zM708 403h3.5v3.5h-3.5zM725.5 403h3.5v3.5h-3.5zM831.5 414.5h3.5v4h-3.5zM838.5 434h3.5v3.5h-3.5zM761 441.5h3.5v4h-3.5zM867 441.5h3.5v4h-3.5zM874 445.5h3.5v3.5h-3.5zM817.5 449h3.5v4h-3.5zM722 453h3.5v4h-3.5zM739.5 453h3.5v4h-3.5zM821 453h3.5v4h-3.5zM708 457h3.5v4h-3.5zM693.5 476.5h3.5v3.5h-3.5zM821 476.5h3.5v3.5h-3.5zM725.5 492h3.5v3.5h-3.5zM683 495.5h3.5v4h-3.5zM708 499.5h3.5v4h-3.5zM750 499.5h4v4h-4zM807 499.5h3.5v4h-3.5zM679.5 515h3.5v4h-3.5zM750 515h4v4h-4zM870.5 522.5h3.5v4h-3.5zM796 538h3.5v4h-3.5z"/>
<path fill="#40e800" d="M768 325.5h3.5v4h-3.5zM838.5 325.5h3.5v4h-3.5zM715 329.5h3.5v3.5h-3.5zM768 329.5h3.5v3.5h-3.5zM768 333h3.5v4h-3.5zM842 333h3.5v4h-3.5zM711.5 337h3.5v4h-3.5zM768 337h3.5v4h-3.5zM828 341h3.5v4h-3.5zM835 345h3.5v3.5h-3.5zM771.5 348.5h3.5v4h-3.5zM835 356.5h3.5v4h-3.5zM845.5 356.5h3.5v4h-3.5zM722 360.5h3.5v3.5h-3.5zM849 360.5h4v3.5h-4zM725.5 364h3.5v4h-3.5zM828 364h3.5v4h-3.5zM817.5 368h7v4h-7zM792.5 372h7v4h-7zM856.5 376h3.5v3.5h-3.5zM679.5 383.5h3.5v4h-3.5zM686.5 387.5h3.5v3.5h-3.5zM732.5 387.5h3.5v3.5h-3.5zM849 387.5h4v3.5h-4zM690 391h7v4h-7zM732.5 391h3.5v4h-3.5zM715 403h10.5v3.5h-10.5zM831.5 418.5h3.5v3.5h-3.5zM831.5 422h3.5v4h-3.5zM835 430h3.5v4h-3.5zM845.5 434h3.5v3.5h-3.5zM778.5 441.5h3.5v4h-3.5zM711.5 457h3.5v4h-3.5zM817.5 480h3.5v4h-3.5zM814 484h3.5v4h-3.5zM686.5 495.5h3.5v4h-3.5zM750 495.5h4v4h-4zM807 495.5h3.5v4h-3.5zM693.5 507h3.5v4h-3.5zM683 511h3.5v4h-3.5zM746.5 530.5h3.5v4h-3.5zM796 534.5h3.5v3.5h-3.5zM743 538h3.5v4h-3.5zM860 542h3.5v4h-3.5zM856.5 550h3.5v3.5h-3.5zM856.5 553.5h3.5v4h-3.5z"/>
<path fill="#30e808" d="M771.5 325.5h3.5v4h-3.5zM711.5 333h3.5v4h-3.5zM679.5 337h3.5v4h-3.5zM771.5 337h3.5v4h-3.5zM771.5 341h3.5v4h-3.5zM831.5 348.5h3.5v4h-3.5zM838.5 348.5h3.5v4h-3.5zM835 352.5h3.5v4h-3.5zM789 368h3.5v4h-3.5zM799.5 368h11v4h-11zM679.5 379.5h7v4h-7zM697 391h3.5v4h-3.5zM729 395h3.5v4h-3.5zM835 426h3.5v4h-3.5zM849 434h4v3.5h-4zM775 441.5h3.5v4h-3.5zM785.5 445.5h3.5v3.5h-3.5zM750 449h4v4h-4zM715 457h3.5v4h-3.5zM821 457h3.5v4h-3.5zM732.5 488h3.5v4h-3.5zM739.5 488h3.5v4h-3.5zM690 492h3.5v3.5h-3.5zM679.5 499.5h3.5v4h-3.5zM754 503.5h3.5v3.5h-3.5zM690 507h3.5v4h-3.5zM754 507h3.5v4h-3.5zM732.5 553.5h3.5v4h-3.5z"/>
<path fill="#18e008" d="M782 325.5h10.5v4h-10.5zM824.5 325.5h3.5v4h-3.5zM845.5 325.5h3.5v4h-3.5zM686.5 329.5h3.5v3.5h-3.5zM782 329.5h10.5v3.5h-10.5zM845.5 329.5h3.5v3.5h-3.5zM686.5 333h3.5v4h-3.5zM708 333h3.5v4h-3.5zM782 333h3.5v4h-3.5zM845.5 333h3.5v4h-3.5zM686.5 337h3.5v4h-3.5zM778.5 337h3.5v4h-3.5zM686.5 341h3.5v4h-3.5zM778.5 341h3.5v4h-3.5zM778.5 345h3.5v3.5h-3.5zM824.5 345h3.5v3.5h-3.5zM686.5 348.5h3.5v4h-3.5zM778.5 348.5h3.5v4h-3.5zM824.5 348.5h3.5v4h-3.5zM845.5 348.5h3.5v4h-3.5zM824.5 352.5h3.5v4h-3.5zM849 352.5h4v4h-4zM711.5 356.5h3.5v4h-3.5zM782 356.5h3.5v4h-3.5zM853 356.5h3.5v4h-3.5zM686.5 360.5h7v3.5h-7zM785.5 360.5h3.5v3.5h-3.5zM856.5 360.5h3.5v3.5h-3.5zM686.5 364h7v4h-7zM722 364h3.5v4h-3.5zM792.5 364h18v4h-18zM860 364h3.5v4h-3.5zM690 368h3.5v4h-3.5zM863.5 372h3.5v4h-3.5zM729 379.5h3.5v4h-3.5zM693.5 383.5h3.5v4h-3.5zM729 383.5h3.5v4h-3.5zM722 395h3.5v4h-3.5zM838.5 410.5h3.5v4h-3.5zM838.5 426h3.5v4h-3.5zM863.5 437.5h3.5v4h-3.5zM761 445.5h3.5v3.5h-3.5zM778.5 445.5h3.5v3.5h-3.5zM785.5 449h7v4h-7zM697 472.5h3.5v4h-3.5zM729 488h3.5v4h-3.5zM750 488h4v4h-4zM754 492h3.5v3.5h-3.5zM708 495.5h3.5v4h-3.5zM803 495.5h4v4h-4zM690 499.5h3.5v4h-3.5zM754 519h3.5v3.5h-3.5zM796 522.5h3.5v4h-3.5zM750 530.5h4v4h-4zM792.5 534.5h3.5v3.5h-3.5zM746.5 538h3.5v4h-3.5zM736 550h3.5v3.5h-3.5z"/>
<path fill="#08e010" d="M792.5 325.5h3.5v4h-3.5zM821 325.5h3.5v4h-3.5zM690 329.5h3.5v3.5h-3.5zM704 329.5h4v3.5h-4zM792.5 329.5h3.5v3.5h-3.5zM821 329.5h3.5v3.5h-3.5zM690 333h3.5v4h-3.5zM700.5 333h7.5v4h-7.5zM789 333h7v4h-7zM821 333h3.5v4h-3.5zM690 337h3.5v4h-3.5zM785.5 337h3.5v4h-3.5zM821 337h3.5v4h-3.5zM690 341h7v4h-7zM700.5 341h3.5v4h-3.5zM782 341h3.5v4h-3.5zM690 345h3.5v3.5h-3.5zM782 345h3.5v3.5h-3.5zM690 348.5h3.5v4h-3.5zM700.5 348.5h3.5v4h-3.5zM782 348.5h3.5v4h-3.5zM821 348.5h3.5v4h-3.5zM782 352.5h3.5v4h-3.5zM821 352.5h3.5v4h-3.5zM693.5 356.5h3.5v4h-3.5zM704 356.5h4v4h-4zM785.5 356.5h3.5v4h-3.5zM817.5 356.5h3.5v4h-3.5zM856.5 356.5h3.5v4h-3.5zM693.5 360.5h3.5v3.5h-3.5zM715 360.5h3.5v3.5h-3.5zM792.5 360.5h3.5v3.5h-3.5zM860 360.5h3.5v3.5h-3.5zM697 364h3.5v4h-3.5zM863.5 364h3.5v4h-3.5zM697 368h3.5v4h-3.5zM867 368h3.5v4h-3.5zM697 372h3.5v4h-3.5zM725.5 372h3.5v4h-3.5zM867 372h3.5v4h-3.5zM697 376h3.5v3.5h-3.5zM867 376h3.5v3.5h-3.5zM697 379.5h3.5v4h-3.5zM715 395h3.5v4h-3.5zM849 395h4v4h-4zM845.5 399h3.5v4h-3.5zM842 406.5h3.5v4h-3.5zM838.5 414.5h3.5v4h-3.5zM838.5 418.5h3.5v3.5h-3.5zM838.5 422h3.5v4h-3.5zM845.5 430h3.5v4h-3.5zM856.5 434h3.5v3.5h-3.5zM874 441.5h3.5v4h-3.5zM764.5 445.5h3.5v3.5h-3.5zM750 453h4v4h-4zM711.5 461h3.5v3.5h-3.5zM704 464.5h4v4h-4zM814 480h3.5v4h-3.5zM739.5 484h10.5v4h-10.5zM693.5 492h3.5v3.5h-3.5zM715 492h3.5v3.5h-3.5zM803 492h4v3.5h-4zM693.5 495.5h3.5v4h-3.5zM704 495.5h4v4h-4zM757.5 495.5h3.5v4h-3.5zM799.5 503.5h3.5v3.5h-3.5zM757.5 511h3.5v4h-3.5zM796 515h3.5v4h-3.5zM792.5 530.5h3.5v4h-3.5zM750 534.5h4v3.5h-4zM789 546h3.5v4h-3.5zM736 553.5h3.5v4h-3.5z"/>
<path fill="#00d818" d="M803 325.5h14.5v4h-14.5zM853 325.5h3.5v4h-3.5zM803 329.5h14.5v3.5h-14.5zM853 329.5h3.5v3.5h-3.5zM799.5 333h18v4h-18zM853 333h3.5v4h-3.5zM792.5 337h7v4h-7zM814 337h7v4h-7zM849 337h4v4h-4zM789 341h7v4h-7zM817.5 341h3.5v4h-3.5zM849 341h4v4h-4zM789 345h3.5v3.5h-3.5zM817.5 345h3.5v3.5h-3.5zM849 345h4v3.5h-4zM789 348.5h3.5v4h-3.5zM814 348.5h3.5v4h-3.5zM853 348.5h3.5v4h-3.5zM789 352.5h3.5v4h-3.5zM810.5 352.5h7v4h-7zM856.5 352.5h3.5v4h-3.5zM792.5 356.5h3.5v4h-3.5zM803 356.5h7.5v4h-7.5zM860 356.5h3.5v4h-3.5zM863.5 360.5h3.5v3.5h-3.5zM704 364h4v4h-4zM715 364h3.5v4h-3.5zM870.5 364h7v4h-7zM704 368h4v4h-4zM874 368h3.5v4h-3.5zM874 372h3.5v4h-3.5zM874 376h3.5v3.5h-3.5zM870.5 379.5h3.5v4h-3.5zM704 383.5h4v4h-4zM867 383.5h3.5v4h-3.5zM708 387.5h3.5v3.5h-3.5zM863.5 387.5h3.5v3.5h-3.5zM711.5 391h10.5v4h-10.5zM860 391h3.5v4h-3.5zM856.5 395h3.5v4h-3.5zM849 399h4v4h-4zM845.5 406.5h3.5v4h-3.5zM842 410.5h3.5v4h-3.5zM842 414.5h3.5v4h-3.5zM842 422h3.5v4h-3.5zM845.5 426h3.5v4h-3.5zM849 430h4v4h-4zM860 434h3.5v3.5h-3.5zM775 449h3.5v4h-3.5zM799.5 449h11v4h-11zM754 453h3.5v4h-3.5zM778.5 453h3.5v4h-3.5zM814 453h3.5v4h-3.5zM750 457h4v4h-4zM778.5 457h10.5v4h-10.5zM817.5 457h3.5v4h-3.5zM718.5 461h24.5v3.5h-24.5zM782 461h3.5v3.5h-3.5zM708 464.5h3.5v4h-3.5zM697 480h3.5v4h-3.5zM746.5 480h3.5v4h-3.5zM754 480h7v4h-7zM697 484h3.5v4h-3.5zM732.5 484h3.5v4h-3.5zM757.5 484h3.5v4h-3.5zM722 488h3.5v4h-3.5zM803 488h4v4h-4zM711.5 492h3.5v3.5h-3.5zM761 492h3.5v3.5h-3.5zM799.5 492h3.5v3.5h-3.5zM697 495.5h3.5v4h-3.5zM761 495.5h3.5v4h-3.5zM761 499.5h3.5v4h-3.5zM796 499.5h3.5v4h-3.5zM761 503.5h3.5v3.5h-3.5zM796 503.5h3.5v3.5h-3.5zM761 507h3.5v4h-3.5zM796 507h3.5v4h-3.5zM761 511h3.5v4h-3.5zM757.5 519h3.5v3.5h-3.5zM757.5 522.5h3.5v4h-3.5zM792.5 522.5h3.5v4h-3.5zM757.5 526.5h3.5v4h-3.5zM792.5 526.5h3.5v4h-3.5zM754 530.5h3.5v4h-3.5zM870.5 530.5h3.5v4h-3.5zM789 534.5h3.5v3.5h-3.5zM750 538h4v4h-4zM743 546h3.5v4h-3.5zM785.5 546h3.5v4h-3.5zM739.5 550h3.5v3.5h-3.5zM785.5 550h3.5v3.5h-3.5zM782 553.5h3.5v4h-3.5zM863.5 553.5h3.5v4h-3.5z"/>
<path fill="#30e008" d="M842 325.5h3.5v4h-3.5zM775 329.5h3.5v3.5h-3.5zM775 348.5h3.5v4h-3.5zM831.5 352.5h3.5v4h-3.5zM715 356.5h3.5v4h-3.5zM778.5 356.5h3.5v4h-3.5zM849 356.5h4v4h-4zM824.5 360.5h3.5v3.5h-3.5zM853 360.5h3.5v3.5h-3.5zM785.5 364h3.5v4h-3.5zM821 364h3.5v4h-3.5zM796 368h3.5v4h-3.5zM729 372h3.5v4h-3.5zM686.5 379.5h3.5v4h-3.5zM711.5 399h3.5v4h-3.5zM722 399h3.5v4h-3.5zM835 414.5h3.5v4h-3.5zM838.5 430h3.5v4h-3.5zM821 472.5h3.5v4h-3.5zM743 488h3.5v4h-3.5zM750 492h4v3.5h-4zM683 499.5h3.5v4h-3.5zM803 503.5h4v3.5h-4zM796 530.5h3.5v4h-3.5zM867 530.5h3.5v4h-3.5zM746.5 534.5h3.5v3.5h-3.5zM792.5 542h3.5v4h-3.5z"/>
<path fill="#00d020" d="M856.5 325.5h3.5v4h-3.5zM856.5 329.5h3.5v3.5h-3.5zM799.5 341h14.5v4h-14.5zM853 341h3.5v4h-3.5zM792.5 345h7v3.5h-7zM810.5 345h3.5v3.5h-3.5zM792.5 348.5h3.5v4h-3.5zM807 348.5h3.5v4h-3.5zM856.5 348.5h3.5v4h-3.5zM796 352.5h11v4h-11zM860 352.5h3.5v4h-3.5zM863.5 356.5h3.5v4h-3.5zM874 360.5h3.5v3.5h-3.5zM708 368h3.5v4h-3.5zM718.5 368h3.5v4h-3.5zM722 379.5h3.5v4h-3.5zM708 383.5h3.5v4h-3.5zM722 383.5h3.5v4h-3.5zM711.5 387.5h10.5v3.5h-10.5zM867 387.5h3.5v3.5h-3.5zM764.5 449h7v4h-7zM775 453h3.5v4h-3.5zM746.5 461h3.5v3.5h-3.5zM711.5 464.5h3.5v4h-3.5zM778.5 464.5h3.5v4h-3.5zM785.5 464.5h3.5v4h-3.5zM782 468.5h7v4h-7zM700.5 472.5h3.5v4h-3.5zM757.5 476.5h3.5v3.5h-3.5zM739.5 480h3.5v4h-3.5zM729 484h3.5v4h-3.5zM718.5 488h3.5v4h-3.5zM799.5 488h3.5v4h-3.5zM700.5 492h3.5v3.5h-3.5zM708 492h3.5v3.5h-3.5zM764.5 492h3.5v3.5h-3.5zM796 492h3.5v3.5h-3.5zM764.5 499.5h3.5v4h-3.5zM764.5 503.5h3.5v3.5h-3.5zM764.5 507h3.5v4h-3.5zM764.5 511h3.5v4h-3.5zM792.5 511h3.5v4h-3.5zM761 519h3.5v3.5h-3.5zM761 522.5h3.5v4h-3.5zM761 526.5h3.5v4h-3.5zM874 526.5h3.5v4h-3.5zM757.5 530.5h3.5v4h-3.5zM789 530.5h3.5v4h-3.5zM785.5 538h3.5v4h-3.5zM750 542h4v4h-4zM782 546h3.5v4h-3.5zM863.5 546h3.5v4h-3.5z"/>
<path fill="#00d030" d="M860 325.5h3.5v4h-3.5zM860 329.5h3.5v3.5h-3.5zM870.5 329.5h3.5v3.5h-3.5zM870.5 333h3.5v4h-3.5zM874 337h3.5v4h-3.5zM860 348.5h3.5v4h-3.5zM870.5 348.5h7v4h-7zM870.5 352.5h7v4h-7zM718.5 372h3.5v4h-3.5zM718.5 379.5h3.5v4h-3.5zM715 383.5h3.5v4h-3.5zM870.5 387.5h3.5v3.5h-3.5zM867 391h3.5v4h-3.5zM849 410.5h4v4h-4zM863.5 434h3.5v3.5h-3.5zM796 453h3.5v4h-3.5zM757.5 457h3.5v4h-3.5zM771.5 457h3.5v4h-3.5zM757.5 461h3.5v3.5h-3.5zM771.5 461h3.5v3.5h-3.5zM722 464.5h14v4h-14zM750 464.5h11v4h-11zM771.5 464.5h3.5v4h-3.5zM789 464.5h3.5v4h-3.5zM750 468.5h4v4h-4zM757.5 468.5h17.5v4h-17.5zM817.5 468.5h3.5v4h-3.5zM746.5 472.5h7.5v4h-7.5zM768 472.5h10.5v4h-10.5zM768 476.5h10.5v3.5h-10.5zM814 476.5h3.5v3.5h-3.5zM732.5 480h3.5v4h-3.5zM768 480h3.5v4h-3.5zM782 480h3.5v4h-3.5zM789 480h3.5v4h-3.5zM725.5 484h3.5v4h-3.5zM768 484h3.5v4h-3.5zM775 484h3.5v4h-3.5zM782 484h10.5v4h-10.5zM700.5 488h3.5v4h-3.5zM715 488h3.5v4h-3.5zM771.5 488h7v4h-7zM785.5 488h3.5v4h-3.5zM775 492h3.5v3.5h-3.5zM785.5 492h3.5v3.5h-3.5zM771.5 495.5h7v4h-7zM789 495.5h3.5v4h-3.5zM771.5 499.5h7v4h-7zM789 499.5h3.5v4h-3.5zM771.5 503.5h7v3.5h-7zM789 503.5h3.5v3.5h-3.5zM771.5 507h3.5v4h-3.5zM789 507h3.5v4h-3.5zM789 511h3.5v4h-3.5zM771.5 515h3.5v4h-3.5zM789 515h3.5v4h-3.5zM771.5 519h3.5v3.5h-3.5zM789 519h3.5v3.5h-3.5zM771.5 522.5h3.5v4h-3.5zM789 522.5h3.5v4h-3.5zM768 526.5h7v4h-7zM764.5 530.5h10.5v4h-10.5zM764.5 534.5h14v3.5h-14zM757.5 538h3.5v4h-3.5zM768 538h14v4h-14zM754 542h3.5v4h-3.5zM771.5 542h7v4h-7zM771.5 546h7v4h-7zM771.5 550h3.5v3.5h-3.5zM771.5 553.5h3.5v4h-3.5z"/>
<path fill="#00c830" d="M863.5 325.5h7v4h-7zM863.5 329.5h7v3.5h-7zM860 333h10.5v4h-10.5zM860 337h3.5v4h-3.5zM867 337h7v4h-7zM867 341h10.5v4h-10.5zM860 345h3.5v3.5h-3.5zM870.5 345h7v3.5h-7zM863.5 348.5h7v4h-7zM867 352.5h3.5v4h-3.5zM711.5 372h7v4h-7zM711.5 376h3.5v3.5h-3.5zM718.5 376h3.5v3.5h-3.5zM711.5 379.5h3.5v4h-3.5zM863.5 395h3.5v4h-3.5zM860 399h3.5v4h-3.5zM856.5 403h3.5v3.5h-3.5zM853 406.5h3.5v4h-3.5zM849 422h4v4h-4zM761 457h3.5v4h-3.5zM792.5 457h3.5v4h-3.5zM761 461h10.5v3.5h-10.5zM761 464.5h10.5v4h-10.5zM817.5 464.5h3.5v4h-3.5zM708 468.5h3.5v4h-3.5zM743 468.5h7v4h-7zM789 468.5h3.5v4h-3.5zM743 472.5h3.5v4h-3.5zM789 472.5h3.5v4h-3.5zM700.5 476.5h3.5v3.5h-3.5zM739.5 476.5h3.5v3.5h-3.5zM789 476.5h3.5v3.5h-3.5zM771.5 480h10.5v4h-10.5zM771.5 484h3.5v4h-3.5zM778.5 484h3.5v4h-3.5zM792.5 484h10.5v4h-10.5zM778.5 488h7v4h-7zM778.5 492h7v3.5h-7zM778.5 495.5h10.5v4h-10.5zM778.5 499.5h3.5v4h-3.5zM785.5 499.5h3.5v4h-3.5zM778.5 503.5h3.5v3.5h-3.5zM785.5 503.5h3.5v3.5h-3.5zM775 507h3.5v4h-3.5zM785.5 507h3.5v4h-3.5zM771.5 511h3.5v4h-3.5zM775 522.5h3.5v4h-3.5zM775 526.5h3.5v4h-3.5zM775 530.5h3.5v4h-3.5zM785.5 530.5h3.5v4h-3.5zM778.5 534.5h7v3.5h-7zM761 538h7v4h-7zM757.5 542h3.5v4h-3.5zM768 542h3.5v4h-3.5zM750 546h4v4h-4zM768 546h3.5v4h-3.5zM743 553.5h3.5v4h-3.5z"/>
<path fill="#00d028" d="M870.5 325.5h7v4h-7zM874 329.5h3.5v3.5h-3.5zM856.5 333h3.5v4h-3.5zM874 333h3.5v4h-3.5zM856.5 337h3.5v4h-3.5zM856.5 341h3.5v4h-3.5zM799.5 345h11v3.5h-11zM856.5 345h3.5v3.5h-3.5zM796 348.5h11v4h-11zM863.5 352.5h3.5v4h-3.5zM867 356.5h10.5v4h-10.5zM711.5 368h7v4h-7zM708 372h3.5v4h-3.5zM708 376h3.5v3.5h-3.5zM722 376h3.5v3.5h-3.5zM708 379.5h3.5v4h-3.5zM711.5 383.5h3.5v4h-3.5zM718.5 383.5h3.5v4h-3.5zM874 383.5h3.5v4h-3.5zM863.5 391h3.5v4h-3.5zM860 395h3.5v4h-3.5zM856.5 399h3.5v4h-3.5zM853 403h3.5v3.5h-3.5zM849 406.5h4v4h-4zM845.5 410.5h3.5v4h-3.5zM845.5 414.5h3.5v4h-3.5zM845.5 418.5h3.5v3.5h-3.5zM845.5 422h3.5v4h-3.5zM849 426h4v4h-4zM856.5 430h3.5v4h-3.5zM870.5 437.5h3.5v4h-3.5zM757.5 453h17.5v4h-17.5zM754 457h3.5v4h-3.5zM775 457h3.5v4h-3.5zM750 461h7.5v3.5h-7.5zM775 461h3.5v3.5h-3.5zM789 461h3.5v3.5h-3.5zM817.5 461h3.5v3.5h-3.5zM715 464.5h7v4h-7zM736 464.5h14v4h-14zM775 464.5h3.5v4h-3.5zM704 468.5h4v4h-4zM754 468.5h3.5v4h-3.5zM775 468.5h7v4h-7zM754 472.5h14v4h-14zM778.5 472.5h10.5v4h-10.5zM743 476.5h14.5v3.5h-14.5zM761 476.5h7v3.5h-7zM778.5 476.5h10.5v3.5h-10.5zM736 480h3.5v4h-3.5zM764.5 480h3.5v4h-3.5zM785.5 480h3.5v4h-3.5zM810.5 480h3.5v4h-3.5zM764.5 484h3.5v4h-3.5zM803 484h4v4h-4zM764.5 488h7v4h-7zM789 488h10.5v4h-10.5zM704 492h4v3.5h-4zM768 492h7v3.5h-7zM789 492h7v3.5h-7zM764.5 495.5h7v4h-7zM792.5 495.5h3.5v4h-3.5zM768 499.5h3.5v4h-3.5zM792.5 499.5h3.5v4h-3.5zM768 503.5h3.5v3.5h-3.5zM792.5 503.5h3.5v3.5h-3.5zM768 507h3.5v4h-3.5zM792.5 507h3.5v4h-3.5zM768 511h3.5v4h-3.5zM764.5 515h7v4h-7zM764.5 519h7v3.5h-7zM764.5 522.5h7v4h-7zM764.5 526.5h3.5v4h-3.5zM789 526.5h3.5v4h-3.5zM761 530.5h3.5v4h-3.5zM757.5 534.5h7v3.5h-7zM785.5 534.5h3.5v3.5h-3.5zM754 538h3.5v4h-3.5zM782 538h3.5v4h-3.5zM867 538h3.5v4h-3.5zM778.5 542h7v4h-7zM746.5 546h3.5v4h-3.5zM778.5 546h3.5v4h-3.5zM743 550h3.5v3.5h-3.5zM775 550h7v3.5h-7zM775 553.5h7v4h-7z"/>
<path fill="#a0f000" d="M725.5 329.5h3.5v3.5h-3.5zM750 333h4v4h-4zM831.5 333h3.5v4h-3.5zM722 337h3.5v4h-3.5zM754 337h3.5v4h-3.5zM835 337h3.5v4h-3.5zM722 341h3.5v4h-3.5zM757.5 345h3.5v3.5h-3.5zM722 348.5h3.5v4h-3.5zM761 348.5h3.5v4h-3.5zM725.5 352.5h3.5v4h-3.5zM729 356.5h3.5v4h-3.5zM764.5 356.5h3.5v4h-3.5zM732.5 360.5h3.5v3.5h-3.5zM739.5 372h3.5v4h-3.5zM775 372h3.5v4h-3.5zM778.5 376h3.5v3.5h-3.5zM743 383.5h3.5v4h-3.5zM785.5 383.5h3.5v4h-3.5zM743 387.5h3.5v3.5h-3.5zM792.5 387.5h3.5v3.5h-3.5zM821 387.5h3.5v3.5h-3.5zM743 391h3.5v4h-3.5zM796 391h3.5v4h-3.5zM814 391h7v4h-7zM799.5 395h14.5v4h-14.5zM799.5 399h14.5v4h-14.5zM824.5 399h3.5v4h-3.5zM739.5 403h3.5v3.5h-3.5zM803 403h4v3.5h-4zM824.5 403h3.5v3.5h-3.5zM736 406.5h3.5v4h-3.5zM824.5 406.5h3.5v4h-3.5zM821 410.5h3.5v4h-3.5zM725.5 414.5h3.5v4h-3.5zM715 418.5h7v3.5h-7zM711.5 422h3.5v4h-3.5zM817.5 422h3.5v4h-3.5zM711.5 426h3.5v4h-3.5zM817.5 426h3.5v4h-3.5zM817.5 430h3.5v4h-3.5zM697 434h3.5v3.5h-3.5zM764.5 434h3.5v3.5h-3.5zM785.5 434h3.5v3.5h-3.5zM817.5 434h3.5v3.5h-3.5zM690 437.5h3.5v4h-3.5zM814 437.5h7v4h-7zM686.5 441.5h3.5v4h-3.5zM824.5 441.5h14v4h-14zM718.5 445.5h3.5v3.5h-3.5zM824.5 445.5h3.5v3.5h-3.5zM732.5 449h7v4h-7zM828 449h3.5v4h-3.5zM870.5 449h3.5v4h-3.5zM828 453h3.5v4h-3.5zM874 453h3.5v4h-3.5zM697 457h3.5v4h-3.5zM828 457h3.5v4h-3.5zM828 472.5h3.5v4h-3.5zM686.5 484h3.5v4h-3.5zM821 484h3.5v4h-3.5zM683 488h3.5v4h-3.5zM814 495.5h3.5v4h-3.5zM874 495.5h3.5v4h-3.5zM743 499.5h3.5v4h-3.5zM810.5 507h3.5v4h-3.5zM700.5 511h3.5v4h-3.5zM867 519h3.5v3.5h-3.5zM686.5 522.5h3.5v4h-3.5zM743 522.5h3.5v4h-3.5zM679.5 526.5h3.5v4h-3.5zM863.5 526.5h3.5v4h-3.5zM739.5 530.5h3.5v4h-3.5zM803 534.5h4v3.5h-4zM849 546h4v4h-4zM842 553.5h3.5v4h-3.5z"/>
<path fill="#38e800" d="M771.5 329.5h3.5v3.5h-3.5zM842 329.5h3.5v3.5h-3.5zM842 337h3.5v4h-3.5zM771.5 345h3.5v3.5h-3.5zM831.5 345h3.5v3.5h-3.5zM838.5 345h3.5v3.5h-3.5zM711.5 352.5h3.5v4h-3.5zM775 352.5h3.5v4h-3.5zM838.5 352.5h7v4h-7zM828 360.5h3.5v3.5h-3.5zM824.5 364h3.5v4h-3.5zM810.5 368h7v4h-7zM856.5 368h3.5v4h-3.5zM856.5 372h3.5v4h-3.5zM732.5 379.5h3.5v4h-3.5zM856.5 379.5h3.5v4h-3.5zM683 383.5h3.5v4h-3.5zM732.5 383.5h3.5v4h-3.5zM853 383.5h3.5v4h-3.5zM700.5 395h3.5v4h-3.5zM842 395h3.5v4h-3.5zM708 399h3.5v4h-3.5zM725.5 399h3.5v4h-3.5zM835 410.5h3.5v4h-3.5zM860 437.5h3.5v4h-3.5zM764.5 441.5h3.5v4h-3.5zM789 445.5h21.5v3.5h-21.5zM743 453h3.5v4h-3.5zM704 461h4v3.5h-4zM693.5 480h3.5v4h-3.5zM736 488h3.5v4h-3.5zM810.5 488h3.5v4h-3.5zM722 492h3.5v3.5h-3.5zM704 499.5h4v4h-4zM803 507h4v4h-4zM679.5 511h3.5v4h-3.5zM799.5 519h3.5v3.5h-3.5zM874 519h3.5v3.5h-3.5zM750 522.5h4v4h-4zM792.5 550h3.5v3.5h-3.5zM792.5 553.5h3.5v4h-3.5z"/>
<path fill="#70f000" d="M831.5 329.5h3.5v3.5h-3.5zM718.5 333h3.5v4h-3.5zM838.5 337h3.5v4h-3.5zM835 341h3.5v4h-3.5zM715 345h3.5v3.5h-3.5zM764.5 345h3.5v3.5h-3.5zM718.5 352.5h3.5v4h-3.5zM768 352.5h3.5v4h-3.5zM842 364h3.5v4h-3.5zM831.5 372h3.5v4h-3.5zM849 372h4v4h-4zM736 376h3.5v3.5h-3.5zM828 376h3.5v3.5h-3.5zM849 376h4v3.5h-4zM799.5 379.5h11v4h-11zM845.5 379.5h3.5v4h-3.5zM838.5 387.5h3.5v3.5h-3.5zM736 395h3.5v4h-3.5zM835 395h3.5v4h-3.5zM679.5 399h14v4h-14zM831.5 406.5h3.5v4h-3.5zM708 410.5h10.5v4h-10.5zM679.5 414.5h3.5v4h-3.5zM828 414.5h3.5v4h-3.5zM693.5 418.5h7v3.5h-7zM697 422h3.5v4h-3.5zM697 426h3.5v4h-3.5zM690 430h3.5v4h-3.5zM828 430h3.5v4h-3.5zM831.5 434h3.5v3.5h-3.5zM764.5 437.5h3.5v4h-3.5zM842 437.5h7v4h-7zM757.5 441.5h3.5v4h-3.5zM796 441.5h14.5v4h-14.5zM863.5 441.5h3.5v4h-3.5zM750 445.5h4v3.5h-4zM870.5 445.5h3.5v3.5h-3.5zM711.5 453h3.5v4h-3.5zM824.5 457h3.5v4h-3.5zM824.5 472.5h3.5v4h-3.5zM814 488h3.5v4h-3.5zM732.5 492h7v3.5h-7zM718.5 495.5h3.5v4h-3.5zM810.5 495.5h3.5v4h-3.5zM807 507h3.5v4h-3.5zM874 511h3.5v4h-3.5zM679.5 519h7v3.5h-7zM803 519h4v3.5h-4zM870.5 519h3.5v3.5h-3.5zM743 530.5h3.5v4h-3.5zM863.5 530.5h3.5v4h-3.5zM799.5 534.5h3.5v3.5h-3.5zM732.5 546h3.5v4h-3.5zM729 550h3.5v3.5h-3.5z"/>
<path fill="#90f000" d="M722 333h3.5v4h-3.5zM757.5 337h3.5v4h-3.5zM718.5 345h3.5v3.5h-3.5zM761 345h3.5v3.5h-3.5zM722 352.5h3.5v4h-3.5zM764.5 352.5h3.5v4h-3.5zM732.5 364h3.5v4h-3.5zM775 368h3.5v4h-3.5zM778.5 372h3.5v4h-3.5zM792.5 383.5h10.5v4h-10.5zM817.5 383.5h14v4h-14zM803 387.5h11v3.5h-11zM831.5 387.5h3.5v3.5h-3.5zM831.5 391h3.5v4h-3.5zM739.5 395h3.5v4h-3.5zM732.5 406.5h3.5v4h-3.5zM828 406.5h3.5v4h-3.5zM824.5 410.5h3.5v4h-3.5zM718.5 414.5h3.5v4h-3.5zM711.5 418.5h3.5v3.5h-3.5zM708 422h3.5v4h-3.5zM821 422h3.5v4h-3.5zM704 426h4v4h-4zM821 426h3.5v4h-3.5zM700.5 430h3.5v4h-3.5zM768 434h3.5v3.5h-3.5zM775 434h7v3.5h-7zM686.5 437.5h3.5v4h-3.5zM792.5 437.5h3.5v4h-3.5zM828 437.5h3.5v4h-3.5zM679.5 441.5h7v4h-7zM754 441.5h3.5v4h-3.5zM817.5 441.5h3.5v4h-3.5zM856.5 441.5h3.5v4h-3.5zM821 445.5h3.5v3.5h-3.5zM715 449h3.5v4h-3.5zM725.5 449h3.5v4h-3.5zM739.5 449h3.5v4h-3.5zM824.5 449h3.5v4h-3.5zM828 464.5h3.5v4h-3.5zM824.5 476.5h3.5v3.5h-3.5zM814 492h3.5v3.5h-3.5zM722 495.5h3.5v4h-3.5zM746.5 503.5h3.5v3.5h-3.5zM810.5 503.5h3.5v3.5h-3.5zM874 503.5h3.5v3.5h-3.5zM693.5 515h3.5v4h-3.5zM807 515h3.5v4h-3.5zM870.5 515h3.5v4h-3.5zM679.5 522.5h7v4h-7zM867 522.5h3.5v4h-3.5zM803 526.5h4v4h-4zM860 534.5h3.5v3.5h-3.5zM799.5 542h3.5v4h-3.5zM845.5 553.5h3.5v4h-3.5z"/>
<path fill="#a8f000" d="M725.5 333h3.5v4h-3.5zM835 333h3.5v4h-3.5zM722 345h3.5v3.5h-3.5zM761 352.5h3.5v4h-3.5zM736 364h3.5v4h-3.5zM768 364h3.5v4h-3.5zM739.5 368h3.5v4h-3.5zM771.5 368h3.5v4h-3.5zM743 379.5h3.5v4h-3.5zM782 379.5h3.5v4h-3.5zM789 387.5h3.5v3.5h-3.5zM792.5 391h3.5v4h-3.5zM821 391h7v4h-7zM743 395h3.5v4h-3.5zM796 395h3.5v4h-3.5zM814 395h14v4h-14zM743 399h3.5v4h-3.5zM796 399h3.5v4h-3.5zM814 399h10.5v4h-10.5zM799.5 403h3.5v3.5h-3.5zM807 403h17.5v3.5h-17.5zM739.5 406.5h3.5v4h-3.5zM803 406.5h21.5v4h-21.5zM732.5 410.5h3.5v4h-3.5zM817.5 410.5h3.5v4h-3.5zM817.5 414.5h3.5v4h-3.5zM817.5 418.5h3.5v3.5h-3.5zM715 422h3.5v4h-3.5zM708 430h3.5v4h-3.5zM771.5 430h7v4h-7zM814 430h3.5v4h-3.5zM700.5 434h3.5v3.5h-3.5zM789 434h7v3.5h-7zM810.5 434h7v3.5h-7zM757.5 437.5h3.5v4h-3.5zM679.5 445.5h7v3.5h-7zM715 445.5h3.5v3.5h-3.5zM722 445.5h3.5v3.5h-3.5zM828 445.5h3.5v3.5h-3.5zM863.5 445.5h3.5v3.5h-3.5zM708 449h3.5v4h-3.5zM700.5 453h3.5v4h-3.5zM693.5 461h3.5v3.5h-3.5zM690 472.5h3.5v4h-3.5zM824.5 480h3.5v4h-3.5zM679.5 488h3.5v4h-3.5zM729 495.5h10.5v4h-10.5zM711.5 503.5h3.5v3.5h-3.5zM870.5 507h3.5v4h-3.5zM697 515h3.5v4h-3.5zM743 519h3.5v3.5h-3.5zM807 522.5h3.5v4h-3.5zM683 526.5h3.5v4h-3.5zM679.5 530.5h3.5v4h-3.5zM736 534.5h3.5v3.5h-3.5zM853 542h3.5v4h-3.5zM842 550h3.5v3.5h-3.5zM722 553.5h3.5v4h-3.5zM838.5 553.5h3.5v4h-3.5z"/>
<path fill="#d0f800" d="M736 333h3.5v4h-3.5zM732.5 337h10.5v4h-10.5zM732.5 341h3.5v4h-3.5zM743 341h3.5v4h-3.5zM746.5 345h3.5v3.5h-3.5zM732.5 348.5h3.5v4h-3.5zM750 348.5h4v4h-4zM739.5 356.5h3.5v4h-3.5zM754 356.5h3.5v4h-3.5zM743 360.5h3.5v3.5h-3.5zM757.5 360.5h3.5v3.5h-3.5zM757.5 364h3.5v4h-3.5zM746.5 368h3.5v4h-3.5zM761 368h3.5v4h-3.5zM764.5 372h3.5v4h-3.5zM768 379.5h3.5v4h-3.5zM750 387.5h4v3.5h-4zM768 387.5h3.5v3.5h-3.5zM771.5 391h3.5v4h-3.5zM754 395h3.5v4h-3.5zM768 395h7v4h-7zM754 399h3.5v4h-3.5zM761 399h10.5v4h-10.5zM754 403h21v3.5h-21zM754 406.5h3.5v4h-3.5zM761 406.5h17.5v4h-17.5zM746.5 410.5h7.5v4h-7.5zM775 410.5h14v4h-14zM739.5 414.5h3.5v4h-3.5zM782 414.5h14v4h-14zM732.5 418.5h3.5v3.5h-3.5zM785.5 418.5h7v3.5h-7zM796 418.5h7v3.5h-7zM771.5 422h10.5v4h-10.5zM799.5 422h3.5v4h-3.5zM722 426h3.5v4h-3.5zM764.5 426h3.5v4h-3.5zM785.5 426h17.5v4h-17.5zM718.5 434h3.5v3.5h-3.5zM700.5 441.5h3.5v4h-3.5zM693.5 445.5h10.5v3.5h-10.5zM732.5 445.5h3.5v3.5h-3.5zM739.5 445.5h3.5v3.5h-3.5zM690 449h3.5v4h-3.5zM845.5 449h3.5v4h-3.5zM863.5 449h3.5v4h-3.5zM686.5 453h7v4h-7zM838.5 453h3.5v4h-3.5zM690 457h3.5v4h-3.5zM870.5 457h3.5v4h-3.5zM835 461h3.5v3.5h-3.5zM835 464.5h3.5v4h-3.5zM835 468.5h3.5v4h-3.5zM686.5 476.5h3.5v3.5h-3.5zM831.5 476.5h3.5v3.5h-3.5zM870.5 488h3.5v4h-3.5zM725.5 499.5h3.5v4h-3.5zM736 499.5h3.5v4h-3.5zM867 503.5h3.5v3.5h-3.5zM711.5 507h3.5v4h-3.5zM708 511h3.5v4h-3.5zM704 515h4v4h-4zM700.5 519h3.5v3.5h-3.5zM739.5 519h3.5v3.5h-3.5zM736 526.5h3.5v4h-3.5zM860 526.5h3.5v4h-3.5zM690 530.5h3.5v4h-3.5zM807 538h3.5v4h-3.5zM725.5 542h3.5v4h-3.5zM807 542h3.5v4h-3.5zM686.5 546h3.5v4h-3.5zM807 546h3.5v4h-3.5zM838.5 546h3.5v4h-3.5zM807 550h3.5v3.5h-3.5zM828 550h3.5v3.5h-3.5zM715 553.5h3.5v4h-3.5zM807 553.5h3.5v4h-3.5zM824.5 553.5h3.5v4h-3.5z"/>
<path fill="#b0f800" d="M746.5 333h3.5v4h-3.5zM725.5 337h3.5v4h-3.5zM750 337h4v4h-4zM725.5 348.5h3.5v4h-3.5zM761 356.5h3.5v4h-3.5zM771.5 372h3.5v4h-3.5zM743 376h3.5v3.5h-3.5zM785.5 387.5h3.5v3.5h-3.5zM807 410.5h3.5v4h-3.5zM814 422h3.5v4h-3.5zM715 426h3.5v4h-3.5zM814 426h3.5v4h-3.5zM778.5 430h7v4h-7zM708 434h3.5v3.5h-3.5zM761 434h3.5v3.5h-3.5zM799.5 434h7.5v3.5h-7.5zM690 441.5h3.5v4h-3.5zM686.5 445.5h3.5v3.5h-3.5zM835 445.5h10.5v3.5h-10.5zM831.5 453h3.5v4h-3.5zM874 457h3.5v4h-3.5zM831.5 461h3.5v3.5h-3.5zM831.5 464.5h3.5v4h-3.5zM690 468.5h3.5v4h-3.5zM828 476.5h3.5v3.5h-3.5zM814 499.5h3.5v4h-3.5zM870.5 503.5h3.5v3.5h-3.5zM867 515h3.5v4h-3.5zM686.5 526.5h3.5v4h-3.5zM683 530.5h3.5v4h-3.5zM679.5 534.5h3.5v3.5h-3.5zM679.5 538h3.5v4h-3.5zM732.5 538h3.5v4h-3.5zM803 542h4v4h-4zM679.5 553.5h3.5v4h-3.5zM835 553.5h3.5v4h-3.5z"/>
<path fill="#38e808" d="M771.5 333h3.5v4h-3.5zM835 348.5h3.5v4h-3.5zM831.5 356.5h3.5v4h-3.5zM686.5 383.5h3.5v4h-3.5zM690 387.5h3.5v3.5h-3.5zM845.5 391h3.5v4h-3.5zM838.5 403h3.5v3.5h-3.5zM697 468.5h3.5v4h-3.5zM711.5 495.5h3.5v4h-3.5zM697 503.5h3.5v3.5h-3.5zM792.5 546h3.5v4h-3.5z"/>
<path fill="#58e800" d="M715 337h3.5v4h-3.5zM764.5 337h3.5v4h-3.5zM838.5 360.5h3.5v3.5h-3.5zM845.5 360.5h3.5v3.5h-3.5zM849 364h4v4h-4zM732.5 372h3.5v4h-3.5zM824.5 372h3.5v4h-3.5zM853 372h3.5v4h-3.5zM792.5 376h3.5v3.5h-3.5zM853 376h3.5v3.5h-3.5zM736 383.5h3.5v4h-3.5zM842 387.5h3.5v3.5h-3.5zM679.5 391h3.5v4h-3.5zM690 395h3.5v4h-3.5zM700.5 399h3.5v4h-3.5zM704 403h4v3.5h-4zM835 403h3.5v3.5h-3.5zM715 406.5h7v4h-7zM679.5 422h7v4h-7zM679.5 426h7v4h-7zM831.5 430h3.5v4h-3.5zM771.5 437.5h3.5v4h-3.5zM853 437.5h3.5v4h-3.5zM785.5 441.5h3.5v4h-3.5zM746.5 449h3.5v4h-3.5zM718.5 453h3.5v4h-3.5zM725.5 453h3.5v4h-3.5zM700.5 461h3.5v3.5h-3.5zM824.5 464.5h3.5v4h-3.5zM743 492h3.5v3.5h-3.5zM679.5 495.5h3.5v4h-3.5zM715 495.5h3.5v4h-3.5zM690 511h3.5v4h-3.5zM683 515h3.5v4h-3.5zM874 515h3.5v4h-3.5zM746.5 526.5h3.5v4h-3.5zM799.5 526.5h3.5v4h-3.5zM743 534.5h3.5v3.5h-3.5zM856.5 546h3.5v4h-3.5z"/>
<path fill="#00d820" d="M799.5 337h14.5v4h-14.5zM853 337h3.5v4h-3.5zM796 341h3.5v4h-3.5zM814 341h3.5v4h-3.5zM814 345h3.5v3.5h-3.5zM853 345h3.5v3.5h-3.5zM810.5 348.5h3.5v4h-3.5zM792.5 352.5h3.5v4h-3.5zM807 352.5h3.5v4h-3.5zM796 356.5h7v4h-7zM867 360.5h7v3.5h-7zM708 364h7v4h-7zM704 372h4v4h-4zM722 372h3.5v4h-3.5zM704 376h4v3.5h-4zM704 379.5h4v4h-4zM874 379.5h3.5v4h-3.5zM870.5 383.5h3.5v4h-3.5zM722 387.5h3.5v3.5h-3.5zM853 399h3.5v4h-3.5zM849 403h4v3.5h-4zM842 418.5h3.5v3.5h-3.5zM853 430h3.5v4h-3.5zM761 449h3.5v4h-3.5zM771.5 449h3.5v4h-3.5zM792.5 453h3.5v4h-3.5zM789 457h3.5v4h-3.5zM743 461h3.5v3.5h-3.5zM778.5 461h3.5v3.5h-3.5zM785.5 461h3.5v3.5h-3.5zM782 464.5h3.5v4h-3.5zM817.5 472.5h3.5v4h-3.5zM743 480h3.5v4h-3.5zM750 480h4v4h-4zM761 480h3.5v4h-3.5zM761 484h3.5v4h-3.5zM807 484h3.5v4h-3.5zM697 488h3.5v4h-3.5zM761 488h3.5v4h-3.5zM697 492h3.5v3.5h-3.5zM796 495.5h3.5v4h-3.5zM761 515h3.5v4h-3.5zM792.5 515h3.5v4h-3.5zM792.5 519h3.5v3.5h-3.5zM754 534.5h3.5v3.5h-3.5zM785.5 542h3.5v4h-3.5zM782 550h3.5v3.5h-3.5zM863.5 550h3.5v3.5h-3.5zM739.5 553.5h3.5v4h-3.5z"/>
<path fill="#00c838" d="M863.5 337h3.5v4h-3.5zM860 341h7v4h-7zM863.5 345h7v3.5h-7zM715 376h3.5v3.5h-3.5zM715 379.5h3.5v4h-3.5zM874 387.5h3.5v3.5h-3.5zM870.5 391h3.5v4h-3.5zM867 395h3.5v4h-3.5zM856.5 406.5h3.5v4h-3.5zM853 410.5h3.5v4h-3.5zM849 414.5h4v4h-4zM849 418.5h4v3.5h-4zM853 426h3.5v4h-3.5zM860 430h3.5v4h-3.5zM799.5 453h3.5v4h-3.5zM810.5 453h3.5v4h-3.5zM764.5 457h7v4h-7zM814 457h3.5v4h-3.5zM711.5 468.5h3.5v4h-3.5zM736 468.5h7v4h-7zM704 472.5h4v4h-4zM736 472.5h7v4h-7zM736 476.5h3.5v3.5h-3.5zM700.5 480h3.5v4h-3.5zM729 480h3.5v4h-3.5zM792.5 480h3.5v4h-3.5zM807 480h3.5v4h-3.5zM700.5 484h3.5v4h-3.5zM722 484h3.5v4h-3.5zM704 488h11v4h-11zM782 499.5h3.5v4h-3.5zM782 503.5h3.5v3.5h-3.5zM778.5 507h7v4h-7zM775 511h14v4h-14zM775 515h14v4h-14zM775 519h14v3.5h-14zM778.5 522.5h10.5v4h-10.5zM778.5 526.5h10.5v4h-10.5zM778.5 530.5h7v4h-7zM870.5 534.5h3.5v3.5h-3.5zM761 542h7v4h-7zM867 542h3.5v4h-3.5zM754 546h7v4h-7zM764.5 546h3.5v4h-3.5zM746.5 550h3.5v3.5h-3.5zM768 550h3.5v3.5h-3.5zM768 553.5h3.5v4h-3.5zM867 553.5h3.5v4h-3.5z"/>
<path fill="#d8f800" d="M736 341h7v4h-7zM732.5 345h14v3.5h-14zM746.5 348.5h3.5v4h-3.5zM736 352.5h7v4h-7zM746.5 352.5h7.5v4h-7.5zM743 356.5h11v4h-11zM746.5 360.5h11v3.5h-11zM746.5 364h11v4h-11zM750 368h11v4h-11zM750 372h7.5v4h-7.5zM761 372h3.5v4h-3.5zM750 376h4v3.5h-4zM764.5 376h3.5v3.5h-3.5zM750 379.5h4v4h-4zM764.5 379.5h3.5v4h-3.5zM750 383.5h4v4h-4zM768 383.5h3.5v4h-3.5zM754 387.5h3.5v3.5h-3.5zM754 391h3.5v4h-3.5zM764.5 391h7v4h-7zM757.5 395h10.5v4h-10.5zM757.5 399h3.5v4h-3.5zM757.5 406.5h3.5v4h-3.5zM754 410.5h21v4h-21zM743 414.5h3.5v4h-3.5zM768 414.5h14v4h-14zM736 418.5h3.5v3.5h-3.5zM768 418.5h17.5v3.5h-17.5zM792.5 418.5h3.5v3.5h-3.5zM729 422h3.5v4h-3.5zM764.5 422h7v4h-7zM782 422h17.5v4h-17.5zM761 426h3.5v4h-3.5zM722 430h3.5v4h-3.5zM757.5 430h3.5v4h-3.5zM722 437.5h3.5v4h-3.5zM725.5 441.5h3.5v4h-3.5zM746.5 441.5h3.5v4h-3.5zM736 445.5h3.5v3.5h-3.5zM849 449h4v4h-4zM679.5 453h7v4h-7zM842 453h3.5v4h-3.5zM867 453h3.5v4h-3.5zM686.5 457h3.5v4h-3.5zM838.5 457h3.5v4h-3.5zM838.5 461h3.5v3.5h-3.5zM870.5 461h3.5v3.5h-3.5zM686.5 472.5h3.5v4h-3.5zM835 472.5h3.5v4h-3.5zM679.5 480h7v4h-7zM831.5 480h3.5v4h-3.5zM828 484h3.5v4h-3.5zM870.5 484h3.5v4h-3.5zM824.5 488h3.5v4h-3.5zM821 492h3.5v3.5h-3.5zM729 499.5h7v4h-7zM817.5 499.5h3.5v4h-3.5zM867 499.5h3.5v4h-3.5zM718.5 503.5h3.5v3.5h-3.5zM739.5 503.5h3.5v3.5h-3.5zM814 511h3.5v4h-3.5zM863.5 515h3.5v4h-3.5zM697 522.5h3.5v4h-3.5zM693.5 526.5h3.5v4h-3.5zM810.5 526.5h3.5v4h-3.5zM732.5 530.5h3.5v4h-3.5zM810.5 530.5h3.5v4h-3.5zM856.5 530.5h3.5v4h-3.5zM690 534.5h3.5v3.5h-3.5zM729 534.5h3.5v3.5h-3.5zM810.5 534.5h3.5v3.5h-3.5zM853 534.5h3.5v3.5h-3.5zM690 538h3.5v4h-3.5zM849 538h4v4h-4zM690 542h3.5v4h-3.5zM810.5 542h3.5v4h-3.5zM845.5 542h3.5v4h-3.5zM690 546h3.5v4h-3.5zM718.5 546h3.5v4h-3.5zM835 546h3.5v4h-3.5zM690 550h3.5v3.5h-3.5zM715 550h3.5v3.5h-3.5zM821 550h7v3.5h-7zM690 553.5h3.5v4h-3.5zM817.5 553.5h7v4h-7z"/>
<path fill="#e0f800" d="M736 348.5h10.5v4h-10.5zM743 352.5h3.5v4h-3.5zM757.5 372h3.5v4h-3.5zM754 376h10.5v3.5h-10.5zM754 379.5h10.5v4h-10.5zM754 383.5h14v4h-14zM757.5 387.5h10.5v3.5h-10.5zM757.5 391h7v4h-7zM746.5 414.5h21.5v4h-21.5zM739.5 418.5h3.5v3.5h-3.5zM761 418.5h7v3.5h-7zM732.5 422h3.5v4h-3.5zM757.5 422h7v4h-7zM725.5 426h3.5v4h-3.5zM757.5 426h3.5v4h-3.5zM722 434h3.5v3.5h-3.5zM754 434h3.5v3.5h-3.5zM853 449h10.5v4h-10.5zM845.5 453h3.5v4h-3.5zM842 457h3.5v4h-3.5zM686.5 461h3.5v3.5h-3.5zM838.5 464.5h3.5v4h-3.5zM870.5 464.5h3.5v4h-3.5zM686.5 468.5h3.5v4h-3.5zM838.5 468.5h3.5v4h-3.5zM870.5 468.5h3.5v4h-3.5zM870.5 472.5h3.5v4h-3.5zM835 476.5h3.5v3.5h-3.5zM870.5 476.5h3.5v3.5h-3.5zM870.5 480h3.5v4h-3.5zM831.5 484h3.5v4h-3.5zM867 492h3.5v3.5h-3.5zM867 495.5h3.5v4h-3.5zM715 507h3.5v4h-3.5zM739.5 507h3.5v4h-3.5zM711.5 511h3.5v4h-3.5zM739.5 511h3.5v4h-3.5zM863.5 511h3.5v4h-3.5zM708 515h3.5v4h-3.5zM739.5 515h3.5v4h-3.5zM814 515h3.5v4h-3.5zM704 519h4v3.5h-4zM700.5 522.5h3.5v4h-3.5zM736 522.5h3.5v4h-3.5zM860 522.5h3.5v4h-3.5zM693.5 530.5h3.5v4h-3.5zM693.5 534.5h3.5v3.5h-3.5zM725.5 538h3.5v4h-3.5zM810.5 538h3.5v4h-3.5zM722 542h3.5v4h-3.5zM693.5 546h3.5v4h-3.5zM810.5 546h3.5v4h-3.5zM831.5 546h3.5v4h-3.5zM693.5 550h3.5v3.5h-3.5zM711.5 550h3.5v3.5h-3.5zM810.5 550h10.5v3.5h-10.5zM693.5 553.5h3.5v4h-3.5zM711.5 553.5h3.5v4h-3.5zM810.5 553.5h7v4h-7z"/>
<path fill="#00c040" d="M874 391h3.5v4h-3.5zM856.5 410.5h3.5v4h-3.5zM856.5 426h3.5v4h-3.5zM867 434h3.5v3.5h-3.5zM803 453h7.5v4h-7.5zM796 457h3.5v4h-3.5zM792.5 464.5h3.5v4h-3.5zM708 472.5h3.5v4h-3.5zM729 472.5h3.5v4h-3.5zM792.5 472.5h3.5v4h-3.5zM704 476.5h4v3.5h-4zM729 476.5h3.5v3.5h-3.5zM725.5 480h3.5v4h-3.5zM799.5 480h7.5v4h-7.5zM704 484h4v4h-4zM867 546h3.5v4h-3.5zM750 550h14.5v3.5h-14.5zM761 553.5h3.5v4h-3.5z"/>
<path fill="#00c048" d="M870.5 395h3.5v4h-3.5zM867 399h3.5v4h-3.5zM863.5 403h3.5v3.5h-3.5zM860 406.5h3.5v4h-3.5zM856.5 414.5h3.5v4h-3.5zM856.5 418.5h3.5v3.5h-3.5zM856.5 422h3.5v4h-3.5zM792.5 468.5h3.5v4h-3.5zM711.5 472.5h3.5v4h-3.5zM718.5 472.5h10.5v4h-10.5zM814 472.5h3.5v4h-3.5zM708 476.5h3.5v3.5h-3.5zM725.5 476.5h3.5v3.5h-3.5zM796 476.5h3.5v3.5h-3.5zM810.5 476.5h3.5v3.5h-3.5zM704 480h4v4h-4zM722 480h3.5v4h-3.5zM708 484h10.5v4h-10.5zM750 553.5h11v4h-11z"/>
<path fill="#00c050" d="M874 395h3.5v4h-3.5zM860 410.5h3.5v4h-3.5zM860 426h3.5v4h-3.5zM863.5 430h3.5v4h-3.5zM810.5 457h3.5v4h-3.5zM814 461h3.5v3.5h-3.5zM715 472.5h3.5v4h-3.5zM711.5 476.5h3.5v3.5h-3.5zM722 476.5h3.5v3.5h-3.5zM708 480h7v4h-7zM718.5 480h3.5v4h-3.5zM870.5 538h3.5v4h-3.5zM870.5 553.5h3.5v4h-3.5z"/>
<path fill="#00c840" d="M863.5 399h3.5v4h-3.5zM860 403h3.5v3.5h-3.5zM853 414.5h3.5v4h-3.5zM853 418.5h3.5v3.5h-3.5zM853 422h3.5v4h-3.5zM874 437.5h3.5v4h-3.5zM792.5 461h3.5v3.5h-3.5zM715 468.5h21v4h-21zM732.5 472.5h3.5v4h-3.5zM732.5 476.5h3.5v3.5h-3.5zM792.5 476.5h3.5v3.5h-3.5zM796 480h3.5v4h-3.5zM718.5 484h3.5v4h-3.5zM874 530.5h3.5v4h-3.5zM761 546h3.5v4h-3.5zM764.5 550h3.5v3.5h-3.5zM867 550h3.5v3.5h-3.5zM746.5 553.5h3.5v4h-3.5zM764.5 553.5h3.5v4h-3.5z"/>
<path fill="#00b858" d="M870.5 399h3.5v4h-3.5zM867 403h3.5v3.5h-3.5zM860 414.5h3.5v4h-3.5zM860 418.5h3.5v3.5h-3.5zM860 422h3.5v4h-3.5zM796 464.5h3.5v4h-3.5zM814 464.5h3.5v4h-3.5zM803 476.5h4v3.5h-4zM874 534.5h3.5v3.5h-3.5zM870.5 542h3.5v4h-3.5z"/>
<path fill="#00b860" d="M874 399h3.5v4h-3.5zM863.5 410.5h3.5v4h-3.5zM867 430h3.5v4h-3.5zM803 457h7.5v4h-7.5zM796 468.5h3.5v4h-3.5zM810.5 472.5h3.5v4h-3.5zM870.5 546h3.5v4h-3.5zM874 553.5h3.5v4h-3.5z"/>
<path fill="#00b868" d="M870.5 403h3.5v3.5h-3.5zM867 406.5h3.5v4h-3.5zM863.5 426h3.5v4h-3.5zM874 434h3.5v3.5h-3.5zM799.5 461h3.5v3.5h-3.5zM810.5 461h3.5v3.5h-3.5zM799.5 472.5h3.5v4h-3.5zM874 550h3.5v3.5h-3.5z"/>
<path fill="#00c078" d="M874 403h3.5v3.5h-3.5zM870.5 406.5h3.5v4h-3.5zM867 410.5h3.5v4h-3.5zM863.5 418.5h3.5v3.5h-3.5zM803 461h7.5v3.5h-7.5zM810.5 464.5h3.5v4h-3.5z"/>
<path fill="#00b850" d="M863.5 406.5h3.5v4h-3.5zM870.5 434h3.5v3.5h-3.5zM799.5 457h3.5v4h-3.5zM796 461h3.5v3.5h-3.5zM814 468.5h3.5v4h-3.5zM796 472.5h3.5v4h-3.5zM715 476.5h7v3.5h-7zM799.5 476.5h3.5v3.5h-3.5zM807 476.5h3.5v3.5h-3.5zM715 480h3.5v4h-3.5zM870.5 550h3.5v3.5h-3.5z"/>
<path fill="#00c090" d="M874 406.5h3.5v4h-3.5zM870.5 410.5h3.5v4h-3.5zM867 418.5h3.5v3.5h-3.5zM867 422h3.5v4h-3.5zM874 430h3.5v4h-3.5z"/>
<path fill="#00c8a8" d="M874 410.5h3.5v4h-3.5zM870.5 418.5h3.5v3.5h-3.5zM870.5 422h3.5v4h-3.5z"/>
<path fill="#00c070" d="M863.5 414.5h3.5v4h-3.5zM863.5 422h3.5v4h-3.5zM799.5 464.5h3.5v4h-3.5zM799.5 468.5h3.5v4h-3.5zM810.5 468.5h3.5v4h-3.5zM803 472.5h7.5v4h-7.5zM874 538h3.5v4h-3.5z"/>
<path fill="#00c088" d="M867 414.5h3.5v4h-3.5zM803 464.5h7.5v4h-7.5z"/>
<path fill="#00c8a0" d="M870.5 414.5h3.5v4h-3.5z"/>
<path fill="#00c8b8" d="M874 414.5h3.5v4h-3.5z"/>
<path fill="#e8f000" d="M743 418.5h18v3.5h-18zM736 422h3.5v4h-3.5zM754 422h3.5v4h-3.5zM729 426h3.5v4h-3.5zM754 430h3.5v4h-3.5zM750 437.5h4v4h-4zM729 441.5h3.5v4h-3.5zM863.5 453h3.5v4h-3.5zM679.5 457h7v4h-7zM867 457h3.5v4h-3.5zM842 461h3.5v3.5h-3.5zM686.5 464.5h3.5v4h-3.5zM838.5 472.5h3.5v4h-3.5zM683 476.5h3.5v3.5h-3.5zM838.5 476.5h3.5v3.5h-3.5zM835 480h3.5v4h-3.5zM828 488h3.5v4h-3.5zM867 488h3.5v4h-3.5zM821 495.5h3.5v4h-3.5zM722 503.5h3.5v3.5h-3.5zM736 503.5h3.5v3.5h-3.5zM817.5 503.5h3.5v3.5h-3.5zM863.5 507h3.5v4h-3.5zM814 519h3.5v3.5h-3.5zM860 519h3.5v3.5h-3.5zM814 522.5h3.5v4h-3.5zM697 526.5h3.5v4h-3.5zM732.5 526.5h3.5v4h-3.5zM856.5 526.5h3.5v4h-3.5zM729 530.5h3.5v4h-3.5zM725.5 534.5h3.5v3.5h-3.5zM693.5 538h3.5v4h-3.5zM722 538h3.5v4h-3.5zM845.5 538h3.5v4h-3.5zM693.5 542h3.5v4h-3.5zM814 542h3.5v4h-3.5zM842 542h3.5v4h-3.5zM697 546h3.5v4h-3.5zM715 546h3.5v4h-3.5zM814 546h17.5v4h-17.5zM697 550h3.5v3.5h-3.5zM697 553.5h3.5v4h-3.5zM708 553.5h3.5v4h-3.5z"/>
<path fill="#00c8c8" d="M874 418.5h3.5v3.5h-3.5zM874 422h3.5v4h-3.5z"/>
<path fill="#f0f000" d="M739.5 422h3.5v4h-3.5zM750 422h4v4h-4zM754 426h3.5v4h-3.5zM725.5 430h3.5v4h-3.5zM725.5 437.5h3.5v4h-3.5zM743 441.5h3.5v4h-3.5zM849 453h4v4h-4zM860 453h3.5v4h-3.5zM845.5 457h3.5v4h-3.5zM683 461h3.5v3.5h-3.5zM867 461h3.5v3.5h-3.5zM842 464.5h3.5v4h-3.5zM842 468.5h3.5v4h-3.5zM842 472.5h3.5v4h-3.5zM679.5 476.5h3.5v3.5h-3.5zM838.5 480h3.5v4h-3.5zM867 480h3.5v4h-3.5zM835 484h3.5v4h-3.5zM867 484h3.5v4h-3.5zM831.5 488h3.5v4h-3.5zM824.5 492h3.5v3.5h-3.5zM863.5 499.5h3.5v4h-3.5zM732.5 503.5h3.5v3.5h-3.5zM863.5 503.5h3.5v3.5h-3.5zM817.5 507h3.5v4h-3.5zM708 519h3.5v3.5h-3.5zM736 519h3.5v3.5h-3.5zM704 522.5h4v4h-4zM700.5 526.5h3.5v4h-3.5zM814 526.5h3.5v4h-3.5zM697 530.5h3.5v4h-3.5zM814 530.5h3.5v4h-3.5zM853 530.5h3.5v4h-3.5zM697 534.5h3.5v3.5h-3.5zM722 534.5h3.5v3.5h-3.5zM814 534.5h3.5v3.5h-3.5zM849 534.5h4v3.5h-4zM697 538h3.5v4h-3.5zM814 538h3.5v4h-3.5zM697 542h3.5v4h-3.5zM718.5 542h3.5v4h-3.5zM817.5 542h3.5v4h-3.5zM835 542h7v4h-7zM700.5 546h3.5v4h-3.5zM711.5 546h3.5v4h-3.5zM700.5 550h11v3.5h-11zM700.5 553.5h7.5v4h-7.5z"/>
<path fill="#f8f000" d="M743 422h7v4h-7zM732.5 426h3.5v4h-3.5zM750 426h4v4h-4zM725.5 434h3.5v3.5h-3.5zM750 434h4v3.5h-4zM732.5 441.5h3.5v4h-3.5zM853 453h7v4h-7zM849 457h4v4h-4zM863.5 457h3.5v4h-3.5zM679.5 461h3.5v3.5h-3.5zM845.5 461h3.5v3.5h-3.5zM683 464.5h3.5v4h-3.5zM845.5 464.5h3.5v4h-3.5zM867 464.5h3.5v4h-3.5zM845.5 468.5h3.5v4h-3.5zM867 468.5h3.5v4h-3.5zM679.5 472.5h7v4h-7zM867 472.5h3.5v4h-3.5zM842 476.5h3.5v3.5h-3.5zM867 476.5h3.5v3.5h-3.5zM842 480h3.5v4h-3.5zM838.5 484h3.5v4h-3.5zM835 488h3.5v4h-3.5zM863.5 488h3.5v4h-3.5zM828 492h3.5v3.5h-3.5zM863.5 492h3.5v3.5h-3.5zM863.5 495.5h3.5v4h-3.5zM821 499.5h3.5v4h-3.5zM725.5 503.5h7v3.5h-7zM718.5 507h3.5v4h-3.5zM736 507h3.5v4h-3.5zM715 511h3.5v4h-3.5zM736 511h3.5v4h-3.5zM817.5 511h3.5v4h-3.5zM711.5 515h3.5v4h-3.5zM736 515h3.5v4h-3.5zM860 515h3.5v4h-3.5zM711.5 519h3.5v3.5h-3.5zM708 522.5h3.5v4h-3.5zM732.5 522.5h3.5v4h-3.5zM856.5 522.5h3.5v4h-3.5zM704 526.5h4v4h-4zM729 526.5h3.5v4h-3.5zM700.5 530.5h3.5v4h-3.5zM722 530.5h7v4h-7zM817.5 530.5h3.5v4h-3.5zM700.5 534.5h3.5v3.5h-3.5zM718.5 534.5h3.5v3.5h-3.5zM817.5 534.5h3.5v3.5h-3.5zM700.5 538h3.5v4h-3.5zM718.5 538h3.5v4h-3.5zM817.5 538h3.5v4h-3.5zM842 538h3.5v4h-3.5zM700.5 542h3.5v4h-3.5zM711.5 542h7v4h-7zM821 542h14v4h-14zM704 546h7.5v4h-7.5z"/>
<path fill="#f8e800" d="M736 426h14v4h-14zM729 430h3.5v4h-3.5zM750 430h4v4h-4zM729 437.5h3.5v4h-3.5zM746.5 437.5h3.5v4h-3.5zM736 441.5h7v4h-7zM853 457h10.5v4h-10.5zM849 461h4v3.5h-4zM863.5 461h3.5v3.5h-3.5zM679.5 464.5h3.5v4h-3.5zM849 464.5h4v4h-4zM863.5 464.5h3.5v4h-3.5zM679.5 468.5h7v4h-7zM863.5 468.5h3.5v4h-3.5zM845.5 472.5h3.5v4h-3.5zM863.5 472.5h3.5v4h-3.5zM845.5 476.5h3.5v3.5h-3.5zM863.5 476.5h3.5v3.5h-3.5zM845.5 480h3.5v4h-3.5zM863.5 480h3.5v4h-3.5zM842 484h7v4h-7zM860 484h7v4h-7zM838.5 488h7v4h-7zM860 488h3.5v4h-3.5zM831.5 492h14v3.5h-14zM860 492h3.5v3.5h-3.5zM824.5 495.5h3.5v4h-3.5zM860 495.5h3.5v4h-3.5zM860 499.5h3.5v4h-3.5zM821 503.5h3.5v3.5h-3.5zM860 503.5h3.5v3.5h-3.5zM722 507h7v4h-7zM732.5 507h3.5v4h-3.5zM860 507h3.5v4h-3.5zM718.5 511h3.5v4h-3.5zM860 511h3.5v4h-3.5zM715 515h3.5v4h-3.5zM732.5 515h3.5v4h-3.5zM817.5 515h3.5v4h-3.5zM715 519h3.5v3.5h-3.5zM732.5 519h3.5v3.5h-3.5zM817.5 519h3.5v3.5h-3.5zM856.5 519h3.5v3.5h-3.5zM711.5 522.5h7v4h-7zM725.5 522.5h7v4h-7zM817.5 522.5h3.5v4h-3.5zM708 526.5h21v4h-21zM817.5 526.5h3.5v4h-3.5zM853 526.5h3.5v4h-3.5zM704 530.5h18v4h-18zM821 530.5h3.5v4h-3.5zM849 530.5h4v4h-4zM704 534.5h14.5v3.5h-14.5zM821 534.5h3.5v3.5h-3.5zM845.5 534.5h3.5v3.5h-3.5zM704 538h14.5v4h-14.5zM821 538h21v4h-21zM704 542h7.5v4h-7.5z"/>
<path fill="#00c080" d="M867 426h3.5v4h-3.5zM870.5 430h3.5v4h-3.5zM803 468.5h7.5v4h-7.5zM874 542h3.5v4h-3.5zM874 546h3.5v4h-3.5z"/>
<path fill="#00c898" d="M870.5 426h3.5v4h-3.5z"/>
<path fill="#00c8b0" d="M874 426h3.5v4h-3.5z"/>
<path fill="#ffe000" d="M732.5 430h3.5v4h-3.5zM746.5 430h3.5v4h-3.5zM746.5 434h3.5v3.5h-3.5zM856.5 461h7v3.5h-7zM853 464.5h3.5v4h-3.5zM860 464.5h3.5v4h-3.5zM853 468.5h3.5v4h-3.5zM860 468.5h3.5v4h-3.5zM853 472.5h3.5v4h-3.5zM860 472.5h3.5v4h-3.5zM849 476.5h14.5v3.5h-14.5zM849 480h11v4h-11zM849 484h11v4h-11zM849 488h11v4h-11zM845.5 492h14.5v3.5h-14.5zM831.5 495.5h28.5v4h-28.5zM824.5 499.5h3.5v4h-3.5zM856.5 499.5h3.5v4h-3.5zM856.5 503.5h3.5v3.5h-3.5zM821 507h3.5v4h-3.5zM856.5 507h3.5v4h-3.5zM722 511h10.5v4h-10.5zM856.5 511h3.5v4h-3.5zM718.5 515h14v4h-14zM718.5 519h14v3.5h-14zM821 522.5h3.5v4h-3.5zM853 522.5h3.5v4h-3.5zM821 526.5h3.5v4h-3.5zM849 526.5h4v4h-4zM824.5 530.5h3.5v4h-3.5zM845.5 530.5h3.5v4h-3.5zM828 534.5h3.5v3.5h-3.5zM838.5 534.5h7v3.5h-7z"/>
<path fill="#ffd800" d="M736 430h10.5v4h-10.5zM732.5 434h3.5v3.5h-3.5zM732.5 437.5h3.5v4h-3.5zM743 437.5h3.5v4h-3.5zM856.5 464.5h3.5v4h-3.5zM856.5 468.5h3.5v4h-3.5zM856.5 472.5h3.5v4h-3.5zM828 499.5h3.5v4h-3.5zM838.5 499.5h18v4h-18zM824.5 503.5h3.5v3.5h-3.5zM849 503.5h7.5v3.5h-7.5zM853 507h3.5v4h-3.5zM821 511h3.5v4h-3.5zM853 511h3.5v4h-3.5zM821 515h3.5v4h-3.5zM853 515h3.5v4h-3.5zM821 519h3.5v3.5h-3.5zM853 519h3.5v3.5h-3.5zM824.5 526.5h3.5v4h-3.5zM828 530.5h3.5v4h-3.5zM842 530.5h3.5v4h-3.5zM831.5 534.5h7v3.5h-7z"/>
<path fill="#f8e000" d="M729 434h3.5v3.5h-3.5zM853 461h3.5v3.5h-3.5zM849 468.5h4v4h-4zM849 472.5h4v4h-4zM860 480h3.5v4h-3.5zM845.5 488h3.5v4h-3.5zM828 495.5h3.5v4h-3.5zM729 507h3.5v4h-3.5zM732.5 511h3.5v4h-3.5zM856.5 515h3.5v4h-3.5zM718.5 522.5h7v4h-7zM824.5 534.5h3.5v3.5h-3.5z"/>
<path fill="#ffd000" d="M736 434h3.5v3.5h-3.5zM743 434h3.5v3.5h-3.5zM736 437.5h7v4h-7zM831.5 499.5h7v4h-7zM842 503.5h7v3.5h-7zM824.5 507h3.5v4h-3.5zM845.5 507h7.5v4h-7.5zM849 511h4v4h-4zM849 515h4v4h-4zM849 519h4v3.5h-4zM824.5 522.5h3.5v4h-3.5zM849 522.5h4v4h-4zM828 526.5h3.5v4h-3.5zM845.5 526.5h3.5v4h-3.5zM831.5 530.5h10.5v4h-10.5z"/>
<path fill="#ffc800" d="M739.5 434h3.5v3.5h-3.5zM828 503.5h14v3.5h-14zM842 507h3.5v4h-3.5zM824.5 511h3.5v4h-3.5zM845.5 511h3.5v4h-3.5zM824.5 515h3.5v4h-3.5zM845.5 515h3.5v4h-3.5zM824.5 519h3.5v3.5h-3.5zM845.5 519h3.5v3.5h-3.5zM845.5 522.5h3.5v4h-3.5zM831.5 526.5h3.5v4h-3.5zM842 526.5h3.5v4h-3.5z"/>
<path fill="#ffc000" d="M828 507h3.5v4h-3.5zM838.5 507h3.5v4h-3.5zM842 511h3.5v4h-3.5zM828 522.5h3.5v4h-3.5zM842 522.5h3.5v4h-3.5zM835 526.5h7v4h-7z"/>
<path fill="#ffb800" d="M831.5 507h7v4h-7zM828 511h3.5v4h-3.5zM838.5 511h3.5v4h-3.5zM828 515h3.5v4h-3.5zM842 515h3.5v4h-3.5zM828 519h7v3.5h-7zM842 519h3.5v3.5h-3.5zM831.5 522.5h10.5v4h-10.5z"/>
<path fill="#ffb000" d="M831.5 511h7v4h-7zM831.5 515h10.5v4h-10.5zM835 519h7v3.5h-7z"/>
<path fill="#fff" d="M764.5 379h3.5v7.5h-3.5zM768 387h3.5v4h-3.5zM772 390h4v4h-4zM787 402h3.6v4h-3.6zM798 414h4v3.9h-4zM801.5 418h3.6v4h-3.6zM816 397.5h4v4h-4zM812.5 401.5h3.5v2h-3.5z"/>
</g>
<g transform="translate(0 290)" stroke="#000" stroke-width="1" fill="none" stroke-linejoin="round" shape-rendering="crispEdges">
<path d="M679.7 74.7L684 80.7L685.8 91L686.6 103.1L689.2 113.4L695.2 125.5L694.4 134.1L690 135.9L685.8 129L679.7 128.1"/>
<path d="M699.6 82.5L699 85.8" stroke-width="1.5"/>
<path d="M705.6 100.5L709.9 99.7L717.7 102.2L723.7 106.6L726.3 110.9L722 115.2L718.5 116.9L716.8 111.7L714.2 104.8L709 103.1z"/>
<path d="M714.2 117.8L715.9 119.5L715.1 124.7L713.3 127.2L712.5 122.9L713.3 118.6z"/>
<path d="M724.4 118.6L726.6 117.6" stroke-width="1.5"/>
<path d="M731.8 119L733 118.2"/>
<path d="M736.6 121.2L739.2 117.8L742.7 117.8L744.4 122.1L743.5 125.5L740.1 124.7z"/>
<path d="M686.4 148.2L688.8 145.8L688.2 148.4z"/>
<path d="M761.4 92.2L758.8 88.6L755.7 85L754.1 80.3L753.1 76.2L751 73.1L750.5 70L751.5 66.9L753.1 64.8L751 62.2L752.6 59.1L754.1 56.5L755.7 56L757.2 58.6L759.8 60.2L761.4 64.3L762.4 67.4L761.4 70L761.9 73.1L764 75.7L765.5 79.3"/>
<path d="M753.6 66.6L754.4 66.6"/>
<path d="M769 85.3L769.8 85.3"/>
<path d="M765.9 91.4L767.6 95.7" stroke-width="1.5"/>
<path d="M770.7 99.3L775.9 101.2L783 105.9L788.7 110.2L795.4 115.4L798.2 117.8L801.1 122.5L806.7 126.8L812.4 129.6L818.1 134.4L822.9 138.2L825.7 139.6L826.7 144.3L822.9 146.7L818.1 144.3L812.4 140.5L806.7 137.7L803 133.9L797.3 129.6L791.6 125.8L787.8 122.5L784 117.8L780.2 113.5L776.4 108.3L774.5 105.4L772 102.5z" fill="#f6c39c" stroke-width="2"/>
<path d="M799.5 93.1L802.9 92.2L807.2 95.7L805.5 99.1L801.2 98.3L798.6 94.8z"/>
<path d="M811.6 108.6L816.7 107.8L821 107.8L820.2 111.2L816.7 112.9L813.3 111.2z"/>
<path d="M827.9 112.9L831.4 112.9L833.1 118.1L832.2 121.6L828.8 119.8L827.1 116.4z" fill="#f6c39c"/>
<path d="M836.6 122.4L837.4 122.9"/>
<path d="M840 121.2L841 121.8"/>
<path d="M841.5 125.5L845 125L846.5 128.5L844.5 131L842 129.5z" fill="#f6c39c"/>
<path d="M833.8 149.5L835.6 150.8L834.4 151.4z" stroke-width="1.2"/>
<path d="M844.3 34.8L845 37.5L848.5 39L850 36.2L846.5 34.8z" fill="#f6c39c"/>
<path d="M848.5 36L852.4 37.5L854.6 40.2L855.6 42.8" stroke-width="1.6"/>
<path d="M849.5 43L851.5 42.5L851.5 44.6" stroke-width="1.3"/>
<path d="M851.5 46L851.8 47.5" stroke-width="1.3"/>
<path d="M846.3 54.6L848.8 51.2L851 49.6L853.4 51L854.8 53.7L853.5 57.4L849.4 57.4L847 56z" fill="#f6c39c" stroke-width="1.8"/>
<path d="M861.9 73.4L866 74.4L867.4 78.5L865 80.2L861.9 77.5z" fill="#f6c39c" stroke-width="1.4"/>
<path d="M866.6 86.4L869.1 87.9L870.1 92L867.4 92L865.4 88.9z" fill="#f6c39c" stroke-width="1.4"/>
<path d="M872 85.4L872.6 86.2" stroke-width="1.2"/>
<path d="M874.3 102.5L876.3 102.8L875.8 104.6z" fill="#f6c39c" stroke-width="1.2"/>
<circle cx="778.5" cy="150.9" r="5"/>
</g>
<g stroke="#000" stroke-width="1" fill="none" shape-rendering="crispEdges">
<rect x="679.5" y="325.5" width="198" height="232"/>
<path d="M701.5 325.5v-3M701.5 557.5v3M737.5 325.5v-3M737.5 557.5v3M772.5 325.5v-3M772.5 557.5v3M808.5 325.5v-3M808.5 557.5v3M844.5 325.5v-3M844.5 557.5v3M679.5 350.5h-3M877.5 350.5h3M679.5 389.5h-3M877.5 389.5h3M679.5 428.5h-3M877.5 428.5h3M679.5 466.5h-3M877.5 466.5h3M679.5 505.5h-3M877.5 505.5h3M679.5 544.5h-3M877.5 544.5h3"/>
</g>
<text x="701.4" y="573.8" font-size="12" text-anchor="middle">160</text>
<text x="737.1" y="573.8" font-size="12" text-anchor="middle">162</text>
<text x="772.8" y="573.8" font-size="12" text-anchor="middle">164</text>
<text x="808.5" y="573.8" font-size="12" text-anchor="middle">166</text>
<text x="844.2" y="573.8" font-size="12" text-anchor="middle">168</text>
<text x="673.5" y="354.3" font-size="12" text-anchor="end">-18</text>
<text x="673.5" y="393.1" font-size="12" text-anchor="end">-20</text>
<text x="673.5" y="431.9" font-size="12" text-anchor="end">-22</text>
<text x="673.5" y="470.7" font-size="12" text-anchor="end">-24</text>
<text x="673.5" y="509.5" font-size="12" text-anchor="end">-26</text>
<text x="673.5" y="548.3" font-size="12" text-anchor="end">-28</text>
<text x="709" y="301.8" font-size="12" textLength="87" lengthAdjust="spacing">Altim. SLA: 0.13</text>
<text x="694" y="315.6" font-size="12" textLength="165" lengthAdjust="spacing">Argo h1000: 0.13 h2000: 0.12</text>
<text transform="translate(894.5 548) rotate(-90)" font-size="12" textLength="172" lengthAdjust="spacing">©IMOS 02-Aug-2017 23:47:03</text>
</svg>
</body></html>
